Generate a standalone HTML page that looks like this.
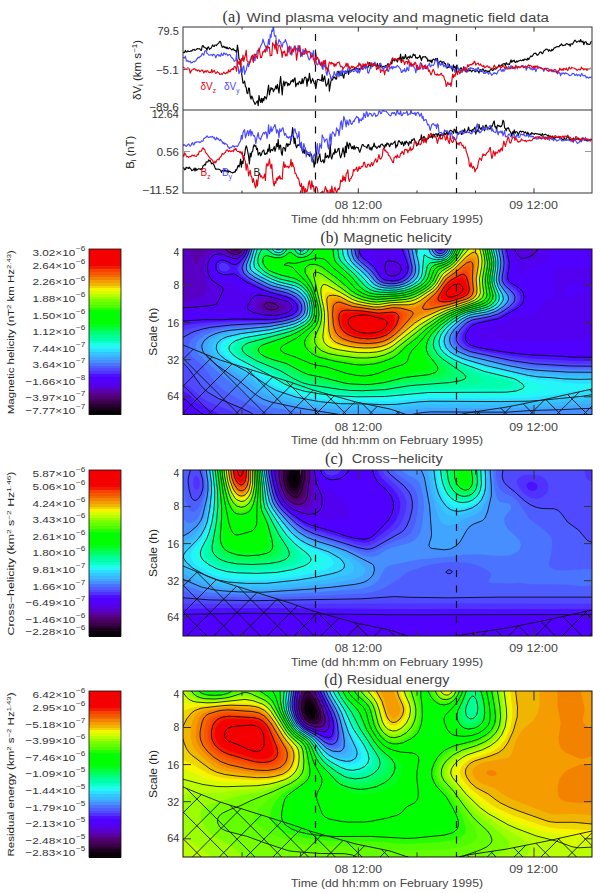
<!DOCTYPE html>
<html><head><meta charset="utf-8"><style>html,body{margin:0;padding:0;background:#fff;}body{width:600px;height:893px;overflow:hidden;}svg{display:block;}</style></head><body>
<svg width="600" height="893" viewBox="0 0 600 893">
<defs>
<clipPath id="pcb"><rect x="183" y="249" width="409" height="165.5"/></clipPath>
<clipPath id="pcc"><rect x="183" y="470" width="409" height="166"/></clipPath>
<clipPath id="pcd"><rect x="183" y="691" width="409" height="166"/></clipPath>
<clipPath id="pau"><rect x="183" y="27" width="409" height="83"/></clipPath>
<clipPath id="pal"><rect x="183" y="110" width="409" height="83"/></clipPath>
</defs>
<rect width="600" height="893" fill="#fff"/>
<text x="222.5" y="21.8" font-size="16.5" textLength="18" lengthAdjust="spacingAndGlyphs" fill="#333" font-family='"Liberation Serif", serif'>(a)</text>
<text x="246.5" y="21.6" font-size="12.5" textLength="302.5" lengthAdjust="spacingAndGlyphs" fill="#444" font-family='"Liberation Sans", sans-serif'>Wind plasma velocity and magnetic field data</text>
<path d="M183.0 52.0 183.8 52.8 184.6 52.4 185.4 50.4 186.2 52.0 187.0 52.0 187.8 50.8 188.6 51.5 189.4 51.5 190.2 51.3 191.0 50.8 191.8 51.1 192.6 49.7 193.4 49.8 194.2 49.4 195.0 50.3 195.8 49.9 196.6 49.3 197.4 48.5 198.2 48.7 199.0 49.0 199.8 48.7 200.6 50.2 201.4 50.3 202.2 46.2 203.0 45.5 203.8 47.1 204.6 47.3 205.4 48.0 206.2 48.1 207.0 50.2 207.8 47.2 208.6 46.9 209.4 49.4 210.2 48.6 211.0 48.3 211.8 46.8 212.6 44.9 213.4 46.2 214.2 46.5 215.0 45.0 215.8 45.0 216.6 45.6 217.4 44.1 218.2 43.5 219.0 42.6 219.8 41.3 220.6 41.9 221.4 45.0 222.2 47.2 223.0 47.1 223.8 46.1 224.6 47.6 225.4 47.0 226.2 48.5 227.0 47.0 227.8 48.9 228.6 48.8 229.4 47.6 230.2 48.4 231.0 49.2 231.8 50.0 232.6 49.1 233.4 48.8 234.2 50.4 235.0 50.4 235.8 50.8 236.6 53.2 237.4 45.2 238.2 50.2 239.0 59.1 239.8 59.4 240.6 61.7 241.4 72.2 242.2 77.4 243.0 83.1 243.8 82.9 244.6 81.0 245.4 86.3 246.2 87.4 247.0 93.0 247.8 93.6 248.6 88.0 249.4 88.3 250.2 96.5 251.0 99.2 251.8 96.0 252.6 97.9 253.4 100.7 254.2 102.3 255.0 104.4 255.8 103.2 256.6 101.8 257.4 100.9 258.2 105.6 259.0 95.6 259.8 100.0 260.6 102.4 261.4 98.3 262.2 102.7 263.0 98.4 263.8 100.8 264.6 96.5 265.4 97.1 266.2 99.1 267.0 96.2 267.8 90.2 268.6 85.2 269.4 94.8 270.2 91.0 271.0 87.6 271.8 89.2 272.6 88.4 273.4 91.7 274.2 89.8 275.0 88.9 275.8 85.8 276.6 88.8 277.4 84.3 278.2 88.6 279.0 93.1 279.8 83.5 280.6 76.6 281.4 85.1 282.2 94.9 283.0 85.4 283.8 81.0 284.6 85.9 285.4 82.3 286.2 82.1 287.0 82.6 287.8 85.8 288.6 83.5 289.4 85.0 290.2 83.8 291.0 80.9 291.8 81.7 292.6 79.6 293.4 82.2 294.2 79.0 295.0 77.9 295.8 86.6 296.6 84.1 297.4 83.1 298.2 84.7 299.0 81.9 299.8 81.4 300.6 83.6 301.4 83.7 302.2 78.5 303.0 83.7 303.8 80.4 304.6 77.5 305.4 77.0 306.2 78.6 307.0 86.3 307.8 78.9 308.6 81.0 309.4 73.4 310.2 78.4 311.0 83.3 311.8 80.9 312.6 78.6 313.4 80.8 314.2 83.2 315.0 83.9 315.8 88.7 316.6 84.0 317.4 79.4 318.2 79.5 319.0 79.6 319.8 80.2 320.6 80.1 321.4 80.9 322.2 74.6 323.0 81.5 323.8 79.0 324.6 76.0 325.4 81.6 326.2 86.1 327.0 84.8 327.8 83.2 328.6 78.8 329.4 91.1 330.2 85.3 331.0 81.0 331.8 79.4 332.6 79.9 333.4 76.5 334.2 78.0 335.0 76.9 335.8 79.1 336.6 78.9 337.4 71.3 338.2 73.5 339.0 71.1 339.8 75.3 340.6 74.9 341.4 75.3 342.2 72.2 343.0 76.4 343.8 78.2 344.6 72.7 345.4 73.4 346.2 71.5 347.0 71.9 347.8 69.6 348.6 74.5 349.4 70.7 350.2 70.5 351.0 71.8 351.8 69.9 352.6 69.9 353.4 69.1 354.2 69.5 355.0 67.5 355.8 68.1 356.6 68.6 357.4 68.5 358.2 69.0 359.0 68.4 359.8 70.1 360.6 68.5 361.4 68.2 362.2 66.9 363.0 66.6 363.8 65.0 364.6 67.7 365.4 65.4 366.2 65.2 367.0 67.1 367.8 67.7 368.6 66.3 369.4 62.6 370.2 65.8 371.0 66.5 371.8 63.5 372.6 66.6 373.4 65.0 374.2 63.6 375.0 65.5 375.8 65.7 376.6 66.5 377.4 63.4 378.2 68.9 379.0 66.2 379.8 63.6 380.6 66.8 381.4 66.1 382.2 67.2 383.0 66.3 383.8 66.6 384.6 67.3 385.4 65.5 386.2 67.2 387.0 65.3 387.8 63.7 388.6 64.6 389.4 65.3 390.2 64.0 391.0 62.1 391.8 64.0 392.6 59.8 393.4 59.5 394.2 61.1 395.0 58.8 395.8 60.3 396.6 60.4 397.4 62.0 398.2 58.8 399.0 58.0 399.8 59.2 400.6 54.1 401.4 62.6 402.2 58.1 403.0 56.6 403.8 59.0 404.6 58.1 405.4 54.5 406.2 57.7 407.0 59.2 407.8 57.2 408.6 56.8 409.4 58.1 410.2 55.8 411.0 57.6 411.8 57.7 412.6 56.0 413.4 54.0 414.2 55.5 415.0 54.7 415.8 58.0 416.6 57.5 417.4 58.4 418.2 57.5 419.0 57.4 419.8 55.3 420.6 57.5 421.4 60.6 422.2 57.9 423.0 56.5 423.8 57.1 424.6 56.8 425.4 56.4 426.2 58.1 427.0 58.0 427.8 61.4 428.6 60.0 429.4 60.3 430.2 61.8 431.0 60.0 431.8 62.9 432.6 60.1 433.4 59.0 434.2 59.6 435.0 60.4 435.8 58.4 436.6 60.5 437.4 58.3 438.2 63.6 439.0 62.8 439.8 61.7 440.6 61.0 441.4 61.9 442.2 62.8 443.0 61.7 443.8 61.8 444.6 63.4 445.4 63.5 446.2 66.6 447.0 68.2 447.8 66.8 448.6 67.4 449.4 64.4 450.2 67.3 451.0 67.3 451.8 68.4 452.6 71.1 453.4 64.9 454.2 67.8 455.0 66.4 455.8 69.1 456.6 66.5 457.4 67.2 458.2 68.8 459.0 70.2 459.8 69.7 460.6 68.0 461.4 67.9 462.2 70.6 463.0 69.9 463.8 66.6 464.6 70.2 465.4 70.8 466.2 71.9 467.0 70.0 467.8 71.7 468.6 68.7 469.4 70.8 470.2 69.9 471.0 71.0 471.8 71.8 472.6 70.2 473.4 70.3 474.2 70.5 475.0 71.8 475.8 71.7 476.6 69.6 477.4 70.7 478.2 71.4 479.0 73.1 479.8 69.6 480.6 69.6 481.4 71.6 482.2 69.4 483.0 68.8 483.8 70.5 484.6 71.6 485.4 70.2 486.2 71.0 487.0 70.8 487.8 72.3 488.6 71.1 489.4 71.8 490.2 69.9 491.0 69.7 491.8 69.5 492.6 70.6 493.4 70.1 494.2 68.3 495.0 69.0 495.8 69.2 496.6 68.0 497.4 67.3 498.2 66.8 499.0 64.8 499.8 66.0 500.6 66.2 501.4 64.9 502.2 66.0 503.0 63.8 503.8 63.7 504.6 63.6 505.4 66.0 506.2 62.7 507.0 63.7 507.8 64.4 508.6 63.9 509.4 64.5 510.2 62.2 511.0 59.9 511.8 62.3 512.6 60.8 513.4 61.2 514.2 60.2 515.0 62.2 515.8 62.6 516.6 60.9 517.4 61.9 518.2 61.3 519.0 60.7 519.8 60.6 520.6 60.1 521.4 60.7 522.2 60.5 523.0 59.6 523.8 60.6 524.6 59.1 525.4 59.3 526.2 59.3 527.0 60.2 527.8 58.1 528.6 59.6 529.4 58.2 530.2 57.0 531.0 55.8 531.8 56.6 532.6 56.0 533.4 54.3 534.2 53.4 535.0 53.5 535.8 53.1 536.6 54.7 537.4 55.3 538.2 54.7 539.0 53.6 539.8 52.2 540.6 51.9 541.4 52.5 542.2 53.8 543.0 52.9 543.8 51.1 544.6 50.6 545.4 49.7 546.2 49.0 547.0 49.2 547.8 49.5 548.6 51.3 549.4 49.8 550.2 50.6 551.0 51.2 551.8 49.4 552.6 50.3 553.4 49.4 554.2 47.8 555.0 47.8 555.8 47.3 556.6 46.8 557.4 46.5 558.2 46.6 559.0 46.8 559.8 45.3 560.6 45.5 561.4 43.8 562.2 45.0 563.0 45.7 563.8 45.3 564.6 45.1 565.4 45.2 566.2 43.8 567.0 43.6 567.8 44.2 568.6 44.8 569.4 44.2 570.2 46.2 571.0 43.8 571.8 44.0 572.6 44.3 573.4 42.6 574.2 41.2 575.0 40.1 575.8 41.1 576.6 42.3 577.4 41.7 578.2 41.3 579.0 40.9 579.8 42.0 580.6 39.5 581.4 41.5 582.2 42.1 583.0 41.0 583.8 44.7 584.6 42.2 585.4 41.9 586.2 41.8 587.0 44.5 587.8 43.5 588.6 44.5 589.4 44.5 590.2 43.9 591.0 41.7 591.8 41.5" fill="none" stroke="#000" stroke-width="1.15" stroke-linejoin="round" clip-path="url(#pau)"/>
<path d="M183.0 57.8 183.8 57.6 184.6 58.0 185.4 56.1 186.2 60.4 187.0 61.5 187.8 60.5 188.6 61.6 189.4 61.8 190.2 61.2 191.0 62.9 191.8 62.4 192.6 62.4 193.4 61.6 194.2 62.0 195.0 61.1 195.8 60.9 196.6 59.1 197.4 58.8 198.2 57.1 199.0 57.9 199.8 57.0 200.6 56.3 201.4 55.7 202.2 53.4 203.0 54.1 203.8 55.2 204.6 51.8 205.4 50.7 206.2 50.7 207.0 53.5 207.8 53.8 208.6 55.0 209.4 55.2 210.2 54.9 211.0 55.0 211.8 54.6 212.6 55.8 213.4 54.2 214.2 54.5 215.0 55.5 215.8 57.7 216.6 55.7 217.4 54.6 218.2 54.6 219.0 56.1 219.8 55.1 220.6 56.3 221.4 53.1 222.2 55.1 223.0 55.5 223.8 52.8 224.6 53.4 225.4 54.7 226.2 53.7 227.0 54.2 227.8 55.7 228.6 54.8 229.4 54.6 230.2 54.7 231.0 56.9 231.8 57.5 232.6 58.4 233.4 59.4 234.2 61.3 235.0 60.8 235.8 60.7 236.6 52.9 237.4 65.8 238.2 67.1 239.0 73.6 239.8 71.3 240.6 68.7 241.4 73.0 242.2 72.8 243.0 67.2 243.8 65.9 244.6 74.3 245.4 71.5 246.2 70.1 247.0 66.4 247.8 62.9 248.6 66.7 249.4 63.8 250.2 59.8 251.0 59.9 251.8 56.5 252.6 58.6 253.4 62.1 254.2 55.6 255.0 60.8 255.8 54.4 256.6 54.5 257.4 50.3 258.2 50.4 259.0 50.8 259.8 48.5 260.6 46.1 261.4 44.7 262.2 43.1 263.0 39.1 263.8 41.8 264.6 44.5 265.4 46.6 266.2 45.8 267.0 51.4 267.8 45.0 268.6 39.3 269.4 44.7 270.2 34.7 271.0 37.4 271.8 30.2 272.6 31.3 273.4 24.4 274.2 34.8 275.0 36.4 275.8 35.7 276.6 45.1 277.4 45.2 278.2 43.0 279.0 39.6 279.8 41.3 280.6 41.7 281.4 45.4 282.2 47.2 283.0 42.9 283.8 42.1 284.6 42.2 285.4 39.5 286.2 41.6 287.0 44.3 287.8 48.3 288.6 52.2 289.4 46.1 290.2 49.0 291.0 46.7 291.8 55.2 292.6 50.7 293.4 51.3 294.2 46.6 295.0 45.6 295.8 49.1 296.6 48.4 297.4 51.0 298.2 45.3 299.0 51.5 299.8 48.2 300.6 56.8 301.4 52.7 302.2 56.5 303.0 49.1 303.8 53.4 304.6 50.5 305.4 51.2 306.2 53.7 307.0 53.6 307.8 56.0 308.6 58.9 309.4 59.9 310.2 57.9 311.0 52.9 311.8 53.5 312.6 56.2 313.4 50.5 314.2 59.2 315.0 59.0 315.8 59.2 316.6 63.9 317.4 64.9 318.2 63.9 319.0 59.5 319.8 63.0 320.6 65.0 321.4 62.0 322.2 68.5 323.0 69.5 323.8 61.6 324.6 67.0 325.4 64.6 326.2 73.0 327.0 75.4 327.8 70.0 328.6 69.6 329.4 73.6 330.2 75.1 331.0 79.4 331.8 78.6 332.6 76.1 333.4 76.6 334.2 71.6 335.0 74.0 335.8 75.6 336.6 73.9 337.4 72.0 338.2 73.6 339.0 76.8 339.8 74.5 340.6 71.0 341.4 74.6 342.2 69.5 343.0 72.1 343.8 70.9 344.6 73.2 345.4 70.6 346.2 73.7 347.0 72.7 347.8 68.4 348.6 66.4 349.4 68.7 350.2 72.5 351.0 71.5 351.8 71.0 352.6 70.1 353.4 71.6 354.2 71.3 355.0 70.9 355.8 68.3 356.6 71.4 357.4 72.7 358.2 68.0 359.0 73.1 359.8 71.8 360.6 69.0 361.4 65.2 362.2 68.6 363.0 69.5 363.8 67.6 364.6 64.5 365.4 68.9 366.2 67.0 367.0 66.5 367.8 72.6 368.6 73.2 369.4 71.1 370.2 67.6 371.0 68.4 371.8 63.0 372.6 65.5 373.4 64.7 374.2 63.3 375.0 62.1 375.8 65.6 376.6 66.2 377.4 66.7 378.2 68.4 379.0 65.9 379.8 64.4 380.6 63.1 381.4 65.5 382.2 68.6 383.0 68.1 383.8 69.5 384.6 66.8 385.4 67.2 386.2 66.8 387.0 65.8 387.8 71.3 388.6 71.4 389.4 68.4 390.2 67.4 391.0 68.4 391.8 66.2 392.6 69.0 393.4 66.7 394.2 67.7 395.0 66.8 395.8 67.6 396.6 66.3 397.4 65.4 398.2 66.3 399.0 67.2 399.8 68.2 400.6 69.3 401.4 72.5 402.2 72.3 403.0 70.0 403.8 71.0 404.6 68.6 405.4 71.8 406.2 71.1 407.0 67.1 407.8 69.7 408.6 70.6 409.4 64.2 410.2 65.5 411.0 66.5 411.8 63.9 412.6 64.6 413.4 65.0 414.2 67.8 415.0 68.3 415.8 72.8 416.6 68.6 417.4 70.0 418.2 68.3 419.0 68.0 419.8 65.1 420.6 62.6 421.4 63.8 422.2 67.0 423.0 69.5 423.8 68.5 424.6 67.8 425.4 64.9 426.2 68.3 427.0 69.0 427.8 65.6 428.6 65.2 429.4 63.2 430.2 67.0 431.0 66.3 431.8 64.9 432.6 65.3 433.4 65.4 434.2 63.7 435.0 61.4 435.8 60.4 436.6 59.1 437.4 62.9 438.2 67.8 439.0 62.2 439.8 63.9 440.6 65.2 441.4 63.1 442.2 64.8 443.0 63.1 443.8 67.0 444.6 65.1 445.4 65.9 446.2 67.5 447.0 66.0 447.8 63.1 448.6 64.6 449.4 67.7 450.2 67.4 451.0 68.0 451.8 65.9 452.6 67.6 453.4 69.5 454.2 69.0 455.0 72.5 455.8 69.6 456.6 67.0 457.4 65.0 458.2 69.6 459.0 68.9 459.8 70.7 460.6 70.3 461.4 72.3 462.2 72.4 463.0 69.3 463.8 69.4 464.6 71.0 465.4 67.2 466.2 70.9 467.0 71.8 467.8 71.6 468.6 69.3 469.4 69.5 470.2 67.6 471.0 68.4 471.8 67.9 472.6 68.7 473.4 68.5 474.2 69.4 475.0 70.9 475.8 68.8 476.6 70.7 477.4 68.3 478.2 67.5 479.0 69.6 479.8 70.6 480.6 71.6 481.4 69.8 482.2 71.0 483.0 71.8 483.8 73.5 484.6 72.8 485.4 73.4 486.2 72.1 487.0 72.6 487.8 72.7 488.6 74.1 489.4 72.9 490.2 72.7 491.0 73.9 491.8 75.5 492.6 74.3 493.4 73.7 494.2 72.6 495.0 73.6 495.8 73.2 496.6 74.2 497.4 72.8 498.2 70.8 499.0 70.3 499.8 69.6 500.6 68.8 501.4 71.2 502.2 71.3 503.0 69.0 503.8 71.3 504.6 70.3 505.4 68.4 506.2 69.1 507.0 68.7 507.8 67.8 508.6 66.1 509.4 67.7 510.2 68.4 511.0 65.5 511.8 67.9 512.6 68.7 513.4 67.8 514.2 68.0 515.0 67.6 515.8 66.8 516.6 67.0 517.4 68.9 518.2 66.5 519.0 67.4 519.8 67.6 520.6 66.7 521.4 66.6 522.2 65.5 523.0 65.6 523.8 66.6 524.6 67.2 525.4 66.1 526.2 70.2 527.0 67.8 527.8 67.8 528.6 67.4 529.4 67.2 530.2 69.1 531.0 67.9 531.8 69.6 532.6 70.0 533.4 67.8 534.2 69.5 535.0 68.3 535.8 71.7 536.6 69.5 537.4 68.2 538.2 66.8 539.0 67.0 539.8 68.0 540.6 68.0 541.4 67.8 542.2 68.4 543.0 69.2 543.8 71.4 544.6 68.8 545.4 69.2 546.2 68.9 547.0 68.3 547.8 68.5 548.6 69.0 549.4 71.0 550.2 70.8 551.0 70.4 551.8 71.6 552.6 71.7 553.4 71.3 554.2 71.9 555.0 70.8 555.8 72.1 556.6 72.5 557.4 71.7 558.2 70.6 559.0 73.3 559.8 72.8 560.6 75.9 561.4 73.1 562.2 73.8 563.0 72.8 563.8 73.3 564.6 74.2 565.4 72.8 566.2 73.2 567.0 73.7 567.8 73.9 568.6 74.6 569.4 75.5 570.2 75.6 571.0 75.2 571.8 74.4 572.6 73.4 573.4 73.6 574.2 74.0 575.0 75.5 575.8 75.0 576.6 74.0 577.4 75.8 578.2 74.9 579.0 74.7 579.8 75.3 580.6 76.3 581.4 73.6 582.2 74.1 583.0 75.8 583.8 75.9 584.6 75.4 585.4 75.7 586.2 77.9 587.0 76.8 587.8 77.7 588.6 78.2 589.4 77.1 590.2 77.7 591.0 77.0 591.8 76.7" fill="none" stroke="#4848ff" stroke-width="1.15" stroke-linejoin="round" clip-path="url(#pau)"/>
<path d="M183.0 70.0 183.8 67.2 184.6 69.5 185.4 69.2 186.2 69.2 187.0 69.5 187.8 67.6 188.6 68.9 189.4 68.7 190.2 73.2 191.0 71.4 191.8 70.1 192.6 69.7 193.4 69.2 194.2 68.5 195.0 69.1 195.8 70.2 196.6 69.8 197.4 71.0 198.2 70.1 199.0 70.1 199.8 71.7 200.6 71.3 201.4 70.1 202.2 70.1 203.0 71.0 203.8 73.0 204.6 71.3 205.4 70.9 206.2 72.2 207.0 70.6 207.8 70.8 208.6 72.3 209.4 72.6 210.2 72.2 211.0 72.8 211.8 69.3 212.6 72.4 213.4 71.4 214.2 70.3 215.0 72.2 215.8 73.4 216.6 72.7 217.4 71.7 218.2 72.6 219.0 72.8 219.8 74.5 220.6 74.3 221.4 73.7 222.2 74.5 223.0 73.3 223.8 72.1 224.6 73.3 225.4 73.8 226.2 73.0 227.0 72.1 227.8 73.0 228.6 69.8 229.4 71.8 230.2 71.9 231.0 69.3 231.8 69.8 232.6 68.5 233.4 69.6 234.2 66.6 235.0 66.4 235.8 67.7 236.6 71.3 237.4 60.2 238.2 61.7 239.0 64.4 239.8 61.2 240.6 67.2 241.4 58.6 242.2 60.4 243.0 55.2 243.8 61.5 244.6 57.8 245.4 55.3 246.2 50.1 247.0 60.8 247.8 61.4 248.6 61.9 249.4 63.7 250.2 61.8 251.0 57.8 251.8 56.1 252.6 55.1 253.4 62.2 254.2 54.2 255.0 54.3 255.8 55.0 256.6 56.9 257.4 58.5 258.2 52.2 259.0 48.0 259.8 52.5 260.6 57.8 261.4 57.5 262.2 54.9 263.0 51.5 263.8 52.0 264.6 49.7 265.4 52.2 266.2 46.7 267.0 47.6 267.8 46.5 268.6 47.9 269.4 47.3 270.2 55.9 271.0 55.3 271.8 55.4 272.6 42.9 273.4 44.8 274.2 44.8 275.0 49.1 275.8 40.7 276.6 50.4 277.4 53.7 278.2 46.5 279.0 45.4 279.8 45.4 280.6 48.4 281.4 51.5 282.2 57.5 283.0 51.5 283.8 52.8 284.6 51.0 285.4 56.0 286.2 54.2 287.0 55.9 287.8 47.9 288.6 48.3 289.4 46.4 290.2 54.1 291.0 53.9 291.8 50.5 292.6 48.9 293.4 51.8 294.2 48.6 295.0 46.8 295.8 51.4 296.6 60.2 297.4 53.7 298.2 50.4 299.0 47.1 299.8 45.5 300.6 51.7 301.4 55.2 302.2 53.5 303.0 54.2 303.8 53.9 304.6 54.1 305.4 48.4 306.2 50.4 307.0 53.4 307.8 51.4 308.6 52.1 309.4 51.3 310.2 52.9 311.0 58.0 311.8 55.5 312.6 55.7 313.4 59.5 314.2 60.4 315.0 64.7 315.8 52.8 316.6 59.5 317.4 57.2 318.2 58.8 319.0 62.1 319.8 64.4 320.6 65.2 321.4 62.4 322.2 66.8 323.0 61.7 323.8 60.5 324.6 63.7 325.4 60.1 326.2 68.7 327.0 67.8 327.8 71.8 328.6 65.4 329.4 62.0 330.2 62.7 331.0 64.2 331.8 62.3 332.6 63.7 333.4 63.5 334.2 66.7 335.0 63.7 335.8 66.0 336.6 63.7 337.4 62.5 338.2 62.7 339.0 61.9 339.8 64.3 340.6 66.9 341.4 66.3 342.2 67.0 343.0 69.3 343.8 67.6 344.6 67.0 345.4 66.0 346.2 63.2 347.0 66.8 347.8 63.4 348.6 66.9 349.4 66.9 350.2 69.2 351.0 67.8 351.8 66.0 352.6 67.7 353.4 66.7 354.2 67.2 355.0 67.8 355.8 67.5 356.6 67.2 357.4 65.8 358.2 66.4 359.0 62.8 359.8 65.2 360.6 64.0 361.4 67.9 362.2 69.4 363.0 63.7 363.8 65.6 364.6 65.7 365.4 63.8 366.2 66.1 367.0 64.9 367.8 61.9 368.6 63.6 369.4 64.3 370.2 64.9 371.0 62.5 371.8 65.1 372.6 66.5 373.4 63.7 374.2 63.9 375.0 65.2 375.8 65.0 376.6 69.6 377.4 68.5 378.2 66.0 379.0 65.8 379.8 67.4 380.6 72.6 381.4 70.0 382.2 69.9 383.0 70.8 383.8 70.3 384.6 74.8 385.4 70.5 386.2 70.4 387.0 68.6 387.8 68.1 388.6 63.7 389.4 67.1 390.2 64.0 391.0 62.4 391.8 59.3 392.6 57.9 393.4 59.1 394.2 59.6 395.0 58.6 395.8 59.9 396.6 59.6 397.4 58.5 398.2 59.8 399.0 60.0 399.8 59.0 400.6 60.5 401.4 62.3 402.2 61.1 403.0 59.8 403.8 61.6 404.6 64.7 405.4 62.0 406.2 61.5 407.0 61.5 407.8 64.2 408.6 59.6 409.4 62.4 410.2 65.1 411.0 62.5 411.8 66.2 412.6 65.9 413.4 63.9 414.2 64.9 415.0 62.1 415.8 63.2 416.6 68.3 417.4 65.2 418.2 69.5 419.0 67.6 419.8 69.2 420.6 68.1 421.4 63.6 422.2 65.4 423.0 67.7 423.8 66.2 424.6 65.5 425.4 68.7 426.2 68.1 427.0 66.2 427.8 67.6 428.6 71.3 429.4 70.2 430.2 72.7 431.0 75.0 431.8 73.1 432.6 70.5 433.4 69.4 434.2 71.7 435.0 74.5 435.8 74.5 436.6 75.2 437.4 73.9 438.2 75.3 439.0 74.8 439.8 75.2 440.6 73.9 441.4 73.3 442.2 75.6 443.0 75.6 443.8 76.3 444.6 80.0 445.4 80.2 446.2 86.4 447.0 85.2 447.8 82.2 448.6 84.2 449.4 84.5 450.2 83.0 451.0 86.3 451.8 81.6 452.6 74.2 453.4 77.6 454.2 74.7 455.0 76.3 455.8 73.1 456.6 70.6 457.4 74.6 458.2 70.7 459.0 71.5 459.8 73.8 460.6 71.7 461.4 70.3 462.2 69.8 463.0 70.8 463.8 67.6 464.6 68.9 465.4 69.0 466.2 72.0 467.0 67.7 467.8 64.7 468.6 66.5 469.4 64.7 470.2 64.8 471.0 64.3 471.8 65.0 472.6 63.4 473.4 63.6 474.2 61.1 475.0 62.1 475.8 65.2 476.6 64.0 477.4 63.6 478.2 63.0 479.0 64.9 479.8 65.2 480.6 63.9 481.4 65.6 482.2 65.9 483.0 66.6 483.8 65.4 484.6 67.7 485.4 67.2 486.2 66.5 487.0 65.9 487.8 66.1 488.6 67.5 489.4 66.9 490.2 68.2 491.0 68.1 491.8 68.8 492.6 68.5 493.4 67.5 494.2 65.1 495.0 66.7 495.8 67.7 496.6 67.4 497.4 67.8 498.2 66.7 499.0 66.5 499.8 65.8 500.6 68.1 501.4 67.5 502.2 66.7 503.0 65.4 503.8 66.3 504.6 68.3 505.4 68.0 506.2 66.5 507.0 68.4 507.8 69.0 508.6 68.7 509.4 68.4 510.2 68.6 511.0 68.0 511.8 68.0 512.6 66.3 513.4 68.2 514.2 67.4 515.0 69.1 515.8 65.1 516.6 66.8 517.4 67.6 518.2 66.4 519.0 66.8 519.8 67.3 520.6 67.2 521.4 66.0 522.2 65.9 523.0 67.1 523.8 67.8 524.6 66.7 525.4 66.4 526.2 66.5 527.0 67.6 527.8 65.7 528.6 64.9 529.4 66.2 530.2 65.4 531.0 65.8 531.8 66.8 532.6 67.6 533.4 66.3 534.2 68.0 535.0 65.8 535.8 67.7 536.6 66.1 537.4 66.0 538.2 68.1 539.0 67.8 539.8 67.3 540.6 67.6 541.4 68.8 542.2 68.7 543.0 68.8 543.8 70.0 544.6 68.6 545.4 68.4 546.2 68.3 547.0 70.2 547.8 70.7 548.6 71.3 549.4 70.1 550.2 69.6 551.0 70.6 551.8 69.6 552.6 70.6 553.4 70.9 554.2 69.5 555.0 69.8 555.8 69.9 556.6 72.0 557.4 73.7 558.2 71.4 559.0 70.8 559.8 68.1 560.6 69.8 561.4 70.1 562.2 68.9 563.0 70.5 563.8 68.3 564.6 69.0 565.4 69.5 566.2 68.1 567.0 69.9 567.8 70.6 568.6 68.1 569.4 67.1 570.2 68.9 571.0 68.8 571.8 67.3 572.6 67.7 573.4 68.0 574.2 68.0 575.0 69.0 575.8 68.7 576.6 70.1 577.4 70.1 578.2 69.3 579.0 69.5 579.8 69.9 580.6 69.4 581.4 67.1 582.2 68.7 583.0 68.4 583.8 70.0 584.6 68.9 585.4 69.1 586.2 68.9 587.0 70.4 587.8 69.3 588.6 68.5 589.4 68.9 590.2 68.2 591.0 68.7 591.8 68.7" fill="none" stroke="#e80010" stroke-width="1.15" stroke-linejoin="round" clip-path="url(#pau)"/>
<path d="M183.0 168.0 183.8 167.9 184.6 169.8 185.4 169.5 186.2 167.2 187.0 168.0 187.8 167.8 188.6 168.5 189.4 167.1 190.2 168.5 191.0 169.1 191.8 170.7 192.6 170.0 193.4 170.0 194.2 168.1 195.0 171.2 195.8 168.2 196.6 170.3 197.4 169.6 198.2 168.9 199.0 168.9 199.8 169.0 200.6 169.4 201.4 168.5 202.2 169.2 203.0 165.7 203.8 165.7 204.6 164.3 205.4 165.0 206.2 161.8 207.0 162.0 207.8 162.0 208.6 159.9 209.4 161.0 210.2 160.6 211.0 162.6 211.8 163.9 212.6 163.2 213.4 163.9 214.2 165.5 215.0 167.7 215.8 169.3 216.6 169.1 217.4 169.3 218.2 169.1 219.0 169.2 219.8 169.7 220.6 170.0 221.4 172.4 222.2 170.7 223.0 170.4 223.8 171.1 224.6 169.9 225.4 170.2 226.2 170.7 227.0 171.7 227.8 170.0 228.6 172.2 229.4 171.2 230.2 171.5 231.0 172.3 231.8 172.5 232.6 173.0 233.4 172.3 234.2 171.9 235.0 172.2 235.8 169.7 236.6 170.2 237.4 167.6 238.2 165.3 239.0 167.0 239.8 164.6 240.6 159.0 241.4 167.3 242.2 161.2 243.0 163.5 243.8 156.2 244.6 155.1 245.4 148.9 246.2 145.8 247.0 148.0 247.8 151.9 248.6 156.4 249.4 163.9 250.2 153.2 251.0 156.9 251.8 151.9 252.6 151.7 253.4 146.6 254.2 144.7 255.0 146.5 255.8 145.5 256.6 149.6 257.4 148.2 258.2 155.1 259.0 153.2 259.8 152.5 260.6 155.8 261.4 154.6 262.2 151.9 263.0 150.7 263.8 150.0 264.6 154.2 265.4 154.5 266.2 152.9 267.0 153.9 267.8 149.0 268.6 151.2 269.4 144.5 270.2 152.4 271.0 150.1 271.8 149.5 272.6 150.7 273.4 148.5 274.2 146.6 275.0 151.3 275.8 148.6 276.6 143.5 277.4 146.7 278.2 139.4 279.0 149.4 279.8 145.8 280.6 145.1 281.4 153.1 282.2 155.3 283.0 148.1 283.8 147.3 284.6 148.6 285.4 151.1 286.2 144.8 287.0 143.4 287.8 146.7 288.6 144.0 289.4 144.7 290.2 144.1 291.0 137.0 291.8 135.3 292.6 127.6 293.4 134.4 294.2 143.6 295.0 138.0 295.8 145.5 296.6 147.8 297.4 145.1 298.2 144.9 299.0 145.7 299.8 143.0 300.6 144.7 301.4 146.8 302.2 150.6 303.0 153.1 303.8 148.6 304.6 153.5 305.4 149.6 306.2 151.0 307.0 154.1 307.8 154.1 308.6 154.2 309.4 156.3 310.2 154.4 311.0 153.8 311.8 155.8 312.6 161.4 313.4 159.8 314.2 167.1 315.0 162.7 315.8 148.9 316.6 153.5 317.4 162.9 318.2 159.7 319.0 156.7 319.8 153.8 320.6 160.9 321.4 162.0 322.2 161.0 323.0 159.7 323.8 162.9 324.6 161.5 325.4 153.1 326.2 157.7 327.0 156.8 327.8 155.4 328.6 158.0 329.4 156.1 330.2 144.0 331.0 156.7 331.8 159.0 332.6 155.3 333.4 152.9 334.2 154.2 335.0 148.8 335.8 152.9 336.6 152.1 337.4 151.2 338.2 148.6 339.0 148.4 339.8 154.9 340.6 157.8 341.4 155.5 342.2 152.4 343.0 147.9 343.8 152.2 344.6 156.9 345.4 146.1 346.2 152.7 347.0 142.1 347.8 145.1 348.6 148.7 349.4 143.1 350.2 143.9 351.0 146.6 351.8 148.7 352.6 146.5 353.4 149.2 354.2 145.6 355.0 149.3 355.8 147.5 356.6 147.1 357.4 147.8 358.2 147.5 359.0 150.5 359.8 152.3 360.6 149.7 361.4 147.4 362.2 144.6 363.0 144.6 363.8 146.1 364.6 146.5 365.4 146.8 366.2 147.0 367.0 148.2 367.8 144.9 368.6 144.5 369.4 148.7 370.2 149.6 371.0 147.3 371.8 150.2 372.6 147.0 373.4 146.5 374.2 143.0 375.0 146.9 375.8 146.4 376.6 148.2 377.4 147.9 378.2 146.4 379.0 145.8 379.8 147.5 380.6 145.2 381.4 144.2 382.2 144.1 383.0 145.4 383.8 145.9 384.6 147.9 385.4 144.5 386.2 146.1 387.0 142.8 387.8 144.2 388.6 143.7 389.4 146.8 390.2 145.6 391.0 143.1 391.8 144.3 392.6 144.2 393.4 142.9 394.2 142.5 395.0 141.0 395.8 147.9 396.6 145.1 397.4 145.8 398.2 141.7 399.0 140.5 399.8 141.9 400.6 142.4 401.4 144.5 402.2 141.6 403.0 143.5 403.8 146.0 404.6 141.9 405.4 144.1 406.2 141.0 407.0 142.4 407.8 142.8 408.6 145.6 409.4 141.7 410.2 141.9 411.0 143.6 411.8 139.7 412.6 140.5 413.4 139.0 414.2 138.7 415.0 141.3 415.8 142.1 416.6 146.0 417.4 144.9 418.2 144.2 419.0 141.0 419.8 139.5 420.6 139.7 421.4 134.9 422.2 140.9 423.0 138.3 423.8 136.5 424.6 136.9 425.4 139.7 426.2 141.2 427.0 138.4 427.8 139.0 428.6 138.1 429.4 135.8 430.2 137.2 431.0 137.3 431.8 134.1 432.6 138.1 433.4 134.1 434.2 136.2 435.0 134.2 435.8 133.9 436.6 133.9 437.4 136.6 438.2 133.4 439.0 134.3 439.8 138.0 440.6 134.6 441.4 134.6 442.2 135.8 443.0 133.6 443.8 134.8 444.6 132.8 445.4 134.7 446.2 133.9 447.0 131.5 447.8 135.2 448.6 133.3 449.4 132.1 450.2 130.3 451.0 130.4 451.8 131.0 452.6 131.6 453.4 133.5 454.2 129.2 455.0 129.5 455.8 132.8 456.6 131.9 457.4 132.0 458.2 134.4 459.0 132.8 459.8 132.5 460.6 131.3 461.4 134.5 462.2 134.2 463.0 130.6 463.8 131.8 464.6 128.9 465.4 132.3 466.2 132.7 467.0 131.2 467.8 130.1 468.6 127.0 469.4 131.0 470.2 130.7 471.0 130.1 471.8 132.0 472.6 129.8 473.4 129.2 474.2 128.7 475.0 127.1 475.8 134.1 476.6 131.2 477.4 129.9 478.2 131.8 479.0 124.4 479.8 128.0 480.6 129.2 481.4 127.7 482.2 129.9 483.0 125.7 483.8 128.2 484.6 130.8 485.4 125.4 486.2 125.0 487.0 127.3 487.8 128.4 488.6 127.4 489.4 129.0 490.2 129.2 491.0 125.9 491.8 127.1 492.6 125.0 493.4 122.6 494.2 120.9 495.0 127.0 495.8 126.7 496.6 130.6 497.4 125.0 498.2 125.2 499.0 126.5 499.8 125.8 500.6 126.8 501.4 126.2 502.2 124.4 503.0 120.2 503.8 121.4 504.6 127.8 505.4 128.7 506.2 130.8 507.0 128.1 507.8 128.5 508.6 127.8 509.4 130.6 510.2 131.4 511.0 133.1 511.8 136.0 512.6 131.8 513.4 133.5 514.2 129.8 515.0 133.5 515.8 131.7 516.6 131.8 517.4 132.3 518.2 135.5 519.0 133.2 519.8 131.5 520.6 131.0 521.4 132.1 522.2 131.4 523.0 131.5 523.8 132.0 524.6 132.9 525.4 131.9 526.2 133.0 527.0 134.7 527.8 132.1 528.6 134.1 529.4 135.8 530.2 133.7 531.0 134.3 531.8 132.6 532.6 133.8 533.4 133.7 534.2 134.4 535.0 133.5 535.8 133.4 536.6 133.9 537.4 133.9 538.2 134.0 539.0 134.6 539.8 134.0 540.6 134.9 541.4 135.9 542.2 133.6 543.0 135.3 543.8 135.0 544.6 134.6 545.4 134.2 546.2 134.7 547.0 135.0 547.8 136.2 548.6 135.1 549.4 137.0 550.2 135.9 551.0 137.1 551.8 137.9 552.6 136.0 553.4 137.6 554.2 139.4 555.0 137.4 555.8 137.8 556.6 137.3 557.4 137.4 558.2 137.2 559.0 136.9 559.8 138.1 560.6 138.7 561.4 138.1 562.2 139.5 563.0 139.6 563.8 139.3 564.6 137.8 565.4 140.0 566.2 140.2 567.0 136.9 567.8 136.8 568.6 137.5 569.4 139.2 570.2 140.1 571.0 139.0 571.8 139.2 572.6 139.8 573.4 138.0 574.2 139.4 575.0 139.0 575.8 139.4 576.6 139.3 577.4 138.3 578.2 138.1 579.0 139.0 579.8 139.5 580.6 139.2 581.4 140.5 582.2 139.5 583.0 138.3 583.8 138.7 584.6 139.1 585.4 139.2 586.2 140.6 587.0 140.4 587.8 140.9 588.6 140.6 589.4 139.7 590.2 140.6 591.0 139.6 591.8 139.8" fill="none" stroke="#000" stroke-width="1.15" stroke-linejoin="round" clip-path="url(#pal)"/>
<path d="M183.0 146.0 183.8 144.5 184.6 145.0 185.4 145.7 186.2 146.5 187.0 145.7 187.8 144.6 188.6 143.9 189.4 145.1 190.2 146.3 191.0 145.3 191.8 143.3 192.6 142.7 193.4 145.0 194.2 144.3 195.0 142.0 195.8 142.7 196.6 141.8 197.4 141.9 198.2 142.0 199.0 141.7 199.8 142.7 200.6 142.1 201.4 140.9 202.2 141.1 203.0 141.2 203.8 138.3 204.6 138.4 205.4 137.3 206.2 137.3 207.0 135.8 207.8 136.9 208.6 137.4 209.4 137.3 210.2 136.7 211.0 137.2 211.8 136.7 212.6 136.4 213.4 138.0 214.2 137.3 215.0 139.4 215.8 139.8 216.6 137.3 217.4 138.9 218.2 138.6 219.0 139.9 219.8 140.7 220.6 139.3 221.4 140.9 222.2 141.7 223.0 143.6 223.8 142.4 224.6 144.3 225.4 143.4 226.2 144.2 227.0 144.3 227.8 146.9 228.6 146.9 229.4 148.8 230.2 147.6 231.0 147.4 231.8 147.3 232.6 145.9 233.4 145.9 234.2 147.3 235.0 146.1 235.8 146.2 236.6 146.1 237.4 146.6 238.2 145.4 239.0 143.5 239.8 142.1 240.6 140.8 241.4 135.3 242.2 139.3 243.0 132.7 243.8 130.7 244.6 129.7 245.4 137.8 246.2 135.5 247.0 132.3 247.8 130.5 248.6 135.7 249.4 131.8 250.2 129.6 251.0 135.9 251.8 131.1 252.6 133.3 253.4 135.9 254.2 135.6 255.0 137.4 255.8 143.8 256.6 139.5 257.4 135.6 258.2 132.6 259.0 138.2 259.8 138.3 260.6 139.9 261.4 137.1 262.2 135.3 263.0 133.1 263.8 132.4 264.6 134.0 265.4 131.9 266.2 132.2 267.0 138.5 267.8 134.6 268.6 124.8 269.4 133.8 270.2 131.9 271.0 126.5 271.8 131.6 272.6 130.1 273.4 127.3 274.2 126.3 275.0 124.6 275.8 128.1 276.6 133.2 277.4 129.8 278.2 131.5 279.0 137.7 279.8 128.7 280.6 131.6 281.4 130.9 282.2 128.2 283.0 127.8 283.8 131.9 284.6 135.4 285.4 133.4 286.2 135.1 287.0 137.7 287.8 136.7 288.6 138.3 289.4 137.0 290.2 136.4 291.0 141.0 291.8 137.8 292.6 134.5 293.4 135.3 294.2 129.2 295.0 128.9 295.8 132.9 296.6 133.4 297.4 138.3 298.2 136.3 299.0 131.6 299.8 144.6 300.6 147.6 301.4 142.1 302.2 151.0 303.0 150.7 303.8 143.5 304.6 146.8 305.4 148.1 306.2 157.0 307.0 151.6 307.8 152.3 308.6 152.9 309.4 153.2 310.2 151.8 311.0 156.2 311.8 161.4 312.6 162.1 313.4 156.9 314.2 154.1 315.0 155.9 315.8 152.1 316.6 149.8 317.4 143.7 318.2 154.1 319.0 152.6 319.8 143.5 320.6 146.3 321.4 148.4 322.2 134.9 323.0 137.0 323.8 138.0 324.6 142.1 325.4 140.3 326.2 139.0 327.0 139.0 327.8 146.0 328.6 149.0 329.4 139.3 330.2 133.8 331.0 145.1 331.8 134.6 332.6 131.9 333.4 132.8 334.2 134.2 335.0 136.3 335.8 134.0 336.6 127.9 337.4 130.5 338.2 129.9 339.0 135.6 339.8 130.1 340.6 122.7 341.4 120.9 342.2 129.4 343.0 124.5 343.8 116.4 344.6 119.0 345.4 121.8 346.2 126.9 347.0 120.0 347.8 123.6 348.6 125.1 349.4 119.7 350.2 120.1 351.0 123.6 351.8 124.5 352.6 122.8 353.4 120.9 354.2 121.6 355.0 119.0 355.8 118.2 356.6 116.3 357.4 117.3 358.2 117.3 359.0 122.9 359.8 118.9 360.6 120.3 361.4 120.8 362.2 117.8 363.0 119.4 363.8 113.2 364.6 115.4 365.4 117.6 366.2 111.8 367.0 112.1 367.8 116.6 368.6 115.4 369.4 113.2 370.2 113.8 371.0 113.6 371.8 115.9 372.6 116.1 373.4 114.6 374.2 113.1 375.0 113.8 375.8 116.6 376.6 115.6 377.4 115.7 378.2 114.0 379.0 111.0 379.8 111.0 380.6 113.7 381.4 113.4 382.2 111.1 383.0 108.8 383.8 111.3 384.6 111.2 385.4 111.1 386.2 111.2 387.0 112.5 387.8 113.0 388.6 114.5 389.4 115.0 390.2 116.0 391.0 115.3 391.8 112.9 392.6 112.6 393.4 113.6 394.2 112.4 395.0 113.7 395.8 115.4 396.6 112.1 397.4 109.0 398.2 113.9 399.0 113.3 399.8 114.5 400.6 110.8 401.4 115.7 402.2 115.5 403.0 113.7 403.8 112.7 404.6 113.3 405.4 113.1 406.2 112.8 407.0 111.1 407.8 115.3 408.6 114.2 409.4 114.1 410.2 114.2 411.0 109.4 411.8 113.5 412.6 113.3 413.4 113.4 414.2 114.2 415.0 112.4 415.8 115.5 416.6 113.6 417.4 112.5 418.2 112.3 419.0 114.3 419.8 116.3 420.6 114.9 421.4 113.2 422.2 118.3 423.0 116.4 423.8 120.8 424.6 120.3 425.4 119.5 426.2 119.8 427.0 122.7 427.8 125.1 428.6 124.3 429.4 126.9 430.2 130.5 431.0 127.3 431.8 124.6 432.6 124.0 433.4 123.5 434.2 125.0 435.0 125.6 435.8 124.9 436.6 128.6 437.4 123.9 438.2 125.0 439.0 132.2 439.8 133.0 440.6 132.5 441.4 132.4 442.2 135.1 443.0 133.8 443.8 132.7 444.6 129.9 445.4 131.4 446.2 130.8 447.0 130.9 447.8 131.1 448.6 132.7 449.4 132.9 450.2 135.5 451.0 132.3 451.8 133.7 452.6 138.4 453.4 136.6 454.2 138.5 455.0 139.3 455.8 139.6 456.6 138.5 457.4 133.7 458.2 134.2 459.0 134.0 459.8 131.5 460.6 132.7 461.4 131.4 462.2 130.0 463.0 133.2 463.8 133.7 464.6 132.5 465.4 131.4 466.2 131.8 467.0 132.1 467.8 132.0 468.6 132.6 469.4 132.0 470.2 133.3 471.0 133.9 471.8 133.7 472.6 131.4 473.4 130.5 474.2 132.2 475.0 131.4 475.8 131.2 476.6 126.1 477.4 123.8 478.2 128.9 479.0 130.5 479.8 133.0 480.6 132.4 481.4 131.1 482.2 130.0 483.0 126.6 483.8 129.9 484.6 127.9 485.4 129.3 486.2 129.0 487.0 128.9 487.8 130.0 488.6 127.4 489.4 126.6 490.2 125.4 491.0 126.4 491.8 131.1 492.6 128.9 493.4 131.5 494.2 132.0 495.0 132.2 495.8 132.7 496.6 129.6 497.4 131.5 498.2 134.9 499.0 131.7 499.8 132.2 500.6 131.2 501.4 133.0 502.2 131.0 503.0 135.8 503.8 133.6 504.6 130.6 505.4 136.4 506.2 136.9 507.0 136.3 507.8 136.1 508.6 134.3 509.4 134.0 510.2 135.8 511.0 136.8 511.8 137.2 512.6 136.0 513.4 134.2 514.2 134.2 515.0 136.8 515.8 138.4 516.6 135.4 517.4 134.1 518.2 137.2 519.0 137.2 519.8 137.2 520.6 134.1 521.4 134.4 522.2 134.4 523.0 135.1 523.8 133.5 524.6 136.0 525.4 135.9 526.2 136.1 527.0 134.6 527.8 135.3 528.6 137.0 529.4 134.8 530.2 135.9 531.0 136.8 531.8 135.8 532.6 137.0 533.4 136.4 534.2 137.8 535.0 137.7 535.8 137.4 536.6 139.1 537.4 138.7 538.2 139.0 539.0 136.7 539.8 136.6 540.6 138.0 541.4 138.7 542.2 138.0 543.0 138.7 543.8 137.1 544.6 137.9 545.4 136.9 546.2 138.1 547.0 137.7 547.8 137.5 548.6 138.1 549.4 140.2 550.2 138.1 551.0 137.9 551.8 139.5 552.6 138.6 553.4 140.6 554.2 139.7 555.0 139.4 555.8 139.6 556.6 141.1 557.4 140.6 558.2 140.3 559.0 140.0 559.8 138.1 560.6 138.2 561.4 140.6 562.2 140.9 563.0 140.7 563.8 140.8 564.6 139.8 565.4 140.3 566.2 139.3 567.0 140.3 567.8 139.6 568.6 139.9 569.4 140.7 570.2 140.3 571.0 141.2 571.8 141.3 572.6 141.3 573.4 142.4 574.2 140.0 575.0 139.1 575.8 141.0 576.6 142.1 577.4 143.6 578.2 142.8 579.0 142.6 579.8 140.7 580.6 141.6 581.4 141.8 582.2 140.0 583.0 139.5 583.8 140.0 584.6 140.6 585.4 137.4 586.2 139.3 587.0 140.0 587.8 139.8 588.6 140.1 589.4 140.4 590.2 138.9 591.0 139.8 591.8 139.3" fill="none" stroke="#4848ff" stroke-width="1.15" stroke-linejoin="round" clip-path="url(#pal)"/>
<path d="M183.0 154.5 183.8 156.4 184.6 152.9 185.4 154.1 186.2 155.8 187.0 156.8 187.8 156.6 188.6 157.4 189.4 156.6 190.2 156.7 191.0 156.4 191.8 155.2 192.6 155.1 193.4 156.0 194.2 155.0 195.0 156.1 195.8 156.2 196.6 156.4 197.4 154.3 198.2 154.7 199.0 152.2 199.8 151.1 200.6 151.3 201.4 151.2 202.2 149.0 203.0 147.8 203.8 149.1 204.6 149.2 205.4 152.2 206.2 153.1 207.0 154.0 207.8 155.0 208.6 156.7 209.4 157.0 210.2 159.0 211.0 158.8 211.8 159.7 212.6 160.3 213.4 162.5 214.2 162.9 215.0 161.2 215.8 162.9 216.6 160.6 217.4 159.5 218.2 159.1 219.0 159.8 219.8 157.6 220.6 157.1 221.4 155.9 222.2 153.3 223.0 154.1 223.8 154.1 224.6 152.8 225.4 152.4 226.2 150.6 227.0 149.8 227.8 150.5 228.6 151.6 229.4 150.7 230.2 151.0 231.0 151.7 231.8 150.8 232.6 150.9 233.4 151.6 234.2 149.0 235.0 149.9 235.8 148.3 236.6 150.5 237.4 151.5 238.2 151.5 239.0 151.4 239.8 152.7 240.6 151.7 241.4 154.1 242.2 151.9 243.0 158.5 243.8 156.1 244.6 159.4 245.4 161.6 246.2 170.1 247.0 163.9 247.8 167.3 248.6 175.9 249.4 172.9 250.2 170.4 251.0 176.2 251.8 177.0 252.6 182.4 253.4 178.6 254.2 182.3 255.0 186.4 255.8 187.9 256.6 179.8 257.4 186.0 258.2 178.9 259.0 173.5 259.8 173.3 260.6 176.9 261.4 175.8 262.2 177.8 263.0 178.2 263.8 177.2 264.6 174.1 265.4 180.4 266.2 166.7 267.0 163.3 267.8 166.2 268.6 163.9 269.4 158.8 270.2 165.0 271.0 168.3 271.8 164.0 272.6 176.0 273.4 182.9 274.2 186.0 275.0 181.4 275.8 183.3 276.6 178.0 277.4 180.1 278.2 176.6 279.0 178.7 279.8 175.7 280.6 179.0 281.4 178.5 282.2 179.1 283.0 167.6 283.8 161.9 284.6 167.5 285.4 164.9 286.2 167.0 287.0 167.0 287.8 166.0 288.6 167.9 289.4 166.7 290.2 165.5 291.0 159.3 291.8 166.6 292.6 162.6 293.4 166.4 294.2 167.5 295.0 173.5 295.8 173.4 296.6 175.6 297.4 178.2 298.2 177.9 299.0 180.4 299.8 184.9 300.6 186.4 301.4 183.4 302.2 195.1 303.0 186.6 303.8 186.2 304.6 196.6 305.4 188.5 306.2 191.2 307.0 191.7 307.8 188.7 308.6 183.1 309.4 180.7 310.2 185.8 311.0 189.3 311.8 180.8 312.6 186.6 313.4 185.7 314.2 191.3 315.0 190.6 315.8 186.7 316.6 186.9 317.4 188.8 318.2 194.5 319.0 203.0 319.8 195.9 320.6 192.6 321.4 193.5 322.2 191.1 323.0 192.7 323.8 192.2 324.6 190.4 325.4 186.6 326.2 188.8 327.0 192.3 327.8 190.2 328.6 194.8 329.4 194.1 330.2 189.7 331.0 195.1 331.8 186.0 332.6 191.4 333.4 195.8 334.2 189.2 335.0 187.3 335.8 190.5 336.6 193.3 337.4 190.4 338.2 188.4 339.0 189.7 339.8 187.1 340.6 180.2 341.4 181.2 342.2 181.7 343.0 175.7 343.8 180.4 344.6 177.2 345.4 181.3 346.2 173.7 347.0 172.8 347.8 169.9 348.6 178.9 349.4 181.5 350.2 178.7 351.0 178.4 351.8 176.6 352.6 175.5 353.4 169.5 354.2 170.9 355.0 169.3 355.8 169.1 356.6 167.1 357.4 171.3 358.2 170.3 359.0 166.5 359.8 169.0 360.6 168.6 361.4 166.3 362.2 166.8 363.0 165.9 363.8 162.3 364.6 162.4 365.4 166.4 366.2 167.3 367.0 167.2 367.8 164.2 368.6 164.1 369.4 165.2 370.2 166.7 371.0 164.0 371.8 162.5 372.6 165.7 373.4 164.0 374.2 161.9 375.0 159.9 375.8 158.7 376.6 162.2 377.4 161.6 378.2 158.0 379.0 154.5 379.8 158.5 380.6 159.1 381.4 158.0 382.2 156.2 383.0 149.6 383.8 147.9 384.6 150.4 385.4 150.0 386.2 152.0 387.0 151.9 387.8 152.4 388.6 155.7 389.4 155.7 390.2 157.2 391.0 159.0 391.8 160.3 392.6 162.2 393.4 162.7 394.2 157.2 395.0 157.1 395.8 156.0 396.6 158.0 397.4 154.8 398.2 157.0 399.0 157.3 399.8 156.9 400.6 153.3 401.4 153.3 402.2 151.2 403.0 153.1 403.8 154.6 404.6 149.8 405.4 149.3 406.2 150.1 407.0 149.3 407.8 152.8 408.6 150.4 409.4 150.1 410.2 146.9 411.0 150.8 411.8 149.1 412.6 149.4 413.4 147.8 414.2 142.5 415.0 141.4 415.8 141.3 416.6 144.5 417.4 143.4 418.2 144.5 419.0 144.3 419.8 143.9 420.6 144.7 421.4 143.1 422.2 138.6 423.0 138.5 423.8 142.8 424.6 138.5 425.4 141.5 426.2 142.8 427.0 138.3 427.8 138.3 428.6 134.4 429.4 137.1 430.2 134.7 431.0 133.2 431.8 134.6 432.6 135.2 433.4 135.3 434.2 137.0 435.0 137.0 435.8 136.2 436.6 139.3 437.4 143.4 438.2 140.2 439.0 137.7 439.8 136.3 440.6 139.1 441.4 138.4 442.2 138.9 443.0 135.1 443.8 135.6 444.6 135.8 445.4 140.2 446.2 139.4 447.0 134.7 447.8 139.2 448.6 142.1 449.4 143.6 450.2 136.0 451.0 139.3 451.8 141.9 452.6 142.5 453.4 141.1 454.2 137.6 455.0 139.2 455.8 140.3 456.6 142.8 457.4 144.1 458.2 143.0 459.0 145.1 459.8 142.3 460.6 142.3 461.4 143.9 462.2 145.9 463.0 145.1 463.8 148.2 464.6 147.9 465.4 146.9 466.2 151.5 467.0 153.4 467.8 156.2 468.6 158.5 469.4 165.7 470.2 166.9 471.0 162.6 471.8 166.8 472.6 168.2 473.4 166.3 474.2 167.7 475.0 171.9 475.8 169.7 476.6 168.2 477.4 168.2 478.2 163.1 479.0 160.1 479.8 158.0 480.6 159.1 481.4 160.6 482.2 156.9 483.0 153.8 483.8 155.5 484.6 154.5 485.4 155.5 486.2 153.9 487.0 152.7 487.8 152.0 488.6 151.5 489.4 148.8 490.2 147.3 491.0 153.0 491.8 158.4 492.6 156.7 493.4 150.9 494.2 152.6 495.0 155.9 495.8 151.8 496.6 153.0 497.4 153.1 498.2 151.1 499.0 149.8 499.8 152.2 500.6 149.4 501.4 148.1 502.2 150.8 503.0 145.9 503.8 141.2 504.6 143.8 505.4 146.5 506.2 142.9 507.0 140.9 507.8 137.6 508.6 137.2 509.4 141.9 510.2 143.2 511.0 142.3 511.8 139.6 512.6 137.6 513.4 137.2 514.2 136.9 515.0 140.3 515.8 138.8 516.6 138.9 517.4 141.3 518.2 142.2 519.0 141.3 519.8 141.8 520.6 140.9 521.4 138.9 522.2 140.1 523.0 140.2 523.8 140.3 524.6 141.0 525.4 140.4 526.2 141.8 527.0 140.8 527.8 140.7 528.6 140.7 529.4 140.1 530.2 140.6 531.0 140.8 531.8 140.7 532.6 139.2 533.4 138.3 534.2 138.2 535.0 138.7 535.8 136.9 536.6 137.2 537.4 136.9 538.2 137.1 539.0 136.9 539.8 138.4 540.6 138.5 541.4 138.9 542.2 137.1 543.0 136.6 543.8 136.8 544.6 138.9 545.4 139.5 546.2 137.4 547.0 137.9 547.8 139.5 548.6 136.9 549.4 136.7 550.2 138.1 551.0 138.0 551.8 136.2 552.6 138.0 553.4 138.1 554.2 137.7 555.0 135.6 555.8 135.9 556.6 137.5 557.4 137.1 558.2 137.3 559.0 136.2 559.8 137.6 560.6 136.4 561.4 137.3 562.2 137.1 563.0 135.9 563.8 138.0 564.6 136.1 565.4 136.0 566.2 137.0 567.0 135.9 567.8 135.2 568.6 136.7 569.4 137.1 570.2 137.4 571.0 138.4 571.8 140.7 572.6 138.8 573.4 141.2 574.2 139.9 575.0 139.2 575.8 136.5 576.6 136.8 577.4 138.8 578.2 139.8 579.0 138.8 579.8 139.5 580.6 140.4 581.4 139.2 582.2 137.7 583.0 137.9 583.8 138.6 584.6 139.4 585.4 140.2 586.2 138.8 587.0 139.2 587.8 139.1 588.6 139.4 589.4 140.5 590.2 141.1 591.0 139.5 591.8 138.9" fill="none" stroke="#e80010" stroke-width="1.15" stroke-linejoin="round" clip-path="url(#pal)"/>
<rect x="183" y="27" width="409" height="166" fill="none" stroke="#333" stroke-width="1"/>
<line x1="183" y1="110" x2="592" y2="110" stroke="#333" stroke-width="1"/>
<path d="M358.3 193v-4.7M358.3 27v4.7" stroke="#333" stroke-width="1"/><path d="M534 193v-4.7M534 27v4.7" stroke="#333" stroke-width="1"/><path d="M242 193v-2.5M242 27v2.5" stroke="#333" stroke-width="1"/><path d="M300.5 193v-2.5M300.5 27v2.5" stroke="#333" stroke-width="1"/><path d="M417 193v-2.5M417 27v2.5" stroke="#333" stroke-width="1"/><path d="M475.5 193v-2.5M475.5 27v2.5" stroke="#333" stroke-width="1"/>
<path d="M183 68.5h7M592 68.5h-7M183 151.5h7M592 151.5h-7" stroke="#999" stroke-width="1"/>
<line x1="315.5" y1="27" x2="315.5" y2="193" stroke="#111" stroke-width="1.2" stroke-dasharray="7 8.4" stroke-dashoffset="8.4"/><line x1="456.5" y1="27" x2="456.5" y2="193" stroke="#111" stroke-width="1.2" stroke-dasharray="7 8.4" stroke-dashoffset="8.4"/>
<text x="178.8" y="34.9" font-size="10.3" text-anchor="end" textLength="21.4" lengthAdjust="spacingAndGlyphs" fill="#333" font-family='"Liberation Sans", sans-serif'>79.5</text>
<text x="178.8" y="73.6" font-size="10.3" text-anchor="end" textLength="23" lengthAdjust="spacingAndGlyphs" fill="#333" font-family='"Liberation Sans", sans-serif'>−5.1</text>
<text x="178.8" y="110.9" font-size="10.3" text-anchor="end" textLength="29.7" lengthAdjust="spacingAndGlyphs" fill="#333" font-family='"Liberation Sans", sans-serif'>−89.6</text>
<text x="178.8" y="117.6" font-size="10.3" text-anchor="end" textLength="27" lengthAdjust="spacingAndGlyphs" fill="#333" font-family='"Liberation Sans", sans-serif'>12.64</text>
<text x="178.8" y="156.3" font-size="10.3" text-anchor="end" textLength="22" lengthAdjust="spacingAndGlyphs" fill="#333" font-family='"Liberation Sans", sans-serif'>0.56</text>
<text x="178.8" y="193.6" font-size="10.3" text-anchor="end" textLength="36.7" lengthAdjust="spacingAndGlyphs" fill="#333" font-family='"Liberation Sans", sans-serif'>−11.52</text>
<text transform="translate(140.5 70) rotate(-90)" x="0" y="0" font-size="10" text-anchor="middle" textLength="60" lengthAdjust="spacingAndGlyphs" fill="#222" font-family='"Liberation Sans", sans-serif'>δV<tspan font-size="7" dy="2.5">i</tspan><tspan dy="-2.5"> (km s</tspan><tspan font-size="7" dy="-3.5">−1</tspan><tspan dy="3.5">)</tspan></text>
<text transform="translate(133.5 152.3) rotate(-90)" x="0" y="0" font-size="10" text-anchor="middle" textLength="33" lengthAdjust="spacingAndGlyphs" fill="#222" font-family='"Liberation Sans", sans-serif'>B<tspan font-size="7" dy="2.5">i</tspan><tspan dy="-2.5"> (nT)</tspan></text>
<text x="200.5" y="89.5" font-size="10" fill="#e80010" font-family='"Liberation Sans", sans-serif'>δV<tspan font-size="6.5" dy="3">z</tspan></text>
<text x="224" y="89.5" font-size="10" fill="#4848ff" font-family='"Liberation Sans", sans-serif'>δV<tspan font-size="6.5" dy="3">y</tspan></text>
<text x="200.5" y="175.5" font-size="10" fill="#e80010" font-family='"Liberation Sans", sans-serif'>B<tspan font-size="6.5" dy="3">z</tspan></text>
<text x="222" y="175.5" font-size="10" fill="#4848ff" font-family='"Liberation Sans", sans-serif'>B<tspan font-size="6.5" dy="3">y</tspan></text>
<text x="253.5" y="175.5" font-size="10" fill="#222" font-family='"Liberation Sans", sans-serif'>B</text>
<text x="358.3" y="209" font-size="10.5" text-anchor="middle" textLength="47.3" lengthAdjust="spacingAndGlyphs" fill="#444" font-family='"Liberation Sans", sans-serif'>08 12:00</text><text x="533.5" y="209" font-size="10.5" text-anchor="middle" textLength="48.7" lengthAdjust="spacingAndGlyphs" fill="#444" font-family='"Liberation Sans", sans-serif'>09 12:00</text><text x="387" y="222.7" font-size="10.5" text-anchor="middle" textLength="192" lengthAdjust="spacingAndGlyphs" fill="#444" font-family='"Liberation Sans", sans-serif'>Time (dd hh:mm on February 1995)</text>
<g clip-path="url(#pcb)">
<rect x="183" y="249" width="409" height="165.5" fill="#3a0048"/>
<path fill="#47005d" fill-rule="evenodd" d="M183 249 233.3 249 234.9 249.7 236.9 249.7 238.1 249 592 249 592 414.5 183 414.5 183 249Z"/>
<path fill="#510072" fill-rule="evenodd" d="M183 249 230.2 249 232.8 251 234.9 251.6 238.3 251 240.2 249 592 249 592 414.5 183 414.5 183 249Z"/>
<path fill="#58008e" fill-rule="evenodd" d="M183 249 227.6 249 230.9 251.7 234.9 253.2 236.9 253.1 238.9 252.3 241.6 249 592 249 592 414.5 183 414.5 183 249Z"/>
<path fill="#5a00a9" fill-rule="evenodd" d="M183 249 224.8 249 230.1 253 234.9 254.6 238.9 253.7 240.9 252.1 242.7 249 592 249 592 414.5 183 414.5 183 249ZM266.8 302.6 264.1 304.8 264.3 306.8 266.8 309 270.8 310 274.8 309.7 277.4 308.8 278.6 306.8 276.7 304.8 272.8 302.8 268.8 302.3 266.8 302.6Z"/>
<path fill="#5900c5" fill-rule="evenodd" d="M183 249 188.6 249 193 260.8 195 264.5 197 262.8 199.4 259 203.3 255 212.6 249 220.2 249 230.9 254.9 234.9 256 238.9 255.1 240.9 253.6 242.9 251 243.6 249 592 249 592 414.5 183 414.5 183 249ZM262.8 300.5 259.7 302.8 258.8 304.8 259 306.8 260.8 309.1 263.9 310.8 266.8 311.7 272.8 312.3 278.8 311.3 285 308.8 286 306.8 284.2 304.8 272.8 300.6 266.8 299.8 262.8 300.5Z"/>
<path fill="#5600e1" fill-rule="evenodd" d="M244.5 249 592 249 592 414.5 183 414.5 183 301.4 190.9 300.8 197 299.1 203 295.9 206.2 292.9 207.3 290.9 207.6 286.9 204 274.9 203.9 266.9 204.5 263 205.9 259 209.2 255 214.9 251.9 218.9 251.5 222.9 252.6 232.9 257 236.9 257.2 240.9 255 242.9 252.7 244.5 249ZM258.8 298.6 256 300.8 254.7 302.8 254.1 306.8 255.1 308.8 257.5 310.8 262.6 312.8 270.8 314 276.8 313.6 284.8 311.6 286.8 310.8 289.1 308.8 289.6 306.8 288.8 304.8 285.7 302.8 268.8 298 262.8 297.7 258.8 298.6Z"/>
<path fill="#5300f1" fill-rule="evenodd" d="M244.7 251 245.3 249 514.7 249 516.2 252.8 518.2 255.6 520.2 257.4 524.2 258.4 528.2 257.3 532.5 255 536.1 251.8 538 249 592 249 592 414.5 183 414.5 183 307.6 193 307.3 208.9 305.8 214.8 304.8 216.9 303.6 218.6 300.8 222.9 290.9 223.1 288.9 221.9 286.9 212.9 281.2 210.9 278.9 208.9 275.6 207.6 270.9 207.5 266.9 208 263 209.7 259 211.3 257 214.2 255 218.9 253.8 222.9 254.4 232.9 258.5 236.9 258.6 240.9 256.3 242.9 254.2 244.7 251ZM254.8 295.9 251.5 298.8 247.9 304.8 247.3 306.8 247.8 308.8 249.9 310.8 254.5 312.8 264.8 315.1 274.8 315.4 286.6 312.8 290.2 310.8 291.7 308.8 292 306.8 291.4 304.8 289.6 302.8 286.7 301.4 266.8 295.9 258.8 295 254.8 295.9ZM388.5 260.9 386.5 261.6 385.1 265 385 268.9 386 272.9 387.7 274.9 390.5 276 394.5 276 397.6 274.9 399.8 272.9 400.9 270.9 401.2 268.9 400.5 265.7 398.5 263.5 396.5 262.3 392.5 261.2 388.5 260.9Z"/>
<path fill="#5000ff" fill-rule="evenodd" d="M246.1 249 374.1 249 370.3 253 370.2 255 371.3 257 378.5 264.7 382.4 272.9 384.5 275.8 388.5 277.9 392.5 278.4 398.5 277.1 401.5 274.9 404 270.9 404.5 266.9 403.2 263 400.5 258.7 396.5 254.3 390.4 249 511 249 512.2 253.5 515.9 263 518.1 272.9 520.2 274 524.2 272.9 532.1 266.5 536.1 264.9 543.8 263 546.1 261.8 548 259 551.7 249 592 249 592 267.2 584 267.8 574 266.9 564.1 268.4 556.1 268.4 554.1 269.1 553 272.9 552.8 280.9 553.7 286.9 555.6 292.9 554.6 294.9 551.5 296.9 546.1 299 542.1 301.9 536.3 310.8 534.1 313.1 530.2 315 518.2 315.3 512.2 316.5 500.2 324 486.9 326.8 480.7 328.8 477.7 330.8 476.4 332.7 475.9 334.7 476.2 336.7 477.9 338.7 482.3 340.4 506.2 342.1 522.2 340.2 542.1 341.5 558.1 340.9 570.1 339.8 582 339.9 586.3 338.7 592 334.2 592 414.5 183 414.5 183 312.4 206.9 312.3 222.9 313.6 234.9 312.4 260.8 316.3 270.8 317 278.8 316.2 286.7 314.2 290.7 312.5 292.8 310.8 293.9 308.8 294.1 306.8 293.5 304.8 292 302.8 288.7 300.5 256.8 291.8 250.8 290.8 242.9 290.7 240.9 290.1 235.5 284.9 232.9 283.4 218.9 279.7 214.9 277.5 212.9 275.4 210.8 270.9 210.4 265 211.7 261 214.9 257.4 216.9 256.4 220.9 255.9 224.9 256.9 232.9 260.1 236.9 260.1 240.9 257.7 242.9 255.6 244.8 252.5 246.1 249ZM573.4 282.9 578 282.9 582 284.9 584.4 286.9 585.6 288.9 584.6 290.9 579.4 294.9 576 296.1 572 296.5 566.4 294.9 564.4 292.9 564.5 290.9 568.1 286.3 570.1 284.6 573.4 282.9ZM591.5 284.9 592 284.5 592 294.4 589.2 290.9 588.4 288.9 589.4 286.9 591.5 284.9Z"/>
<path fill="#4f00ff" fill-rule="evenodd" d="M246.3 251 246.9 249 361 249 362.3 253 363.6 255 375 265 382.8 276.9 386.5 279.1 392.5 279.8 398.2 278.9 401.9 276.9 405.3 272.9 406.5 269.2 406.5 266.3 405.6 263 398.6 249 508.4 249 511.9 263 511.9 266.9 510.7 274.9 510.8 276.9 511.7 278.9 513.9 280.9 523.6 284.9 526.4 286.9 527.8 288.9 529 294.9 527.6 302.8 525.1 306.8 522.8 308.8 510.2 314.3 500.2 320.2 480.5 324.8 475.4 326.8 472.9 328.8 470.4 332.7 469.6 336.7 470.3 339.5 473.5 342.7 479.2 344.7 490 346.7 510.2 349.2 582 352.1 592 351.5 592 414.5 188 414.5 183 410.1 183 316.8 206.9 316.3 222.9 317.2 236.9 316.4 264.8 318.2 272.8 318.1 282 316.8 289.2 314.8 293 312.8 295 310.8 295.8 308.8 295.3 304.8 294.1 302.8 291.9 300.8 288.7 299 266.8 292.8 252.8 287.7 244.8 284.1 234.9 278.5 220.9 276.9 216.9 275 214.9 272.9 213.2 268.9 213.1 265 214.7 261 216.9 259 218.9 258.2 222.9 258.1 232.9 262 236.9 261.9 240.9 259.2 242.9 257 246.3 251Z"/>
<path fill="#4c0fff" fill-rule="evenodd" d="M247.6 249 358.7 249 359.7 253 362.1 257 374 266.9 380.6 276.9 382.9 278.9 386.5 280.4 392.5 281 398.5 280.1 402.5 278.2 405.9 274.9 407.8 270.9 408.1 266.9 407.4 263 402.1 249 438.1 249 440.4 250.2 442.8 249 506.4 249 509.3 263 509.1 266.9 507.6 274.9 507.7 278.9 510.2 282.5 518.2 287.3 522 290.9 523.1 292.9 523.9 296.9 523.4 300.8 522.6 302.8 521.3 304.8 518.2 307.7 500.2 317.9 496.2 319.2 478.3 323.1 472.3 325.4 468.8 328.8 466.3 332.7 465.2 336.7 466 340.7 467.5 342.7 470 344.7 474.9 346.7 486.3 349.1 510.2 352.9 532.1 355 572 357.2 592 357.2 592 414.5 203.5 414.5 195 408.4 186.7 400.5 183 398 183 321.1 203 319.7 222.9 319.7 234.9 319 266.8 319.6 274.8 319.2 286.7 316.9 292.4 314.8 295.3 312.8 296.9 310.8 297.6 308.8 297.1 304.8 295.9 302.8 294.1 300.8 290.7 298.5 286.7 296.9 268.8 292 262.8 289.7 246.8 282.2 234.9 274.1 222.9 274.5 219 272.9 217 270.9 216 268.9 215.8 265 216.6 263 218.6 261 220.9 260.1 222.9 260.1 226.9 261.3 232.9 264.5 234.9 264.8 236.9 264.2 240.9 260.8 244 257 246.3 253 247.6 249Z"/>
<path fill="#4f32ff" fill-rule="evenodd" d="M248.3 249 357.2 249 358.6 254.6 360.6 257.8 372.5 267.8 380.5 278.7 384.5 281 392.5 282 398.5 281.2 402.5 279.5 405.9 276.9 408.6 272.9 409.5 268.9 409.3 265 404.5 249 436.7 249 438.4 251 440.4 251.5 442.4 251 444.1 249 504.8 249 507.3 263 507 266.9 505.5 274.9 505.4 278.9 506.2 281.4 508.2 283.8 515.4 288.9 519.1 292.9 520.4 296.9 519.9 300.8 519 302.8 515.3 306.8 500.2 316 494.2 318.1 474.3 322.3 470.3 324.2 466.3 328 463.1 332.7 461.8 336.7 462.3 340.7 465.4 344.7 468.3 346.8 472.3 348.4 486.3 351.4 512.2 356 532.1 358.4 570.1 360.8 592 360.9 592 414.5 220 414.5 201 404.8 197 401.8 189 394.2 183 390.8 183 325.5 197 323.5 208.9 322.4 236.9 321 268.8 320.8 276.8 320 286.7 318 292.7 315.9 297.3 312.8 298.6 310.8 299.1 308.8 298.7 305.1 297.6 302.8 296 300.8 292.7 298.2 286.7 295.6 270.8 291.3 264.8 289.1 246.8 280 240.7 274.9 237.9 270.9 237.5 268.9 238 266.9 244.8 257.3 247.1 253 248.3 249ZM221 263 224.9 262.9 226.9 264 229.7 266.9 229.9 268.9 226.9 271.2 222.9 271.3 220.9 270.4 219.5 268.9 218.7 266.9 219 265 221 263Z"/>
<path fill="#5049ff" fill-rule="evenodd" d="M248.5 251 249.1 249 355.9 249 356.6 253.1 358.6 257.4 361.8 261 371.6 268.9 378.9 278.9 381.6 280.9 384.5 282 392.5 283 398.5 282.2 402.5 280.7 407.6 276.9 410 272.9 410.9 268.9 410.6 265 406.4 249 435.7 249 436.8 251 438.4 252.2 440.4 252.6 443.8 251 445.1 249 503.3 249 505.6 263 503.6 276.9 504 280.9 506.6 284.9 514.1 290.9 515.9 292.9 517.5 296.9 517.1 300.8 514.4 304.8 512.1 306.8 502.2 313.3 498.2 315.4 490.2 317.6 474 320.8 468.3 323.5 463 328.8 459.4 334.7 458.8 338.7 460.2 342.7 464.3 346.8 467.6 348.7 472.3 350.4 512.2 358.5 534.1 361.4 572 363.7 592 363.8 592 414.5 237.6 414.5 230.1 410.5 209.8 402.5 202.9 398.5 191 387.8 187 385.1 183 383.4 183 330.4 197.6 326.8 210.9 324.8 234.9 322.9 268.8 322 278.8 320.8 287.9 318.8 293.7 316.8 297.1 314.8 299.1 312.8 300.2 310.8 300.6 306.8 299.2 302.8 296.7 299.7 292.9 296.9 286.7 294.2 266.8 288.6 250.8 280.5 246.8 278.1 243.2 274.9 240.7 270.9 240.5 266.9 242.3 263 246.8 255.3 248.5 251Z"/>
<path fill="#4e5dff" fill-rule="evenodd" d="M249.8 249 354.7 249 355.9 255 358.1 259 370.5 269.8 378.5 280 384 282.9 390.5 283.8 396.5 283.4 402.5 281.7 407.1 278.9 410.5 274.9 411.9 270.9 412.1 266.9 407.9 249 434.7 249 436.4 251.9 438.4 253.2 440.4 253.5 442.4 253.1 444.4 251.6 446 249 501.9 249 504.1 263 502.2 276.9 502.4 280.9 504.5 284.9 511.1 290.9 514.3 294.9 515 296.9 514.6 300.8 513.5 302.8 509.4 306.8 498.2 314 490.2 316.5 472.3 320 466.8 322.8 462.4 326.8 457.9 332.7 456.3 336.7 456.2 338.7 457.3 342.7 458.7 344.7 462.3 347.9 470.3 351.6 512.2 360.7 534.1 363.8 570.1 366 592 366.2 592 414.5 253.5 414.5 242.1 408.5 218.5 398.5 210.9 394.4 203.8 388.6 198.7 382.6 187 366.6 183 362.5 183 337.5 191.5 332.7 196.5 330.8 210.9 327.3 232.9 324.8 270.8 323 284.8 320.6 291.5 318.8 296.2 316.8 299 314.8 300.7 312.8 301.5 310.8 301.8 306.8 300.6 302.8 298.7 300 294.7 296.6 286.7 292.9 272.8 289.4 266.8 287.3 252.8 280.2 247.6 276.9 244.8 274.5 242.6 270.9 242.2 266.9 243.6 263 247.8 255 249.8 249Z"/>
<path fill="#4a73ff" fill-rule="evenodd" d="M250.5 249 353.6 249 354.6 255 356.6 259 360.4 263 369.9 270.9 377.9 280.9 382.5 283.4 390.5 284.6 396.5 284.2 402.5 282.7 408.7 278.9 411.9 274.9 413.1 270.9 413.2 266.9 409.3 249 433.8 249 434.6 251 436.2 253 438.4 254.1 440.4 254.3 444.4 252.7 446.8 249 500.7 249 502.9 263 501 276.9 501.2 280.9 502.2 283.8 504.2 286.6 511.9 294.9 512.8 298.8 512.3 300.8 511.2 302.8 507.1 306.8 498 312.8 488.3 315.9 472.3 318.7 466.3 321.6 460.4 326.8 455.7 332.7 454.3 335.8 453.8 338.7 454.6 342.7 456.3 345.3 460.2 348.7 468.3 352.7 512 362.7 534.1 366 570.1 368.2 592 368.3 592 414.5 276.1 414.5 262.8 410.8 250.8 405.8 227.2 392.6 218.9 386.2 212.9 379.6 203.6 366.6 192.1 356.7 189.6 352.7 188.4 346.7 189.4 342.7 190.5 340.7 194.4 336.7 201 333 207.4 330.8 216 328.8 226.9 327.1 266.8 324.5 278.8 322.9 288.7 320.7 294.7 318.7 298.7 316.5 302.1 312.8 303.1 308.8 302.7 304.8 300.7 300.6 296.7 296.5 288.7 292.4 272.8 288.2 266.8 286 250.8 277.6 245.3 272.9 243.7 268.9 244 265 248.6 255 250.5 249Z"/>
<path fill="#478fff" fill-rule="evenodd" d="M250.8 251 251.3 249 352.5 249 353.4 255 356.6 260.7 368.5 271.3 376.4 280.9 379.1 282.9 382.5 284.3 390.5 285.4 398.5 284.7 404.2 282.9 410.3 278.9 413.2 274.9 414.3 270.9 414.4 266.9 410.7 249 432.9 249 434.9 253 438.4 254.9 440.4 255.1 444.4 253.5 446.4 251.4 447.5 249 499.6 249 501.2 257 501.8 263 499.9 276.9 500 280.9 502.2 286 509.7 294.9 510.6 298.8 510.1 300.8 509 302.8 505 306.8 500.2 310.3 496.2 312.4 486.3 315.4 470.3 318.3 466.3 320.3 462.9 322.8 456.6 328.8 452.6 334.7 451.7 338.7 451.8 340.7 453.2 344.7 456.3 348.1 460.2 350.7 468.3 354.2 512.2 364.6 528.2 367.4 536.1 368.2 570.1 370.2 592 370.3 592 413.7 549.7 414.5 307.9 414.5 289.9 410.5 268.8 406.7 258.8 403.3 250.8 398.8 245 394.6 212.9 367.8 198.9 354.7 196.5 350.7 195.7 346.7 196.7 342.7 199.6 338.7 205.6 334.7 212.9 331.9 220.9 329.9 228.9 328.6 266.8 325.6 280.8 323.5 290.7 321.1 296.7 318.9 300.1 316.8 302.7 314 304.2 308.8 303.1 302.8 300.7 298.7 296.7 295.1 292.7 292.8 287.8 290.9 268.8 285.7 252.8 277.4 247 272.9 245 268.9 245.3 265 250.8 251Z"/>
<path fill="#41a5ff" fill-rule="evenodd" d="M252 249 351.3 249 352.2 255 355.3 261 368.5 272.9 374.9 280.9 377.2 282.9 381.5 284.9 390.5 286.1 398.5 285.5 404.5 283.6 409.4 280.9 413.4 276.9 415.2 272.9 415.5 266.9 411.9 249 431.9 249 432.6 251 434.4 253.6 436.4 255.1 440.4 255.8 443.2 255 446 253 448.2 249 498.5 249 500.5 259 500.8 263 499 276.9 499 280.9 500.3 284.9 507.6 294.9 508.6 298.8 508.1 300.8 506.9 302.8 503.1 306.8 496.2 311.3 486.3 314.5 472.2 316.8 468.3 318.1 463.8 320.8 456.7 326.8 451.8 332.7 449.7 338.7 450.1 342.7 450.9 344.7 454.2 348.7 457 350.7 466.3 355.1 480.3 359 510.2 366 528.2 369.3 536.1 370.2 570.1 372.2 592 372.3 592 408.2 530.6 410.5 508.2 412.1 434.4 411.8 422.5 412.5 411.9 414.5 339.6 414.5 298.7 407.9 270.8 401.9 262.8 399.1 255.6 394.6 241.6 382.6 212.9 362 207.1 356.7 203.8 352.7 202 348.7 201.8 346.7 202.8 342.7 206.2 338.7 210.9 335.7 218.1 332.7 230.9 330.1 268.8 326.6 284.8 323.7 292.7 321.5 298.7 318.9 302.7 315.8 304.5 312.8 305.2 308.8 304.3 302.8 302.7 299.6 300.7 297.1 296.7 293.8 288.7 290.1 272.8 286 268.8 284.5 254.8 277.3 248.6 272.9 246.3 268.9 246.4 265 252 249Z"/>
<path fill="#3ab8ff" fill-rule="evenodd" d="M252.8 249 350.1 249 350.9 255 353.9 261 356.6 263.9 366.9 272.9 374.5 281.9 376.5 283.6 380.5 285.5 384.5 286.4 390.5 286.8 398.5 286.2 404.5 284.5 411 280.9 414.8 276.9 416.4 272.9 416.7 266.9 413.2 249 431 249 432.7 253 434.4 254.8 436.4 255.9 440.4 256.4 444.4 255.1 446.4 253.5 448.9 249 497.5 249 499.3 257 499.8 263 498 276.9 498 280.9 500.2 286.8 505.8 294.9 506.7 298.8 506.2 300.8 505.1 302.8 501.3 306.8 495 310.8 486.3 313.7 469.3 316.8 465.1 318.8 459.5 322.8 453 328.8 449 334.7 447.7 340.7 448.4 343.8 449.8 346.7 452.3 349.4 457.2 352.7 468.3 357.3 505.3 366.6 526.2 370.9 536.1 372.2 564.1 374 592 374.3 592 403.7 558.1 406.1 516.2 408 428.4 408 416.4 409 394.5 412.1 386.5 412.5 366.6 410.4 340.6 410 314.7 407 294.7 403.2 272.8 397.5 266.8 395.3 260.8 391.6 242.9 377.4 216.9 360.7 210.6 354.7 208 350.7 207.3 348.7 207.5 344.7 209.8 340.7 215.1 336.7 220.9 334.2 232.9 331.5 268.8 327.7 284.8 324.6 297.2 320.8 300.8 318.8 304.7 314.8 306.2 308.8 305.3 302.8 302.7 297.8 298.7 293.8 294.7 291.4 290.7 289.7 274.8 285.5 268.8 283.3 254.8 276 250.8 273.4 248.8 271.3 247.6 268.9 247.6 265 252.8 249Z"/>
<path fill="#33c6ff" fill-rule="evenodd" d="M253.6 249 348.8 249 349.6 255 352.5 261 356.1 265 365.2 272.9 374 282.9 376.8 284.9 380.5 286.4 390.5 287.5 398.5 286.9 405.6 284.9 412.5 280.9 416.1 276.9 417.6 272.9 417.9 266.9 414.4 249 430 249 431.5 253 433.2 255 436.4 256.7 438.4 257.1 442.4 256.7 445.6 255 447.6 253 449.6 249 496.6 249 498.7 259 499 263 497.1 280.9 498.2 285 504.1 294.9 504.9 298.8 504.4 300.8 503.3 302.8 500.2 306.3 494.2 310.2 486.3 312.8 472.3 315.2 468.3 316.3 463.5 318.8 457.9 322.8 451.4 328.8 447.3 334.7 445.9 340.7 446.4 343.7 447.6 346.7 450.3 349.9 454.2 352.7 460.3 355.9 466.3 358.1 486.3 363.8 526.2 372.8 538.1 374.5 564.1 376.3 592 376.4 592 399.2 580 400.8 530.2 404.3 500.2 404.8 430.4 404.4 418.4 405.2 396.5 407.8 386.5 408.2 366.6 406.9 340.6 406.6 316.7 404.2 294.7 399.8 271.9 392.6 264.8 388.5 244.8 374.2 230.9 366.2 220.9 359.7 215.2 354.7 212.7 350.7 212.1 348.7 212.3 344.7 214.9 340.7 217.3 338.7 222.9 335.9 235.8 332.7 268.8 328.8 286.7 325.2 294.7 322.8 299.3 320.8 302.7 318.5 305.7 314.8 306.5 312.8 307 308.8 306.2 302.8 303.2 296.9 299.2 292.9 294.7 290.2 290.7 288.6 274.8 284.5 268.8 282.2 255.2 274.9 250.1 270.9 249 268.9 248.7 265 253.6 249Z"/>
<path fill="#2cdfff" fill-rule="evenodd" d="M254.4 249 276 249 278.8 249.9 280.9 249 347.3 249 348.1 255 351 261 354.5 265 364.6 273.9 372.5 283 374.9 284.9 379.3 286.9 384.5 287.9 390.5 288.2 398.5 287.6 406.5 285.4 414.1 280.9 417.4 276.9 418.8 272.9 419.1 266.9 415.7 249 428.9 249 430.3 253 431.8 255 434.9 257 438.4 257.8 442.4 257.3 446.4 255.2 448.4 252.9 450.2 249 495.7 249 497.5 257 498.1 263 496.3 280.9 498.2 286.9 502.6 294.9 503.3 298.8 502.8 300.8 500.1 304.8 494.2 309.2 486.3 312 468.3 315.6 462 318.8 453.9 324.8 448.1 330.8 444.9 336.7 444.3 342.7 446.4 347.9 448.7 350.7 452.3 353.4 458.3 356.6 464.3 359 486.3 365.6 526.2 374.9 538.1 376.9 564.1 378.9 592 379.1 592 394.7 582 396.3 528.2 401.2 500.2 401.6 430.4 401.2 396.5 404.3 382.5 404.7 366.6 403.9 340.6 403.7 318.7 401.5 296.7 397.3 276.8 390.6 269.3 386.6 245.2 370.6 232.9 364.1 224.9 359.1 219.6 354.7 218 352.7 216.3 348.7 216.7 344.7 217.8 342.7 222.5 338.7 226.9 336.8 240.9 333.6 270.8 329.6 288.7 325.6 294.7 323.8 300.7 321 304.7 317.9 306.8 314.8 307.9 308.8 307.1 302.8 304.7 297.3 300.7 292.8 296.7 290 292.7 288.2 276.8 284.1 270.8 281.9 260.7 276.9 251.8 270.9 250.4 268.9 249.9 265 254.4 249Z"/>
<path fill="#25f4f8" fill-rule="evenodd" d="M254.8 251 255.3 249 274.4 249 276.8 250.7 278.8 251 280.8 250.3 282.1 249 345.8 249 346.6 255 349.4 261 352.9 265 363.8 274.9 372.5 284.4 376.5 286.8 380.5 288.1 390.5 288.9 398.5 288.3 406.5 286.2 412.9 282.9 417.4 278.9 418.6 276.9 420 272.9 420.4 266.9 419.8 261 417.2 249 427.6 249 428.9 253 430.4 255.1 434.4 257.7 438.4 258.4 442.4 258 446.4 255.9 449 253 450.8 249 494.8 249 496.7 257 497.4 263 495.5 280.9 496.4 284.9 501.3 294.9 501.9 298.8 501.4 300.8 498.7 304.8 493 308.8 484.3 311.7 468.2 314.8 460.5 318.8 452.3 324.8 446.6 330.8 443.2 336.7 442.5 342.7 443.6 346.7 444.8 348.7 450.3 353.9 458.3 358.3 466.3 361.3 486.3 367.5 514.2 374 528.2 377.8 538.1 379.8 551.9 380.6 566.1 382.9 580 383.8 592 383.7 592 388.5 582 390.5 570.1 391.8 554.1 394.7 526.2 397.9 500.2 398.5 430.4 398.1 396.5 401.2 380.5 401.7 340.6 401 320.7 399 300.7 395.5 282.8 389.6 274.8 385.7 247.2 368.6 230.9 359.9 224 354.7 221 350.7 220.3 348.7 220.9 344.7 222.3 342.7 224.6 340.7 228.9 338.5 240.9 335.2 270.8 330.8 290.7 326.1 296.7 324 302.7 320.8 305.1 318.8 307.7 314.8 308.7 308.8 307.4 300.8 304.7 295.7 300.7 291.5 296.7 288.9 292.7 287.2 276.8 283.1 270.9 280.9 259.5 274.9 252.8 270 251.2 266.9 251.1 265 254.8 251Z"/>
<path fill="#1efee7" fill-rule="evenodd" d="M256.3 249 273.1 249 275.2 251 278.8 251.9 281.3 251 283.2 249 299.4 249 300.7 249.7 303.1 249 344.1 249 344.9 255 347.8 261 351.3 265 362.1 274.9 371.3 284.9 374.5 287 378.5 288.4 384.5 289.4 390.5 289.6 398.5 289 406.8 286.9 414.5 282.9 418.7 278.9 420.7 274.9 421.7 266.9 421.4 261 418.9 249 426 249 427.1 253 430.4 256.8 434.4 258.6 438.4 259.1 442.4 258.6 446.4 256.6 449.7 253 451.4 249 494 249 495.9 257 496.7 263 494.8 280.9 496.2 286.6 500.1 294.9 500.5 298.8 500 300.8 497.2 304.8 492.2 308.3 486.3 310.5 472.3 313.1 466.4 314.8 459.1 318.8 453.3 322.8 446.7 328.8 442.5 334.7 440.7 340.7 441.7 346.7 444.1 350.7 448.4 354.5 460.3 360.8 482.3 368.4 514.2 376.1 536.1 383.7 546.6 386.6 546 388.6 533.5 392.6 518.2 394.8 500.2 395.5 430.4 395.2 386.5 398.8 354.6 399 334.6 398 312.7 395.3 296.7 391.7 282.8 386.4 262.8 374.6 233.7 358.7 226.5 352.7 224.5 348.7 224.6 346.7 225.4 344.7 227.2 342.7 230.1 340.7 234.6 338.7 244.8 336 272.8 331.5 292.7 326.4 298.7 324 304.2 320.8 306.7 318.3 308.6 314.8 309.5 308.8 308.2 300.8 305.2 294.9 301.5 290.9 296.7 287.8 292.7 286.1 278.8 282.8 270.8 279.8 261.5 274.9 255.7 270.9 253.7 268.9 252.7 266.9 252.5 263 256.3 249Z"/>
<path fill="#0bffc6" fill-rule="evenodd" d="M256.7 251 257.4 249 271.8 249 274.8 251.8 278.8 252.7 280.8 252.3 282.7 251 284.1 249 297.7 249 298.7 250.2 300.7 251.1 302.7 250.9 304.9 249 342.3 249 343.2 255 346.1 261 349.6 265 360.4 274.9 369.5 284.9 372.5 287.1 376.7 288.9 382.5 290 390.5 290.3 398.5 289.7 406.5 287.8 412.9 284.9 418.3 280.9 421.1 276.9 422.3 272.9 423.7 257 424.4 254.6 427.4 257 432.4 259 436.4 259.7 440.4 259.6 444.4 258.5 448.4 255.6 450.4 253 452.1 249 493.3 249 495.6 259 495.9 263 494 280.9 494.8 284.9 499 294.9 499.3 298.8 498.2 301.7 495.8 304.8 490.2 308.3 484.3 310.2 470.5 312.8 466.3 314.2 460.9 316.8 451.8 322.8 445.3 328.8 441 334.7 439 340.7 439.2 344.7 440.6 348.7 444.4 353.4 448.8 356.7 456.3 360.8 462.3 363.5 484.3 371.4 513.8 378.6 521 382.6 523.2 384.6 524 386.6 522.7 388.6 518.1 390.6 506.2 392.2 428.4 392.5 384.5 396.5 356.6 396.8 336.6 395.8 310.7 392.4 298.7 389.7 284.8 384.2 268.7 374.6 236.9 357.7 231 352.7 229 348.7 229.2 346.7 230.3 344.7 232.4 342.7 235.7 340.7 240.9 338.8 274.8 332.3 290.7 328.1 296.7 325.9 302.7 322.9 305.5 320.8 307.4 318.8 309.5 314.8 310.2 308.8 309 300.8 306.7 295.5 302.7 290.7 298.7 287.7 294.7 285.8 278.8 281.8 271.3 278.9 263.6 274.9 255.6 268.9 254.3 266.9 253.8 263 254.9 257 256.7 251Z"/>
<path fill="#00ffad" fill-rule="evenodd" d="M258.5 249 270.5 249 272.1 251 274.8 252.8 278.8 253.5 282.8 252 285 249 296.4 249 298.7 251.5 300.7 252.2 302.7 252.1 304.7 251 306.3 249 340.7 249 342.1 257 344.4 261 347.9 265 358.6 274.9 367.7 284.9 372.5 288.3 376.5 289.8 382.5 290.7 388.5 291 396.5 290.6 402.5 289.7 408.4 287.8 414.6 284.9 419.7 280.9 422.3 276.9 423.5 272.9 425.1 263 426.4 260.4 428.4 259.7 438.4 260.4 444.4 259.1 447.7 257 449.7 255 452.7 249 492.5 249 494.9 259 495.2 263 493.3 280.9 494.2 285.6 497.9 294.9 498.1 298.8 497.5 300.8 494.4 304.8 490.2 307.4 484.3 309.5 470.3 312.2 466.3 313.5 459.5 316.8 450.4 322.8 443.8 328.8 439.4 334.7 437.3 340.7 437.3 344.7 438.5 348.7 442.4 353.8 446.4 357.1 454.3 361.8 462.3 365.6 482.3 373.7 496.2 377.8 509.2 380.6 512.6 382.6 513.5 384.6 512.2 386.6 508.2 387.9 504.2 388.3 426.4 389.8 378.5 394.5 356.6 394.7 340.6 393.9 312.7 390.3 298.7 387 288.2 382.6 272.8 373.6 252.8 363.9 239.9 356.7 235.3 352.7 233.5 348.7 233.8 346.7 235.1 344.7 238.9 341.9 244.8 339.6 274.8 333.5 288.7 329.7 296.7 326.9 302.7 323.9 306.7 320.8 309.6 316.8 310.9 310.8 310.6 304.8 308.7 297.7 305.9 292.9 302.1 288.9 298.7 286.6 294.7 284.7 279 280.9 273.7 278.9 264.8 274.4 257.6 268.9 256.1 266.9 255.1 263 255.9 257 258.5 249Z"/>
<path fill="#00ff95" fill-rule="evenodd" d="M260.1 249 268.9 249 273.3 253 276.8 254.2 278.8 254.3 282.8 253 284.8 251 285.9 249 295.4 249 296.7 251.2 298.7 252.7 300.7 253.3 302.7 253.2 304.7 252.4 307.5 249 339.2 249 340.4 257 342.5 261 348.2 266.9 356.9 274.9 366.6 285.5 370.5 288.5 374.5 290.2 380.5 291.3 386.5 291.7 396.5 291.3 402.5 290.4 408.4 288.6 416.2 284.9 421 280.9 423.5 276.9 426.2 265 427.3 263 428.4 261.9 430.4 261.3 440.4 260.8 445.9 259 450.4 255 453.3 249 491.8 249 494.1 259 494.6 263 492.6 280.9 493.3 284.9 496.9 294.9 497 298.8 496.3 300.8 492.9 304.8 489.6 306.8 484 308.8 466.3 312.8 458.1 316.8 451.7 320.8 444.3 326.8 439.1 332.7 436 338.7 435.3 342.7 435.7 346.7 437.4 350.7 442.8 356.7 456.3 365.1 471.3 372.6 484.3 380.6 482.8 382.6 470.3 384.9 416.4 387.8 382.5 392.1 358.6 392.7 340.6 391.7 310.7 387.5 299.6 384.6 290.8 380.6 277.3 372.6 256.8 363.4 244.5 356.7 240.9 354 238.2 350.7 237.8 348.7 238.2 346.7 240.9 343.8 247.8 340.7 276.8 334.2 290.7 330.2 296.7 328 302.9 324.8 307.9 320.8 310.4 316.8 311.5 312.8 311.5 306.8 309.9 298.8 306.7 292.6 302.7 288.2 298.7 285.4 294.7 283.6 278.8 279.8 270.8 276.4 264.4 272.9 257.9 266.9 256.5 263 256.6 259 257.6 255 260.1 249Z"/>
<path fill="#00ff79" fill-rule="evenodd" d="M260.8 251 262.4 249 266.4 249 272.8 253.8 274.8 254.6 278.8 255.1 280.8 254.8 284.1 253 286.8 249 294.2 249 296.7 252.6 298.7 253.9 300.7 254.4 302.7 254.3 305.7 253 307.7 251 308.8 249 337.7 249 338.8 257 340.7 261 344.3 265 355.1 274.9 366.1 286.9 370.5 289.8 374.5 291.2 380.5 292.2 386.5 292.4 396.5 291.9 404.5 290.6 410.4 288.7 417.7 284.9 420.4 282.8 423.7 278.9 425.4 274.9 427.1 266.9 428.4 264.4 430.4 262.9 440.4 261.5 446.4 259.4 451.1 255 454 249 491.1 249 493.9 263 491.9 280.9 492.5 284.9 495.9 294.9 495.9 298.8 495.2 300.8 492.2 304.2 488.3 306.6 482.3 308.5 466.3 312.2 460.4 314.8 453.3 318.8 445.1 324.8 439.2 330.8 435.1 336.7 433.7 340.7 433.3 344.7 434.2 348.7 437.9 354.7 442.4 358.8 462.3 372.6 464.5 374.6 465.8 376.6 465.3 378.6 461.1 380.6 450.3 382.5 410.4 385.6 384.5 389.7 364.6 390.7 344.6 389.9 310.7 384.9 302.7 382.9 293.6 378.6 280.8 370.9 260.5 362.7 249.2 356.7 243.9 352.7 242.4 350.7 242 348.7 242.7 346.7 244.7 344.7 248.7 342.7 255.1 340.7 276.8 335.5 290.7 331.4 296.7 329 304.7 324.6 308.7 321.2 311.3 316.8 312.2 312.8 312.2 306.8 310.6 298.8 308.7 294.3 306.7 291.1 302.7 286.9 298.7 284.2 294.7 282.4 279.6 278.9 270.8 275.3 264.8 271.8 259.7 266.9 258.5 265 257.8 261 258.8 255 260.8 251Z"/>
<path fill="#00ff5e" fill-rule="evenodd" d="M264.8 251 266.8 251.5 274.8 255.6 278.8 256 282.6 255 284.8 253.6 288.1 249 292.9 249 294 251 296.7 253.9 300.7 255.4 303.9 255 306.7 253.6 309.2 251 310.2 249 336.2 249 337.2 257 338.9 261 342.4 265 353.3 274.9 364.1 286.9 368.5 290 372.5 291.7 378.5 292.8 386.5 293.1 396.5 292.6 404.5 291.4 411.8 288.9 418.4 285.4 421.6 282.9 424.9 278.9 426.5 274.9 428.4 267.5 430 265 432.4 263.6 442.4 261.6 446.4 260 448.4 258.7 451.8 255 454.6 249 490.4 249 493.2 263 491.2 280.9 491.8 284.9 494.9 294.9 494.8 298.8 492.5 302.8 488.3 305.7 482.3 307.8 466.3 311.6 459 314.8 451.8 318.8 441.5 326.8 436 332.7 433.4 336.7 431.8 340.7 431.2 344.7 432.5 350.7 435.1 354.7 438.4 358.2 449.3 366.6 452.9 370.6 453.9 372.6 453.9 374.6 452.3 376.6 450.3 377.6 446.4 379 438.4 380.4 410.4 382.8 386.5 387.3 368.5 388.7 355.2 388.6 344.6 387.8 308.7 381.6 300.1 378.6 283.5 368.6 266.8 362.8 258.8 359.3 251.2 354.7 247.4 350.7 247 348.7 248.1 346.7 251 344.7 255.6 342.7 288.7 333.3 294.7 331.1 300.7 328.1 308.7 322.4 311.3 318.8 312.7 314.8 312.9 306.8 311.3 298.8 308.7 292.7 304.7 287.5 300.7 284.2 296.7 282 290.7 280.1 278.8 277.4 270.8 274.1 265.5 270.9 261.5 266.9 259.5 263 259.2 261 259.7 257 261.6 253 262.8 251.6 264.8 251Z"/>
<path fill="#00ff3c" fill-rule="evenodd" d="M288.5 251 290.7 249.4 296.7 255.2 298.7 256.1 302.7 256.4 306.7 255 308.7 253.5 311.9 249 334.7 249 335.5 257 337 261 338.4 263 352.6 276.1 362 286.9 367.7 290.9 372.5 292.7 378.5 293.7 384.5 293.8 396.5 293.3 404.5 292.1 412.4 289.4 418.4 286.3 422.9 282.9 426.1 278.9 430.4 266.7 432.4 264.9 444.4 261.6 448.4 259.4 452.5 255 455.3 249 489.8 249 492.6 263 490.5 280.9 491 284.9 494 294.9 493.8 298.8 491.2 302.8 488.3 304.8 482.3 307.1 464.3 311.8 450.4 318.8 440.1 326.8 432.9 334.7 430.6 338.7 429.3 342.7 429.1 348.7 430.7 352.7 433.5 356.7 445.2 368.6 445.9 370.6 445.5 372.6 442.4 375.1 438.3 376.6 432.4 377.7 404.5 380.7 386.5 384.9 366.6 386.8 344.6 385.5 308.7 378.4 300.7 375.2 286.5 366.6 262.8 358.6 256.3 354.7 253 350.7 252.9 348.7 254.3 346.7 258.8 344 290.7 333.9 300.7 329.2 308.7 323.7 311.1 320.8 313 316.8 313.7 312.8 313.7 308.8 312 298.8 308.7 291.2 304.7 286.2 300.7 283 294.7 279.9 280.8 276.6 270.8 272.8 265.1 268.9 262.8 266.2 261.2 263 260.8 259 261.4 257 262.8 254.5 264.8 253.4 266.8 253.5 274.8 256.6 278.8 256.9 282.8 256 284.5 255 288.5 251Z"/>
<path fill="#00ff1d" fill-rule="evenodd" d="M314.3 249 332.9 249 333.8 257 336.3 263 351.5 276.9 359.9 286.9 365.3 290.9 369.6 292.9 374.5 294.1 382.5 294.6 396.5 294 404.5 292.8 412.4 290.3 419 286.9 424.2 282.9 426.4 280.3 428.2 276.9 430.6 268.9 431.9 266.9 434.9 265 444.4 262.3 448.4 260.1 453.2 255 455.9 249 489.1 249 491.9 263 489.8 280.9 490.3 284.9 493 294.9 492.7 298.8 490.2 302.4 486.3 304.9 480.8 306.8 465.3 310.8 452.3 316.8 443.3 322.8 432.7 332.7 429.8 336.7 427.8 340.7 426.5 344.7 426.1 348.7 427.2 352.7 428.3 354.7 437.4 366.6 437.8 368.6 437.3 370.6 434.4 372.9 428.4 374.7 402.5 377.9 384.5 382.5 366.6 384.6 346.6 383.4 324.7 377.9 308.7 374.7 302.7 372.3 286.7 363.6 272.8 359.6 265 356.7 260.8 354 258.3 350.7 258.5 348.7 260 346.7 263.2 344.7 290.7 335.4 298.7 331.6 304.7 327.9 308.8 324.8 312.1 320.8 313.8 316.8 314.5 312.8 314.2 306.8 312.6 298.8 310.4 292.9 306.6 286.9 300.7 281.6 294.7 278.4 280.5 274.9 272.8 272.2 268.8 270.2 265.2 266.9 263 263 262.8 259 263.8 257 264.8 256 266.8 255.6 274.8 257.7 280.8 257.7 284.8 256.1 288.7 252.9 290.7 252.3 296.7 256.6 298.7 257.3 302.7 257.5 306.7 256.3 309 255 311.4 253 314.3 249Z"/>
<path fill="#00ff01" fill-rule="evenodd" d="M316.6 251 318.4 249 330.5 249 331.7 257 334.1 263 336.6 265.8 349.4 276.9 357.8 286.9 363 290.9 368.5 293.6 374.5 295 380.5 295.4 396.5 294.6 404.5 293.5 412.4 291.1 420.4 286.9 424.4 283.9 427.2 280.9 429.3 276.9 432 268.9 433.7 266.9 437.6 265 444.4 262.9 448.4 260.9 450.6 259 453.9 255 456.6 249 488.4 249 491.2 263 489.1 280.9 489.5 284.9 492.1 294.9 491.6 298.8 490.5 300.8 488.3 302.8 484.5 304.8 464.3 310.6 450.8 316.8 441.9 322.8 431 332.7 425.6 340.7 422.6 348.7 422.7 352.7 423.5 354.7 430.4 364.7 430.7 366.6 429.7 368.6 426.4 370.5 400.5 374.7 386.5 378.9 378.3 380.6 370.5 381.9 364.6 382.3 346.6 380.7 326.6 374.4 310.7 371.3 304.7 369.2 288.7 361.3 273.1 356.7 268.8 354.9 265.3 352.7 263.9 350.7 264.2 348.7 266.2 346.7 292.7 336.2 298.7 333 306.7 327.7 310.7 324.2 313.1 320.8 314.6 316.8 315.2 312.8 314.6 304.8 312 294.9 308.7 288.1 304.7 283.4 300.7 280.1 294.7 276.6 274.8 271.3 270.8 269.6 266.8 266.2 265.2 263 265 261 265.9 259 266.8 258.3 268.8 258 276.8 259.1 280.8 258.8 284.8 257.6 288.7 255.2 290.7 254.8 296.7 258.2 302.7 258.7 308.7 256.8 311.8 255 316.6 251Z"/>
<path fill="#00ff00" fill-rule="evenodd" d="M457.4 249 487.8 249 490.5 263 490.4 266.9 488.3 278.9 488.8 284.9 491.1 294.9 490.5 298.8 488.3 301.7 484.3 304.1 464.3 310 450.3 316.3 443.2 320.8 433.3 328.8 426.1 336.7 417.3 350.7 416.4 354.7 418.5 362.7 417.8 364.7 414.9 366.6 409.6 368.6 394.5 371.9 382.5 376.1 372.5 378.6 364.6 379.4 354.1 378.6 344.6 376.8 326.6 370.4 308.7 366.7 292.7 359.7 277.7 354.7 273.9 352.7 272 350.7 272.3 348.7 274.4 346.7 281.7 342.7 296.7 335.9 309.5 326.8 312.7 323.2 314.7 319.4 315.8 314.8 315.9 310.8 314.8 302.8 312.7 294.9 310.1 288.9 306.7 284 300.7 278.4 296.7 275.4 292.7 273.2 282.8 270.4 274.8 269.1 270.8 267.3 268.6 265 268.1 263 269.1 261 280.8 260.5 288.7 257.9 290.7 257.8 296.7 260.1 302.7 260.1 324.7 252.3 326.6 253 330.5 261 333 265 347.1 276.9 355.7 286.9 360.7 290.9 368.5 294.6 374.5 296 380.5 296.2 396.5 295.3 404.5 294.3 410.4 292.6 418.4 289 424.4 285 426.7 282.9 429.6 278.9 432.4 270.9 434.4 268 438.4 265.6 446.4 262.7 450.3 260.1 454.6 255 457.4 249Z"/>
<path fill="#00ff00" fill-rule="evenodd" d="M458.1 249 487.1 249 489.8 263 489.6 266.9 487.6 278.9 488 284.9 490.2 294.9 489.3 298.8 486.3 302 482.3 304.1 464.3 309.4 451.6 314.8 444.6 318.8 439 322.8 427.6 332.7 418.4 343.8 411.8 350.7 409.5 354.7 407.5 360.7 404.5 363.7 373.7 374.6 366.6 375.9 358.6 375.6 348.6 373.9 326.6 366.9 310.7 363.6 296.7 357.6 284.8 353.3 280.9 350.7 280.5 348.7 281.7 346.7 284.3 344.7 296.7 338 310.7 327.1 314.7 321.6 316.6 314.8 316.5 308.8 315 300.8 312.8 292.9 310.7 288.2 306.7 282.4 292.7 267.6 288.7 265.7 283.9 265 286.7 263.2 288.7 262.8 294.7 263.4 298.7 262.7 314.7 258.3 322.7 258.7 324.7 259.4 326.6 260.9 332 266.9 346.6 278.7 355.7 288.9 362.6 293.3 368.5 295.7 376.5 297 398.5 295.8 406.5 294.6 412.4 292.7 420.1 288.9 425.9 284.9 430.4 279.6 433.7 270.9 435 268.9 437.6 266.9 446.4 263.5 450.3 260.9 455.3 255 458.1 249Z"/>
<path fill="#00ff00" fill-rule="evenodd" d="M458.2 251 458.9 249 486.4 249 489.1 263 488.9 266.9 486.8 278.9 487.2 284.9 489.2 294.9 488.1 298.8 486.4 300.8 483.2 302.8 459 310.8 448.4 315.7 440.3 320.8 427.8 330.8 418.4 340.8 409.4 348.7 402.5 358.1 398.5 361.3 374.5 370.4 364.6 371.9 356.6 371.6 312.7 360.8 291.9 350.7 290 348.7 290.5 346.7 292.4 344.7 312.7 326.5 315.2 322.8 317.1 316.8 317.5 312.8 316.9 306.8 312.8 290.9 309.8 284.9 301.8 274.9 299.8 270.9 299.7 266.9 301.1 265 302.7 263.9 306.7 262.1 312.7 260.6 316.7 260.6 322.7 262.2 344 278.9 354.6 289.8 359.3 292.9 366.6 296 370.5 297.1 376.5 297.9 398.5 296.5 406.5 295.3 412.4 293.5 418.4 290.7 424.6 286.9 428.4 283.7 430.7 280.9 434.4 272.1 436.4 269.1 439.6 266.9 446.4 264.2 450.3 261.7 454.7 257 458.2 251Z"/>
<path fill="#06ff00" fill-rule="evenodd" d="M459.8 249 485.7 249 488.4 263 486 278.9 486.1 282.9 488.1 294.9 486.8 298.8 484.8 300.8 481.4 302.8 457.5 310.8 448.5 314.8 441.7 318.8 428.3 328.8 416.4 340.3 408.3 346.7 400.5 355.4 396.5 358.6 390.5 361.5 374.5 366.8 364.6 368.1 356.6 367.9 336.6 364 316.7 359.1 307.9 354.7 300.7 348.7 299.6 346.7 300.1 342.7 304.1 336.7 312.2 328.8 314.7 325.7 317.1 320.8 318.2 314.8 317.6 306.8 313.7 290.9 310.7 284.3 304 274.9 302.5 270.9 303.1 266.9 305 265 308.7 263.1 312.7 262.4 316.7 262.7 322.6 265 342.6 280.3 353.7 290.9 360.6 294.8 365.9 296.9 370.5 298 376.5 298.7 400.5 297 408.4 295.6 414.4 293.5 422.4 289.3 428.4 284.9 431.8 280.9 436.4 270.8 438.4 268.8 448.4 263.9 452.1 261 456.8 255 459.8 249Z"/>
<path fill="#25fe00" fill-rule="evenodd" d="M459.9 251 460.7 249 485 249 487.6 263 485.2 278.9 485.3 282.9 487 292.9 486.3 297.6 483.2 300.8 479.5 302.8 455.9 310.8 447 314.8 440.2 318.8 426.5 328.8 416.4 338.2 405.6 346.7 398.5 354 394.5 356.9 388.5 359.7 376.5 363.5 366.6 364.8 356.6 364.8 336.6 361.6 318.7 357.1 314.7 355.3 310.8 352.7 305.4 346.7 304.4 342.7 305.6 338.7 308.4 334.7 313.9 328.8 316.5 324.8 318.1 320.8 319 314.8 318.3 306.8 313.8 288.9 311.2 282.9 305.2 272.9 305 268.9 306 266.9 308.7 265.1 310.7 264.4 314.7 264.3 318.7 265.4 321.9 266.9 336.6 277.9 351.5 290.9 356.6 294.1 362.9 296.9 370.1 298.8 376.5 299.5 400.5 297.7 408.4 296.4 414.4 294.3 420.4 291.3 427.2 286.9 430.4 284.1 432.9 280.9 437.6 270.9 439.8 268.9 448.4 264.6 452.3 261.6 456.2 257 459.9 251Z"/>
<path fill="#50fd00" fill-rule="evenodd" d="M461.7 249 484.3 249 486.7 263 484.3 278.9 485.9 294.9 484.3 298.6 481.6 300.8 476.3 303.4 454.3 310.8 441.8 316.8 427.2 326.8 394.5 354.4 388.5 357.4 380.5 360.1 372.5 361.8 360.6 362.4 352.6 361.8 334.6 359 324.7 356.7 318.7 354.5 313.1 350.7 309.7 346.7 308.2 342.7 308.7 338.7 317.7 324.8 319.1 320.8 319.9 314.8 319.1 306.8 315.4 290.9 312.7 283.3 307.3 272.9 307.1 270.9 307.6 268.9 309.7 266.9 312.7 266.2 314.7 266.3 320.7 268.5 332.6 277.1 352.1 292.9 356.6 295.4 362.6 297.8 370.5 299.8 376.5 300.4 402.5 298.3 408.4 297.2 414.4 295.2 420.4 292.2 428.5 286.9 432.6 282.9 437.5 272.9 439 270.9 441.5 268.9 448.4 265.4 452.3 262.5 457.1 257 461.7 249Z"/>
<path fill="#63ff00" fill-rule="evenodd" d="M461.8 251 462.8 249 483.5 249 485.9 263 483.4 278.9 484.9 292.9 484.1 296.9 482.6 298.8 479.9 300.8 474.3 303.5 454.3 310.1 442.4 315.6 425.3 326.8 394.5 352.1 388.5 355.4 380.5 358.1 372.5 359.6 360.6 360.1 336.6 357.3 328.6 355.7 322.7 353.8 317.3 350.7 313.5 346.7 311.7 342.7 311.7 338.7 319 324.8 320.1 320.8 320.7 314.8 319.9 306.8 315.8 288.9 309.8 272.9 309.9 270.9 311.9 268.9 316.1 268.9 320.7 270.9 329.4 276.9 350.6 293.3 356.6 296.6 362.6 298.8 370.5 300.7 376.5 301.2 402.5 299 408.4 298 414.4 296.1 422.4 291.9 429.8 286.9 433.7 282.9 438.4 273.5 440.4 271 448.4 266.3 452.8 263 456.4 259 461.8 251Z"/>
<path fill="#78ff00" fill-rule="evenodd" d="M464 249 482.7 249 484.4 257 485 263 482.5 278.9 483.8 292.9 482.8 296.9 481.1 298.8 478.3 300.8 474.2 302.8 450.8 310.8 440.4 315.8 423.4 326.8 394.5 350.1 388.5 353.5 382.5 355.7 374.5 357.4 362.6 358.1 354.6 357.7 340.6 355.9 330.6 354.1 324.7 352.3 320.7 350.1 316.7 346.2 314.9 342.7 314.6 338.7 320.2 324.8 321.2 320.8 321.7 314.8 321.1 308.8 313.5 274.9 313.9 272.9 314.7 272.4 318.7 272.7 322.7 274.6 350.6 294.7 356.6 297.7 362.6 299.7 370.5 301.5 376.5 302 406.5 299.3 412.4 297.8 416.4 296.1 424.4 291.6 431 286.9 434.7 282.9 440.4 272.4 442.4 270.6 450.3 265.9 453.8 263 458.8 257 464 249Z"/>
<path fill="#9cff00" fill-rule="evenodd" d="M464.2 251 465.4 249 481.9 249 483.5 257 484.1 263 481.5 278.9 482.7 292.9 481.4 296.9 479.6 298.8 476.7 300.8 472.3 302.9 449 310.8 438.4 315.9 422.4 326 394.5 348.2 388.5 351.7 382.5 353.9 374.5 355.6 362.6 356.2 354.6 355.8 340.6 354 332.6 352.6 326.4 350.7 322.7 348.6 319 344.7 318.1 342.7 317.4 338.7 318.2 334.7 321.5 324.8 322.6 314.8 322 308.8 319.2 296.9 317.2 282.9 317.1 278.9 318.2 276.9 320.7 276.7 324.7 278.4 350.6 296 356.6 298.8 363.1 300.8 372.5 302.6 378.5 302.8 390.5 301.2 408.4 299.8 414.4 298 418.4 296.1 426.4 291.3 432.2 286.9 435.6 282.9 441.2 272.9 454.3 263.4 464.2 251Z"/>
<path fill="#b9ff00" fill-rule="evenodd" d="M465.6 251 466.9 249 480.9 249 482.3 254.9 483.1 261 482.9 265 480.7 276.9 480.4 280.9 481.6 292.9 480.1 296.9 476.3 300.1 470.6 302.8 447 310.8 436.4 316 422 324.8 392.5 347.8 388.5 350 382.5 352.3 376.5 353.6 368.5 354.3 352.6 353.8 338.6 351.7 330.6 349.9 326.6 348.3 322.4 344.7 321.2 342.7 320.2 338.7 320.5 334.7 323.1 322.8 323.6 316.8 323 308.8 320.5 298.8 319.5 290.9 319.3 284.9 320.7 281 322.7 280.6 326.6 282.2 352.6 298.3 364.6 302.1 372.5 303.4 378.5 303.6 390.5 301.9 408.4 300.6 412.4 299.7 418.4 297.1 426.4 292.2 432.4 287.8 436.4 283.1 440.4 275.6 442.4 273.1 454.3 264.5 465.6 251Z"/>
<path fill="#d6fc00" fill-rule="evenodd" d="M467.2 251 468.6 249 479.8 249 481.7 257 481.9 265 479.4 278.9 480.4 292.9 478.7 296.9 476.3 299.2 470.3 302.2 445 310.8 434.4 316 419.8 324.8 392.5 346.1 388.5 348.4 382.5 350.7 376.5 352 368.5 352.7 358.6 352.6 350.6 351.7 332.6 348.3 328.6 346.6 326 344.7 324.4 342.7 323.5 340.7 322.8 336.7 324.5 320.8 324.5 312.8 320.9 292.9 321 288.9 322.7 284.8 324.7 284.5 326.6 285 340.6 292.4 352.6 299.5 358.6 301.6 366.6 303.3 378.5 304.5 390.5 302.7 404.5 302 410.4 301.2 418.4 298.1 432.4 288.9 436.4 284.5 442.4 274.5 454.3 265.5 467.2 251Z"/>
<path fill="#f5f500" fill-rule="evenodd" d="M469 251 470.5 249 478.4 249 480.3 255 480.9 259 480.8 265 478.4 278.9 479.2 292.9 477.4 296.9 474.3 299.5 468.3 302.3 442.9 310.8 427 318.8 417.4 324.8 392.5 344.5 388.5 346.8 382.5 349.1 376.5 350.4 368.5 351.1 358.6 350.9 350.6 350 334.6 346.7 330.4 344.7 326.6 340.9 325.7 338.7 325.1 334.7 325.8 320.8 325.6 312.8 322.5 294.9 323 290.9 324.7 288.4 326.6 288.3 328.6 288.8 338.6 293 353.1 300.8 359.8 302.8 368.5 304.5 378.5 305.3 390.5 303.4 406.5 302.8 412.4 301.8 420.4 298.1 433.6 288.9 437.1 284.9 443.3 274.9 454.3 266.6 469 251Z"/>
<path fill="#f0d500" fill-rule="evenodd" d="M471.3 251 473.6 249 476.3 249.1 478.9 255 479.8 261 479.3 266.9 477.3 278.9 478.1 292.9 476.1 296.9 473.8 298.8 468.3 301.6 440.6 310.8 424.2 318.8 416.4 323.7 392.5 342.9 388.5 345.2 382.5 347.6 376.5 348.9 368.5 349.5 358.6 349.3 350.6 348.3 342.2 346.7 335.7 344.7 332 342.7 328.6 338.8 327.1 332.7 326.7 312.8 324.5 298.8 324.7 294.7 326.6 292.1 330.6 292.3 338.6 294.5 350.3 300.8 354.6 302.5 372.5 305.9 378.5 306.2 392.5 304 406.5 303.8 412.4 303 416.4 301.6 420.4 299.3 434.4 289.3 438 284.9 442.4 277.5 444.4 275.1 455.2 266.9 464.3 257.3 471.3 251Z"/>
<path fill="#f0b500" fill-rule="evenodd" d="M471.8 253 474.3 252 476.3 253.1 478 257 478.5 261 478.3 265.5 476.1 278.9 477 288.9 476.8 292.9 474.7 296.9 472.3 298.9 468.3 300.9 440.4 309.9 422.4 318 414.4 323.2 392.5 341.3 386.5 344.6 380.5 346.6 372.5 347.8 364.6 348 356.6 347.5 348.6 346.3 342 344.7 336.6 342.7 333.6 340.7 330.6 337.1 328.9 330.8 328 312.8 326.8 300.8 326.9 298.8 327.6 296.9 328.6 295.9 332.6 295.2 336.6 295.6 340.6 296.9 348.6 301.3 354.6 303.6 374.5 307 380.5 306.9 392.5 304.8 408.4 304.8 414.4 303.8 420.4 300.7 434.4 290.4 437.6 286.9 444.4 276.5 454.3 268.9 466.3 257 471.8 253Z"/>
<path fill="#f49c00" fill-rule="evenodd" d="M468.8 257 472.3 255.2 474.3 255.2 476.3 257.7 476.9 261 476.7 266.9 474.9 278.9 475.9 288.9 475.6 292.9 473.3 296.9 470.7 298.8 466.3 300.8 438.4 309.5 420.4 317 412.4 322.5 398.8 334.7 392.5 339.7 386.5 343.1 380.5 345.1 374.5 346.2 366.6 346.5 358.6 346.1 350.6 345 342.6 342.9 338.6 341.3 335 338.7 332.6 335.7 331.4 332.7 330.2 326.8 329 306.8 329.5 300.8 330.9 298.8 334.6 297.6 338.6 297.9 352.6 304.1 358.6 305.5 374.5 307.8 380.5 307.8 392.5 305.7 408.4 306.2 414.4 305.5 420.4 302.4 434.4 291.7 438.4 287.2 442.4 280.7 445.4 276.9 455.8 268.9 464.3 260.6 468.8 257Z"/>
<path fill="#f28200" fill-rule="evenodd" d="M469.3 259 472.3 258.1 473.8 259 474.8 261 475.2 265 473.7 278.9 474.7 288.9 474.4 292.9 471.9 296.9 469 298.8 452.3 304.5 438.4 308.3 418.4 315.2 412.4 319.7 394.2 336.7 388.2 340.7 380.5 343.6 374.5 344.7 366.6 345 352.6 343.7 346.6 342.2 340.6 339.9 336.6 337.1 334.6 334.6 332.9 330.8 332 326.8 330.8 312.8 331.1 304.8 331.8 302.8 333.5 300.8 336.6 299.8 338.6 299.8 352.6 305.3 374.5 308.7 380.5 308.8 394.5 306.6 410.4 308 414.4 307.7 418.4 306.1 420.4 304.7 434.4 293 438.4 288.6 443.3 280.9 446.4 277.4 456.3 269.9 466.3 260.8 469.3 259Z"/>
<path fill="#f16900" fill-rule="evenodd" d="M466.5 263 470.3 261.5 472.3 262.6 473 265 472.4 278.9 473.5 290.9 472.1 294.9 470.4 296.9 466.3 299.1 448.4 304.7 428.4 309.3 424.4 309.3 422.9 308.8 422.8 306.8 425.4 302.8 436.4 292.5 446.3 278.9 457 270.9 466.5 263ZM335.8 302.8 338.6 302.1 340.6 302.4 352.6 306.5 376.5 309.8 382.5 309.5 392.5 307.7 400.5 308.1 410.9 310.8 413.3 312.8 411.4 316.8 400.8 328.8 394.5 334.7 388.5 339 382.5 341.6 376.5 342.9 368.5 343.5 358.6 343 350.6 341.5 342.7 338.7 338.6 335.9 336.1 332.7 334.4 328.8 333.4 324.8 332.5 314.8 333.1 306.8 333.9 304.8 335.8 302.8Z"/>
<path fill="#f65600" fill-rule="evenodd" d="M464.5 266.9 468.3 265.5 470.3 266.9 470.9 278.9 472.2 288.9 471.7 292.9 470.3 295.3 468.6 296.9 464.6 298.8 450.3 303.3 434.4 305.9 430.4 305.8 428.8 304.8 429 302.8 430.1 300.8 438.4 291.8 446.4 280.4 464.5 266.9ZM339.6 304.8 342.6 305.1 354.6 308.1 376.5 310.8 382.5 310.6 392.5 308.9 396.5 308.9 403.8 310.8 406.5 312.8 407.4 314.8 405.9 318.8 400.1 326.8 394.5 332.7 388.5 337.3 382.5 340 376.5 341.4 368.5 342 358.6 341.4 350.6 339.7 344.6 337.4 340.6 334.7 337.5 330.8 335.8 326.8 334.9 322.8 334.5 312.8 335.2 308.8 336.1 306.8 338.6 304.9 339.6 304.8Z"/>
<path fill="#f94200" fill-rule="evenodd" d="M462.8 270.9 466.3 270.1 468.3 272.8 470.8 288.9 470.3 292.9 469 294.9 466.6 296.9 462.3 298.7 450.3 302.4 442.4 303.5 438.4 303.5 434.8 302.8 433.9 300.8 434.7 298.8 446.4 282.1 450.3 278.8 462.8 270.9ZM338.7 308.8 340.6 307.8 342.6 307.6 378.5 312 390.5 310.4 396.5 310.6 401.5 312.8 402.8 314.8 402.8 316.8 400.3 322.8 396.1 328.8 392.2 332.7 386.5 336.7 380.5 339 374.5 340.1 368.5 340.5 360.6 340 353.5 338.7 347.7 336.7 344.1 334.7 340.1 330.8 337.4 324.8 336.4 318.8 336.8 312.8 338.7 308.8Z"/>
<path fill="#f01d00" fill-rule="evenodd" d="M460.2 274.9 462.3 274.2 464.3 274.3 466.5 276.9 468.3 282.7 469.3 288.9 468.6 292.9 467.1 294.9 462.3 297.6 450.3 301.4 444.4 302 438.7 300.8 437.9 298.8 438.4 296.9 446.4 284 450.3 280.5 460.2 274.9ZM342 310.8 346.6 310.1 362.6 311 378.5 313.2 392.5 312.1 395.8 312.8 398.3 314.8 398.9 316.8 398.7 318.8 396.4 324.8 393.6 328.8 389.6 332.7 386.5 334.9 380.5 337.3 374.5 338.5 368.5 338.9 360.6 338.3 354.6 337.1 348.6 334.9 344.6 332.4 341.5 328.8 339.7 324.8 338.7 318.8 339.1 314.8 339.9 312.8 342 310.8Z"/>
<path fill="#f50200" fill-rule="evenodd" d="M456.5 278.9 460.3 277.7 462.3 277.7 464.3 279 466.3 282.7 467.4 286.9 467.4 290.9 466.7 292.9 464.8 294.9 462.3 296.2 454.3 299.2 446.4 300.6 442.4 299.7 441.3 298.8 440.8 296.9 442.1 292.9 444.4 288.9 448.4 283.9 456.5 278.9ZM345.6 312.8 350.6 312.2 362.6 312.2 378.5 314.5 390.5 314.4 392.5 314.8 394.5 316.6 395.1 318.8 394.9 320.8 393.6 324.8 391 328.8 386.6 332.7 382.8 334.7 378.5 336.1 372.5 337 360.6 336.6 354.6 335.2 349 332.7 346.3 330.8 343.1 326.8 341.4 320.8 341.7 316.8 342.6 314.8 345.6 312.8Z"/>
<path fill="#f50000" fill-rule="evenodd" d="M458 280.9 460.3 280.8 462.3 281.5 464.3 284 465.6 288.9 465.3 290.9 464.3 292.9 460.3 295.6 452.3 298.5 448.4 299.1 446.2 298.8 444.4 297.9 443.6 296.9 443.4 294.9 446.4 288.6 450.3 284.5 454.3 282.2 458 280.9ZM348.9 314.8 356.6 313.8 364.6 313.5 378.5 316 387 316.8 390.7 318.8 391.3 320.8 391.1 322.8 390.5 324.9 388 328.8 382.5 332.7 376.5 334.6 372.5 335.2 366.6 335.3 360.6 334.7 352.6 332.1 348.6 329.4 346.3 326.8 344.6 322.8 344.6 318.8 345.7 316.8 348.9 314.8Z"/>
<path fill="#f50000" fill-rule="evenodd" d="M453.9 284.9 458.3 283.9 460.3 284.4 462.5 286.9 462.9 288.9 462.6 290.9 461.1 292.9 458 294.9 452.3 296.9 448 296.9 446.1 294.9 446.3 292.9 447.2 290.9 450.3 287 453.9 284.9ZM352 316.8 362.6 314.9 370.5 315.7 384.5 319.6 386.5 321.3 387.1 322.8 386.8 324.8 384.2 328.8 381.2 330.8 376.5 332.4 368.5 333.4 360.6 332.5 355.4 330.8 352.6 329.1 350.1 326.8 348.8 324.8 348.2 322.8 348.6 319.8 349.1 318.8 352 316.8Z"/>
<path fill="#f50000" fill-rule="evenodd" d="M453.2 288.9 456.3 288.2 457.9 288.9 458 290.9 455.8 292.9 454.3 293.4 452.3 293.8 450.3 293 450.9 290.9 453.2 288.9ZM361.5 316.8 367.8 316.8 374.6 318.8 379.1 320.8 380.5 322 381.4 322.8 381.8 324.8 380.9 326.8 378.5 328.8 372.5 330.7 364.6 330.8 358.6 329.2 354.7 326.8 353.2 324.8 352.7 322.8 353.2 320.8 355.3 318.8 361.5 316.8Z"/>
<path fill="#f50000" fill-rule="evenodd" d="M359.6 320.8 364.6 319 368.5 319.5 372 320.8 374.5 322.8 375 324.8 373.2 326.8 370.5 327.6 364.6 327.6 361.7 326.8 359.1 324.8 358.4 322.8 359.6 320.8Z"/>
<path fill="none" stroke="#000" stroke-width="0.8" d="M233.3 249 234.9 249.7 236.9 249.7 238.1 249M224.8 249 230.1 253 234.9 254.6 236.9 254.5 238.9 253.7 240.9 252.1 242.7 249M266.8 302.6 264.1 304.8 264.3 306.8 266.8 309 270.8 310 274.8 309.7 277.4 308.8 278.6 306.8 276.7 304.8 272.8 302.8 268.8 302.3 266.8 302.6M514.7 249 516.2 252.8 518.2 255.6 520.2 257.4 522.2 258.3 524.2 258.4 528.2 257.3 532.5 255 536.1 251.8 538 249M388.5 260.9 386.5 261.6 385.6 263 385.1 265 385 268.9 386 272.9 387.7 274.9 390.5 276 394.5 276 397.6 274.9 399.8 272.9 400.9 270.9 401.2 268.9 400.5 265.7 398.5 263.5 396.5 262.3 392.5 261.2 388.5 260.9M254.8 295.9 251.5 298.8 247.9 304.8 247.3 306.8 247.8 308.8 249.9 310.8 254.5 312.8 264.8 315.1 274.8 315.4 280.8 314.4 286.6 312.8 290.2 310.8 291.7 308.8 292 306.8 291.4 304.8 289.6 302.8 286.7 301.4 266.8 295.9 258.8 295 254.8 295.9M183 307.6 193 307.3 208.9 305.8 214.8 304.8 216.9 303.6 218.6 300.8 222.9 290.9 223.1 288.9 221.9 286.9 212.9 281.2 209.6 276.9 208 272.9 207.5 268.9 207.6 265 208.9 260.4 210.9 257.4 212.9 255.7 214.9 254.7 218.9 253.8 222.9 254.4 232.9 258.5 236.9 258.6 238.9 257.8 242.1 255 243.6 253 245.3 249M358.7 249 359.7 253 362.1 257 374 266.9 380.6 276.9 382.9 278.9 386.5 280.4 392.5 281 398.5 280.1 402.5 278.2 405.9 274.9 407.8 270.9 408.1 266.9 407.4 263 402.1 249M438.1 249 440.4 250.2 442.8 249M506.4 249 509.3 263 509.1 266.9 507.6 274.9 507.7 278.9 508.7 280.9 510.2 282.5 518.2 287.3 522 290.9 523.1 292.9 523.9 296.9 523.4 300.8 522.6 302.8 521.3 304.8 518.2 307.7 500.2 317.9 496.2 319.2 478.3 323.1 472.3 325.4 468.8 328.8 465.6 334.7 465.4 338.7 466 340.7 467.5 342.7 470.3 344.9 476.3 347 488.3 349.4 512.2 353.1 532.1 355 560.1 356.2 572 357.2 592 357.2M183 321.1 203 319.7 222.9 319.7 234.9 319 272.8 319.4 278.8 318.6 286.9 316.8 292.4 314.8 295.3 312.8 296.9 310.8 297.6 308.8 297.1 304.8 294.7 301.5 290.7 298.5 286.7 296.9 268.8 292 262.8 289.7 246.8 282.2 234.9 274.1 232.9 273.9 226.9 274.7 222.9 274.5 219 272.9 217 270.9 216 268.9 215.8 265 216.6 263 218.6 261 220.9 260.1 222.9 260.1 226.9 261.3 232.9 264.5 234.9 264.8 236.9 264.2 240.9 260.8 244 257 246.3 253 247.6 249M203.5 414.5 195 408.4 186.7 400.5 183 398M354.7 249 355.9 255 358.1 259 360.6 261.6 370.5 269.8 378.5 280 380.5 281.5 384 282.9 390.5 283.8 396.5 283.4 402.5 281.7 407.1 278.9 410.5 274.9 411.9 270.9 412.1 266.9 407.9 249M434.7 249 436.4 251.9 438.4 253.2 440.4 253.5 442.4 253.1 444.4 251.6 446 249M501.9 249 503.5 257 504.1 263 503.6 268.9 502.2 276.9 502.4 280.9 504.5 284.9 511.1 290.9 514.3 294.9 515 296.9 514.6 300.8 513.5 302.8 509.4 306.8 502.2 311.8 498.2 314 490.2 316.5 472.3 320 466.8 322.8 460.7 328.8 456.9 334.7 456.2 338.7 456.5 340.7 458.7 344.7 463.6 348.7 470.3 351.6 512.2 360.7 534.1 363.8 570.1 366 592 366.2M183 337.5 191.5 332.7 196.5 330.8 203.5 328.8 210.9 327.3 232.9 324.8 268.8 323.2 282.8 321.1 290.7 319 294.7 317.5 298.7 315.1 300.7 312.8 301.9 308.8 301.4 304.8 299.4 300.8 295.1 296.9 291.6 294.9 286.7 292.9 272.8 289.4 266.8 287.3 256.8 282.3 248.8 277.8 245.2 274.9 243.6 272.9 242.1 268.9 242.2 266.9 243.6 263 247.8 255 249.8 249M253.5 414.5 250.4 412.5 242.1 408.5 218.5 398.5 208.3 392.6 203.8 388.6 200.3 384.6 188.6 368.6 183 362.5M351.3 249 352.2 255 353.9 259 355.3 261 368.5 272.9 374.9 280.9 377.2 282.9 381.5 284.9 386.5 285.9 390.5 286.1 398.5 285.5 404.5 283.6 409.4 280.9 413.4 276.9 415.2 272.9 415.5 266.9 411.9 249M431.9 249 432.6 251 434.4 253.6 436.4 255.1 440.4 255.8 443.2 255 446 253 448.2 249M498.5 249 500.5 259 500.8 263 500.6 266.9 499 276.9 499 280.9 500.3 284.9 507.6 294.9 508.4 296.9 508.6 298.8 508.1 300.8 506.9 302.8 503.1 306.8 496.2 311.3 488.3 314 470.3 317.4 466.3 319.1 461.2 322.8 454.8 328.8 450.7 334.7 450 336.7 449.7 340.7 450.3 343.5 452.2 346.7 454.3 348.8 458.3 351.5 468.3 355.8 506.2 365.1 526.2 369 536.1 370.2 568.1 372.1 592 372.3M592 408.2 560.1 409.7 530.6 410.5 506.2 412.2 430.4 411.9 422.4 412.5 411.9 414.5M339.6 414.5 298.7 407.9 270.8 401.9 262.8 399.1 254.8 394 238.9 380.6 214.9 363.7 207.1 356.7 203.8 352.7 202.7 350.7 201.8 346.7 202 344.7 204.2 340.7 209 336.7 214.9 333.9 220.9 332 228.9 330.4 268.8 326.6 286.7 323.2 294.7 320.8 299 318.8 302.7 315.8 304.5 312.8 305.2 308.8 304.3 302.8 302.7 299.6 300.7 297.1 296.7 293.8 288.7 290.1 272.8 286 268.8 284.5 254.8 277.3 248.6 272.9 247.1 270.9 246.3 268.9 246.4 265 250.2 255 252 249M276 249 278.8 249.9 280.9 249M347.3 249 348.1 255 351 261 354.5 265 364.6 273.9 372.5 283 374.9 284.9 379.3 286.9 384.5 287.9 390.5 288.2 398.5 287.6 406.5 285.4 411.3 282.9 414.1 280.9 417.4 276.9 418.8 272.9 419.1 266.9 418.7 263 416.2 253 415.7 249M428.9 249 430.3 253 431.8 255 434.9 257 438.4 257.8 442.4 257.3 446.4 255.2 448.4 252.9 450.2 249M495.7 249 497.5 257 498.1 263 497.7 268.9 496.4 276.9 496.3 280.9 498.2 286.9 502.6 294.9 503.3 298.8 502.8 300.8 500.1 304.8 497.9 306.8 494.2 309.2 486.3 312 472.3 314.4 468.3 315.6 462 318.8 453.9 324.8 448.1 330.8 444.9 336.7 444.1 340.7 444.3 342.7 445.6 346.7 446.9 348.7 450.3 352 454.3 354.6 460.3 357.5 466.3 359.7 486.3 365.6 528.2 375.4 538.1 376.9 552.1 377.7 564.1 378.9 580 379.4 592 379.1M592 394.7 582 396.3 540.1 400.4 528.2 401.2 500.2 401.6 430.4 401.2 418.4 401.9 396.5 404.3 382.5 404.7 366.6 403.9 340.6 403.7 318.7 401.5 296.7 397.3 276.8 390.6 269.3 386.6 245.2 370.6 232.9 364.1 224.9 359.1 219.6 354.7 218 352.7 216.3 348.7 216.7 344.7 217.8 342.7 219.7 340.7 222.5 338.7 226.9 336.8 240.9 333.6 270.8 329.6 288.7 325.6 294.7 323.8 300.7 321 304.7 317.9 306.8 314.8 307.9 308.8 307.1 302.8 304.7 297.3 300.7 292.8 296.7 290 292.7 288.2 276.8 284.1 270.8 281.9 260.7 276.9 254.2 272.9 251.8 270.9 250.4 268.9 249.9 265 254.4 249M271.8 249 274.8 251.8 278.8 252.7 280.8 252.3 282.7 251 284.1 249M297.7 249 298.7 250.2 300.7 251.1 302.7 250.9 304.9 249M342.3 249 343.2 255 344.8 259 346.1 261 349.6 265 360.4 274.9 369.5 284.9 372.5 287.1 376.7 288.9 382.5 290 388.5 290.3 396.5 289.9 404.5 288.4 412.9 284.9 418.3 280.9 421.1 276.9 422.3 272.9 423.7 257 424.4 254.6 427.4 257 432.4 259 436.4 259.7 440.4 259.6 444.4 258.5 448.4 255.6 450.4 253 452.1 249M493.3 249 495.6 259 495.9 263 495.5 268.9 494.1 276.9 494 280.9 494.8 284.9 499 294.9 499.3 298.8 498.2 301.7 495.8 304.8 490.2 308.3 484.3 310.2 470.5 312.8 466.3 314.2 460.9 316.8 451.8 322.8 445.3 328.8 441 334.7 439 340.7 439.2 344.7 440.6 348.7 443.7 352.7 448.4 356.4 454.3 359.8 462.3 363.5 484.3 371.4 513.8 378.6 517.9 380.6 523.2 384.6 524 386.6 522.7 388.6 516.2 391 506.2 392.2 428.4 392.5 384.5 396.5 356.6 396.8 336.6 395.8 318.7 393.7 304.7 391.3 295.5 388.6 284.8 384.2 268.7 374.6 238.9 358.9 234.9 356.3 231 352.7 229.6 350.7 229 348.7 229.2 346.7 230.3 344.7 232.4 342.7 235.7 340.7 244.8 337.7 270.8 333.1 292.7 327.5 298.7 325 304.7 321.4 307.4 318.8 309.5 314.8 310.2 308.8 309 300.8 306.7 295.5 302.7 290.7 298.7 287.7 294.7 285.8 278.8 281.8 271.3 278.9 263.6 274.9 255.6 268.9 254.3 266.9 253.8 263 254.9 257 257.4 249M266.4 249 272.8 253.8 274.8 254.6 278.8 255.1 280.8 254.8 284.1 253 285.8 251 286.8 249M294.2 249 296.7 252.6 298.7 253.9 300.7 254.4 302.7 254.3 305.7 253 307.7 251 308.8 249M337.7 249 338.8 257 340.7 261 344.3 265 355.1 274.9 362 282.9 366.1 286.9 370.5 289.8 374.5 291.2 380.5 292.2 386.5 292.4 396.5 291.9 404.5 290.6 410.4 288.7 417.7 284.9 420.4 282.8 423.7 278.9 425.4 274.9 427.1 266.9 428.4 264.4 430.4 262.9 440.4 261.5 446.4 259.4 448.4 257.9 451.1 255 454 249M491.1 249 493.5 259 493.9 263 493.7 266.9 492 276.9 491.9 280.9 492.5 284.9 495.9 294.9 495.9 298.8 495.2 300.8 492.2 304.2 488.3 306.6 482.3 308.5 466.3 312.2 460.4 314.8 453.3 318.8 445.1 324.8 439.2 330.8 435.1 336.7 433.7 340.7 433.3 344.7 434.2 348.7 437.9 354.7 442.4 358.8 462.3 372.6 464.5 374.6 465.8 376.6 465.3 378.6 461.1 380.6 449.3 382.6 410.4 385.6 384.5 389.7 362.6 390.7 350.6 390.4 340.6 389.5 310.7 384.9 302.7 382.9 293.6 378.6 280.2 370.6 256.3 360.7 246.2 354.7 242.9 351.3 242 348.7 242.7 346.7 244.7 344.7 248.7 342.7 288.7 332 294.7 329.9 300.7 327 304.7 324.6 308.7 321.2 310.7 318.2 311.9 314.8 312.4 310.8 312.2 306.8 310.6 298.8 308.7 294.3 306.7 291.1 302.7 286.9 298.7 284.2 294.7 282.4 279.6 278.9 270.8 275.3 264.8 271.8 259.7 266.9 257.9 263 257.9 259 258.8 255 260.8 250.9 262.4 249M332.9 249 333.8 257 335.1 261 336.3 263 351.5 276.9 359.9 286.9 365.3 290.9 369.6 292.9 374.5 294.1 382.5 294.6 396.5 294 404.5 292.8 412.4 290.3 419 286.9 424.2 282.9 426.4 280.3 428.2 276.9 430.6 268.9 431.9 266.9 434.9 265 444.4 262.3 448.4 260.1 450.3 258.4 453.2 255 455.9 249M489.1 249 491.4 259 491.9 263 491.7 266.9 489.9 276.9 489.8 280.9 490.3 284.9 493 294.9 492.7 298.8 490.2 302.4 486.3 304.9 480.8 306.8 465.3 310.8 458.3 313.8 450.3 317.9 440.9 324.8 434.5 330.8 431.2 334.7 428.7 338.7 427 342.7 426.2 346.7 426.5 350.7 428.3 354.7 434.8 362.7 437.4 366.6 437.8 368.6 437.3 370.6 435 372.6 429 374.6 404.5 377.5 384 382.6 370.5 384.4 364.6 384.6 350.6 383.9 344.6 383.1 324.7 377.9 308.5 374.6 302.7 372.3 286.7 363.6 272.8 359.6 265 356.7 260.8 354 259.4 352.7 258.3 350.7 258.5 348.7 260 346.7 263.2 344.7 290.7 335.4 298.7 331.6 304.7 327.9 308.8 324.8 312.1 320.8 313.8 316.8 314.5 312.8 314.2 306.8 312.6 298.8 310.4 292.9 306.6 286.9 300.7 281.6 294.7 278.4 280.5 274.9 272.8 272.2 268.8 270.2 265.2 266.9 263 263 262.8 259 263.8 257 264.8 256 266.8 255.6 274.8 257.7 280.8 257.7 284.8 256.1 288.7 252.9 290.7 252.3 296.7 256.6 298.7 257.3 302.7 257.5 306.7 256.3 309 255 311.4 253 314.3 249M487.1 249 489.8 263 489.6 266.9 487.7 276.9 487.6 280.9 490.2 294.9 490 296.9 488.3 300.4 485 302.8 480.3 304.8 466.1 308.8 455.9 312.8 447.9 316.8 439 322.8 431.7 328.8 427.6 332.7 418.4 343.8 411.8 350.7 409.5 354.7 407.5 360.7 406 362.7 402.7 364.7 390.1 368.6 378.5 373.2 372.5 374.9 364.6 376 356.6 375.4 346.6 373.4 326.6 366.9 316.7 365.2 310.7 363.6 296.7 357.6 284.8 353.3 280.9 350.7 280.5 348.7 281.7 346.7 284.3 344.7 296.7 338 310.7 327.1 314.7 321.6 315.8 318.8 316.6 314.8 316.5 308.8 315 300.8 312.8 292.9 310.7 288.2 306.7 282.4 292.7 267.6 288.7 265.7 283.9 265 286.7 263.2 288.7 262.8 294.7 263.4 298.7 262.7 314.7 258.3 318.7 258.2 322.7 258.7 324.7 259.4 326.6 260.9 332 266.9 346.6 278.7 355.7 288.9 362.6 293.3 368.5 295.7 376.5 297 398.5 295.8 406.5 294.6 412.4 292.7 420.1 288.9 425.9 284.9 428 282.9 430.4 279.6 433.7 270.9 435 268.9 437.6 266.9 446.4 263.5 450.3 260.9 455.3 255 458.1 249M485 249 487.6 263 487.3 266.9 485.2 278.9 485.3 282.9 487 294.9 486.6 296.9 485.5 298.8 483.2 300.8 479.5 302.8 455.9 310.8 447 314.8 440.2 318.8 426.5 328.8 416.4 338.2 405.6 346.7 398.5 354 392.5 358 382.5 361.8 374.5 363.9 362.6 365 354.6 364.6 334.6 361.1 318.7 357.1 314.7 355.3 310.8 352.7 308.6 350.7 305.4 346.7 304.4 342.7 305.6 338.7 308.4 334.7 313.9 328.8 316.5 324.8 318.1 320.8 319 314.8 318.3 306.8 313.8 288.9 311.2 282.9 305.2 272.9 305 268.9 306 266.9 308.7 265.1 310.7 264.4 314.7 264.3 318.7 265.4 321.9 266.9 336.6 277.9 351.5 290.9 356.6 294.1 362.9 296.9 370.1 298.8 376.5 299.5 400.5 297.7 408.4 296.4 414.4 294.3 422.4 290.1 428.4 286 432.9 280.9 437.6 270.9 439.8 268.9 448.4 264.6 452.3 261.6 457.6 255 460.7 249M482.7 249 484.4 257 485 263 482.5 278.9 482.5 282.9 483.8 292.9 482.8 296.9 481.1 298.8 478.3 300.8 474.2 302.8 450.8 310.8 438.6 316.8 423.4 326.8 392.5 351.4 384.5 355 376.5 357.1 366.6 358 356.6 357.9 338.6 355.6 328.6 353.6 321.5 350.7 318.9 348.7 316.7 346.2 314.9 342.7 314.6 338.7 315.9 334.7 320.2 324.8 321.2 320.8 321.7 314.8 321.1 308.8 313.5 274.9 313.9 272.9 314.7 272.4 316.7 272.2 318.7 272.7 322.7 274.6 350.6 294.7 356.6 297.7 362.6 299.7 370.5 301.5 376.5 302 406.5 299.3 412.4 297.8 416.4 296.1 424.4 291.6 431 286.9 434.7 282.9 438.6 274.9 440.4 272.4 442.4 270.6 450.3 265.9 453.8 263 458.8 257 464 249M479.8 249 481.7 257 482.1 261 481.6 266.9 479.4 278.9 480.4 292.9 478.7 296.9 474.3 300.4 468.7 302.8 446.4 310.3 434.4 316 419.8 324.8 392.5 346.1 388.5 348.4 382.5 350.7 376.5 352 368.5 352.7 358.6 352.6 350.6 351.7 338.6 349.8 332.6 348.3 328.6 346.6 326 344.7 324.4 342.7 323.5 340.7 322.8 336.7 324.5 320.8 324.5 312.8 323.6 306.8 321.7 298.8 320.9 292.9 321 288.9 321.5 286.9 322.7 284.8 324.7 284.5 326.6 285 340.6 292.4 352.6 299.5 358.6 301.6 366.6 303.3 372.5 304.2 378.5 304.5 390.5 302.7 404.5 302 410.4 301.2 414.4 300 418.4 298.1 432.4 288.9 436.4 284.5 442.4 274.5 444.4 272.6 452.3 267.2 454.9 265 468.6 249M471.8 253 474.3 252 476.3 253.1 478 257 478.5 261 478.3 265.5 476.1 278.9 477 288.9 476.8 292.9 476.1 294.9 474.7 296.9 472.3 298.9 468.3 300.9 440.4 309.9 422.4 318 414.4 323.2 400.9 334.7 392.5 341.3 386.5 344.6 380.5 346.6 372.5 347.8 364.6 348 356.6 347.5 348.6 346.3 342 344.7 336.6 342.7 333.6 340.7 330.6 337.1 328.9 330.8 328 312.8 326.8 300.8 326.9 298.8 327.6 296.9 328.6 295.9 332.6 295.2 336.6 295.6 340.6 296.9 348.6 301.3 354.6 303.6 362.6 305.2 374.5 307 380.5 306.9 392.5 304.8 408.4 304.8 414.4 303.8 420.4 300.7 434.4 290.4 437.6 286.9 444.4 276.5 454.3 268.9 466.3 257 471.8 253M466.5 263 470.3 261.5 472.3 262.6 473 265 472.4 278.9 473.5 290.9 472.1 294.9 470.4 296.9 466.3 299.1 448.4 304.7 428.4 309.3 424.4 309.3 422.9 308.8 422.8 306.8 425.4 302.8 436.4 292.5 446.3 278.9 457 270.9 466.5 263M335.8 302.8 338.6 302.1 340.6 302.4 352.6 306.5 376.5 309.8 382.5 309.5 392.5 307.7 400.5 308.1 410.9 310.8 413.3 312.8 412.7 314.8 411.4 316.8 400.8 328.8 394.5 334.7 388.5 339 382.5 341.6 376.5 342.9 368.5 343.5 358.6 343 350.6 341.5 342.7 338.7 338.6 335.9 336.1 332.7 334.4 328.8 333.4 324.8 332.5 314.8 333.1 306.8 333.9 304.8 335.8 302.8M460.2 274.9 462.3 274.2 464.3 274.3 466.5 276.9 468.3 282.7 469.3 288.9 468.6 292.9 467.1 294.9 462.3 297.6 450.3 301.4 444.4 302 440.4 301.5 438.7 300.8 437.9 298.8 438.4 296.9 442.9 288.9 446.4 284 450.3 280.5 460.2 274.9M342 310.8 346.6 310.1 362.6 311 378.5 313.2 392.5 312.1 395.8 312.8 398.3 314.8 398.9 316.8 398.7 318.8 396.4 324.8 393.6 328.8 389.6 332.7 386.5 334.9 380.5 337.3 374.5 338.5 368.5 338.9 360.6 338.3 354.6 337.1 348.6 334.9 344.6 332.4 341.5 328.8 339.7 324.8 338.7 318.8 339.1 314.8 339.9 312.8 342 310.8M453.9 284.9 458.3 283.9 460.3 284.4 462.5 286.9 462.9 288.9 462.6 290.9 461.1 292.9 458 294.9 452.3 296.9 448 296.9 446.1 294.9 446.3 292.9 447.2 290.9 450.3 287 453.9 284.9M352 316.8 356.6 315.6 362.6 314.9 366.6 315 370.5 315.7 384.5 319.6 386.5 321.3 387.1 322.8 386.8 324.8 385.9 326.8 384.2 328.8 381.2 330.8 376.5 332.4 368.5 333.4 360.6 332.5 355.4 330.8 352.6 329.1 350.1 326.8 348.8 324.8 348.2 322.8 348.6 319.8 349.1 318.8 352 316.8"/>
</g>
<clipPath id="coib"><path d="M183 345 200 352 220 360 255 371 290 382 313 390 356 402 390 409 412 414.5 452 414.5 467 413 507 407 547 399 592 389 L592 414.5 L183 414.5 Z"/></clipPath><path d="M183 -713.6L592 -304.6M183 -659L592 -1068M183 -686.8L592 -277.8M183 -632.2L592 -1041.2M183 -660L592 -251M183 -605.4L592 -1014.4M183 -633.2L592 -224.2M183 -578.6L592 -987.6M183 -606.4L592 -197.4M183 -551.8L592 -960.8M183 -579.6L592 -170.6M183 -525L592 -934M183 -552.8L592 -143.8M183 -498.2L592 -907.2M183 -526L592 -117M183 -471.4L592 -880.4M183 -499.2L592 -90.2M183 -444.6L592 -853.6M183 -472.4L592 -63.4M183 -417.8L592 -826.8M183 -445.6L592 -36.6M183 -391L592 -800M183 -418.8L592 -9.8M183 -364.2L592 -773.2M183 -392L592 17M183 -337.4L592 -746.4M183 -365.2L592 43.8M183 -310.6L592 -719.6M183 -338.4L592 70.6M183 -283.8L592 -692.8M183 -311.6L592 97.4M183 -257L592 -666M183 -284.8L592 124.2M183 -230.2L592 -639.2M183 -258L592 151M183 -203.4L592 -612.4M183 -231.2L592 177.8M183 -176.6L592 -585.6M183 -204.4L592 204.6M183 -149.8L592 -558.8M183 -177.6L592 231.4M183 -123L592 -532M183 -150.8L592 258.2M183 -96.2L592 -505.2M183 -124L592 285M183 -69.4L592 -478.4M183 -97.2L592 311.8M183 -42.6L592 -451.6M183 -70.4L592 338.6M183 -15.8L592 -424.8M183 -43.6L592 365.4M183 11L592 -398M183 -16.8L592 392.2M183 37.8L592 -371.2M183 10L592 419M183 64.6L592 -344.4M183 36.8L592 445.8M183 91.4L592 -317.6M183 63.6L592 472.6M183 118.2L592 -290.8M183 90.4L592 499.4M183 145L592 -264M183 117.2L592 526.2M183 171.8L592 -237.2M183 144L592 553M183 198.6L592 -210.4M183 170.8L592 579.8M183 225.4L592 -183.6M183 197.6L592 606.6M183 252.2L592 -156.8M183 224.4L592 633.4M183 279L592 -130M183 251.2L592 660.2M183 305.8L592 -103.2M183 278L592 687M183 332.6L592 -76.4M183 304.8L592 713.8M183 359.4L592 -49.6M183 331.6L592 740.6M183 386.2L592 -22.8M183 358.4L592 767.4M183 413L592 4M183 385.2L592 794.2M183 439.8L592 30.8M183 412L592 821M183 466.6L592 57.6M183 438.8L592 847.8M183 493.4L592 84.4M183 465.6L592 874.6M183 520.2L592 111.2M183 492.4L592 901.4M183 547L592 138M183 519.2L592 928.2M183 573.8L592 164.8M183 546L592 955M183 600.6L592 191.6M183 572.8L592 981.8M183 627.4L592 218.4M183 599.6L592 1008.6M183 654.2L592 245.2M183 626.4L592 1035.4M183 681L592 272M183 653.2L592 1062.2M183 707.8L592 298.8M183 680L592 1089M183 734.6L592 325.6M183 706.8L592 1115.8M183 761.4L592 352.4M183 733.6L592 1142.6M183 788.2L592 379.2M183 760.4L592 1169.4M183 815L592 406M183 787.2L592 1196.2M183 841.8L592 432.8M183 814L592 1223M183 868.6L592 459.6M183 840.8L592 1249.8M183 895.4L592 486.4M183 867.6L592 1276.6M183 922.2L592 513.2M183 894.4L592 1303.4M183 949L592 540M183 921.2L592 1330.2M183 975.8L592 566.8M183 948L592 1357M183 1002.6L592 593.6M183 974.8L592 1383.8M183 1029.4L592 620.4M183 1001.6L592 1410.6M183 1056.2L592 647.2M183 1028.4L592 1437.4M183 1083L592 674M183 1055.2L592 1464.2M183 1109.8L592 700.8M183 1082L592 1491M183 1136.6L592 727.6M183 1108.8L592 1517.8M183 1163.4L592 754.4M183 1135.6L592 1544.6M183 1190.2L592 781.2M183 1162.4L592 1571.4M183 1217L592 808M183 1189.2L592 1598.2M183 1243.8L592 834.8M183 1216L592 1625M183 1270.6L592 861.6M183 1242.8L592 1651.8M183 1297.4L592 888.4M183 1269.6L592 1678.6M183 1324.2L592 915.2M183 1296.4L592 1705.4M183 1351L592 942M183 1323.2L592 1732.2M183 1377.8L592 968.8M183 1350L592 1759M183 1404.6L592 995.6M183 1376.8L592 1785.8M183 1431.4L592 1022.4M183 1403.6L592 1812.6M183 1458.2L592 1049.2M183 1430.4L592 1839.4M183 1485L592 1076" stroke="#111" stroke-width="0.9" fill="none" clip-path="url(#coib)"/><path d="M183 345 200 352 220 360 255 371 290 382 313 390 356 402 390 409 412 416.5 452 416.5 467 413 507 407 547 399 592 389" stroke="#111" stroke-width="0.9" fill="none" clip-path="url(#pcb)"/>
<rect x="183" y="249" width="409" height="165.5" fill="none" stroke="#111" stroke-width="1"/>
<path d="M358.3 414.5v-9.5M358.3 249v9.5" stroke="#333" stroke-width="1"/><path d="M534 414.5v-9.5M534 249v9.5" stroke="#333" stroke-width="1"/><path d="M242 414.5v-4.7M242 249v4.7" stroke="#333" stroke-width="1"/><path d="M300.5 414.5v-4.7M300.5 249v4.7" stroke="#333" stroke-width="1"/><path d="M417 414.5v-4.7M417 249v4.7" stroke="#333" stroke-width="1"/><path d="M475.5 414.5v-4.7M475.5 249v4.7" stroke="#333" stroke-width="1"/>
<line x1="315.5" y1="249" x2="315.5" y2="414.5" stroke="#111" stroke-width="1.2" stroke-dasharray="7 8.4" stroke-dashoffset="10.4"/><line x1="456.5" y1="249" x2="456.5" y2="414.5" stroke="#111" stroke-width="1.2" stroke-dasharray="7 8.4" stroke-dashoffset="10.4"/>
<text x="179.2" y="256.4" font-size="10.3" text-anchor="end" textLength="5.8" lengthAdjust="spacingAndGlyphs" fill="#333" font-family='"Liberation Sans", sans-serif'>4</text><path d="M183 285.5h8M592 285.5h-8" stroke="#333" stroke-width="1"/><text x="179.2" y="289.1" font-size="10.3" text-anchor="end" textLength="5.8" lengthAdjust="spacingAndGlyphs" fill="#333" font-family='"Liberation Sans", sans-serif'>8</text><path d="M183 322.6h8M592 322.6h-8" stroke="#333" stroke-width="1"/><text x="179.2" y="327" font-size="10.3" text-anchor="end" textLength="12" lengthAdjust="spacingAndGlyphs" fill="#333" font-family='"Liberation Sans", sans-serif'>16</text><path d="M183 359.7h8M592 359.7h-8" stroke="#333" stroke-width="1"/><text x="179.2" y="364.1" font-size="10.3" text-anchor="end" textLength="12" lengthAdjust="spacingAndGlyphs" fill="#333" font-family='"Liberation Sans", sans-serif'>32</text><path d="M183 396.8h8M592 396.8h-8" stroke="#333" stroke-width="1"/><text x="179.2" y="400.4" font-size="10.3" text-anchor="end" textLength="12" lengthAdjust="spacingAndGlyphs" fill="#333" font-family='"Liberation Sans", sans-serif'>64</text><text transform="translate(157.3 331.8) rotate(-90)" x="0" y="0" font-size="10" text-anchor="middle" textLength="48" lengthAdjust="spacingAndGlyphs" fill="#222" font-family='"Liberation Sans", sans-serif'>Scale (h)</text>
<text x="358.3" y="430.5" font-size="10.5" text-anchor="middle" textLength="47.3" lengthAdjust="spacingAndGlyphs" fill="#444" font-family='"Liberation Sans", sans-serif'>08 12:00</text><text x="533.5" y="430.5" font-size="10.5" text-anchor="middle" textLength="48.7" lengthAdjust="spacingAndGlyphs" fill="#444" font-family='"Liberation Sans", sans-serif'>09 12:00</text><text x="387" y="444.2" font-size="10.5" text-anchor="middle" textLength="192" lengthAdjust="spacingAndGlyphs" fill="#444" font-family='"Liberation Sans", sans-serif'>Time (dd hh:mm on February 1995)</text>
<text x="320.5" y="242.6" font-size="16.5" textLength="18" lengthAdjust="spacingAndGlyphs" fill="#333" font-family='"Liberation Serif", serif'>(b)</text>
<text x="343.3" y="242.4" font-size="12.5" textLength="108.4" lengthAdjust="spacingAndGlyphs" fill="#444" font-family='"Liberation Sans", sans-serif'>Magnetic helicity</text>
<rect x="89" y="411.7" width="32" height="3.4" fill="#030003" shape-rendering="crispEdges"/><rect x="89" y="409" width="32" height="3.4" fill="#0d000d" shape-rendering="crispEdges"/><rect x="89" y="406.2" width="32" height="3.4" fill="#1b001e" shape-rendering="crispEdges"/><rect x="89" y="403.5" width="32" height="3.4" fill="#290033" shape-rendering="crispEdges"/><rect x="89" y="400.7" width="32" height="3.4" fill="#3a0048" shape-rendering="crispEdges"/><rect x="89" y="397.9" width="32" height="3.4" fill="#47005d" shape-rendering="crispEdges"/><rect x="89" y="395.2" width="32" height="3.4" fill="#510072" shape-rendering="crispEdges"/><rect x="89" y="392.4" width="32" height="3.4" fill="#58008e" shape-rendering="crispEdges"/><rect x="89" y="389.7" width="32" height="3.4" fill="#5a00a9" shape-rendering="crispEdges"/><rect x="89" y="386.9" width="32" height="3.4" fill="#5900c5" shape-rendering="crispEdges"/><rect x="89" y="384.2" width="32" height="3.4" fill="#5600e1" shape-rendering="crispEdges"/><rect x="89" y="381.4" width="32" height="3.4" fill="#5300f1" shape-rendering="crispEdges"/><rect x="89" y="378.6" width="32" height="3.4" fill="#5000ff" shape-rendering="crispEdges"/><rect x="89" y="375.9" width="32" height="3.4" fill="#4f00ff" shape-rendering="crispEdges"/><rect x="89" y="373.1" width="32" height="3.4" fill="#4c0fff" shape-rendering="crispEdges"/><rect x="89" y="370.4" width="32" height="3.4" fill="#4f32ff" shape-rendering="crispEdges"/><rect x="89" y="367.6" width="32" height="3.4" fill="#5049ff" shape-rendering="crispEdges"/><rect x="89" y="364.9" width="32" height="3.4" fill="#4e5dff" shape-rendering="crispEdges"/><rect x="89" y="362.1" width="32" height="3.4" fill="#4a73ff" shape-rendering="crispEdges"/><rect x="89" y="359.3" width="32" height="3.4" fill="#478fff" shape-rendering="crispEdges"/><rect x="89" y="356.6" width="32" height="3.4" fill="#41a5ff" shape-rendering="crispEdges"/><rect x="89" y="353.8" width="32" height="3.4" fill="#3ab8ff" shape-rendering="crispEdges"/><rect x="89" y="351.1" width="32" height="3.4" fill="#33c6ff" shape-rendering="crispEdges"/><rect x="89" y="348.3" width="32" height="3.4" fill="#2cdfff" shape-rendering="crispEdges"/><rect x="89" y="345.5" width="32" height="3.4" fill="#25f4f8" shape-rendering="crispEdges"/><rect x="89" y="342.8" width="32" height="3.4" fill="#1efee7" shape-rendering="crispEdges"/><rect x="89" y="340" width="32" height="3.4" fill="#0bffc6" shape-rendering="crispEdges"/><rect x="89" y="337.3" width="32" height="3.4" fill="#00ffad" shape-rendering="crispEdges"/><rect x="89" y="334.5" width="32" height="3.4" fill="#00ff95" shape-rendering="crispEdges"/><rect x="89" y="331.8" width="32" height="3.4" fill="#00ff79" shape-rendering="crispEdges"/><rect x="89" y="329" width="32" height="3.4" fill="#00ff5e" shape-rendering="crispEdges"/><rect x="89" y="326.2" width="32" height="3.4" fill="#00ff3c" shape-rendering="crispEdges"/><rect x="89" y="323.5" width="32" height="3.4" fill="#00ff1d" shape-rendering="crispEdges"/><rect x="89" y="320.7" width="32" height="3.4" fill="#00ff01" shape-rendering="crispEdges"/><rect x="89" y="318" width="32" height="3.4" fill="#00ff00" shape-rendering="crispEdges"/><rect x="89" y="315.2" width="32" height="3.4" fill="#00ff00" shape-rendering="crispEdges"/><rect x="89" y="312.4" width="32" height="3.4" fill="#00ff00" shape-rendering="crispEdges"/><rect x="89" y="309.7" width="32" height="3.4" fill="#06ff00" shape-rendering="crispEdges"/><rect x="89" y="306.9" width="32" height="3.4" fill="#25fe00" shape-rendering="crispEdges"/><rect x="89" y="304.2" width="32" height="3.4" fill="#50fd00" shape-rendering="crispEdges"/><rect x="89" y="301.4" width="32" height="3.4" fill="#63ff00" shape-rendering="crispEdges"/><rect x="89" y="298.6" width="32" height="3.4" fill="#78ff00" shape-rendering="crispEdges"/><rect x="89" y="295.9" width="32" height="3.4" fill="#9cff00" shape-rendering="crispEdges"/><rect x="89" y="293.1" width="32" height="3.4" fill="#b9ff00" shape-rendering="crispEdges"/><rect x="89" y="290.4" width="32" height="3.4" fill="#d6fc00" shape-rendering="crispEdges"/><rect x="89" y="287.6" width="32" height="3.4" fill="#f5f500" shape-rendering="crispEdges"/><rect x="89" y="284.9" width="32" height="3.4" fill="#f0d500" shape-rendering="crispEdges"/><rect x="89" y="282.1" width="32" height="3.4" fill="#f0b500" shape-rendering="crispEdges"/><rect x="89" y="279.3" width="32" height="3.4" fill="#f49c00" shape-rendering="crispEdges"/><rect x="89" y="276.6" width="32" height="3.4" fill="#f28200" shape-rendering="crispEdges"/><rect x="89" y="273.8" width="32" height="3.4" fill="#f16900" shape-rendering="crispEdges"/><rect x="89" y="271.1" width="32" height="3.4" fill="#f65600" shape-rendering="crispEdges"/><rect x="89" y="268.3" width="32" height="3.4" fill="#f94200" shape-rendering="crispEdges"/><rect x="89" y="265.6" width="32" height="3.4" fill="#f01d00" shape-rendering="crispEdges"/><rect x="89" y="262.8" width="32" height="3.4" fill="#f50200" shape-rendering="crispEdges"/><rect x="89" y="260" width="32" height="3.4" fill="#f50000" shape-rendering="crispEdges"/><rect x="89" y="257.3" width="32" height="3.4" fill="#f50000" shape-rendering="crispEdges"/><rect x="89" y="254.5" width="32" height="3.4" fill="#f50000" shape-rendering="crispEdges"/><rect x="89" y="251.8" width="32" height="3.4" fill="#f50000" shape-rendering="crispEdges"/><rect x="89" y="249" width="32" height="3.4" fill="#f50000" shape-rendering="crispEdges"/><rect x="89" y="249" width="32" height="165.5" fill="none" stroke="#111" stroke-width="0.8"/><text x="75.3" y="255.8" font-size="9.6" text-anchor="end" textLength="42.8" lengthAdjust="spacingAndGlyphs" fill="#333" font-family='"Liberation Sans", sans-serif'>3.02×10</text><text x="75.9" y="250.9" font-size="6.6" textLength="9.4" lengthAdjust="spacingAndGlyphs" fill="#333" font-family='"Liberation Sans", sans-serif'>−6</text><text x="75.3" y="268.9" font-size="9.6" text-anchor="end" textLength="42.8" lengthAdjust="spacingAndGlyphs" fill="#333" font-family='"Liberation Sans", sans-serif'>2.64×10</text><text x="75.9" y="263.9" font-size="6.6" textLength="9.4" lengthAdjust="spacingAndGlyphs" fill="#333" font-family='"Liberation Sans", sans-serif'>−6</text><text x="75.3" y="285.4" font-size="9.6" text-anchor="end" textLength="42.8" lengthAdjust="spacingAndGlyphs" fill="#333" font-family='"Liberation Sans", sans-serif'>2.26×10</text><text x="75.9" y="280.5" font-size="6.6" textLength="9.4" lengthAdjust="spacingAndGlyphs" fill="#333" font-family='"Liberation Sans", sans-serif'>−6</text><text x="75.3" y="301.9" font-size="9.6" text-anchor="end" textLength="42.8" lengthAdjust="spacingAndGlyphs" fill="#333" font-family='"Liberation Sans", sans-serif'>1.88×10</text><text x="75.9" y="297" font-size="6.6" textLength="9.4" lengthAdjust="spacingAndGlyphs" fill="#333" font-family='"Liberation Sans", sans-serif'>−6</text><text x="75.3" y="318.5" font-size="9.6" text-anchor="end" textLength="42.8" lengthAdjust="spacingAndGlyphs" fill="#333" font-family='"Liberation Sans", sans-serif'>1.50×10</text><text x="75.9" y="313.6" font-size="6.6" textLength="9.4" lengthAdjust="spacingAndGlyphs" fill="#333" font-family='"Liberation Sans", sans-serif'>−6</text><text x="75.3" y="335.1" font-size="9.6" text-anchor="end" textLength="42.8" lengthAdjust="spacingAndGlyphs" fill="#333" font-family='"Liberation Sans", sans-serif'>1.12×10</text><text x="75.9" y="330.1" font-size="6.6" textLength="9.4" lengthAdjust="spacingAndGlyphs" fill="#333" font-family='"Liberation Sans", sans-serif'>−6</text><text x="75.3" y="351.6" font-size="9.6" text-anchor="end" textLength="42.8" lengthAdjust="spacingAndGlyphs" fill="#333" font-family='"Liberation Sans", sans-serif'>7.44×10</text><text x="75.9" y="346.7" font-size="6.6" textLength="9.4" lengthAdjust="spacingAndGlyphs" fill="#333" font-family='"Liberation Sans", sans-serif'>−7</text><text x="75.3" y="368.2" font-size="9.6" text-anchor="end" textLength="42.8" lengthAdjust="spacingAndGlyphs" fill="#333" font-family='"Liberation Sans", sans-serif'>3.64×10</text><text x="75.9" y="363.2" font-size="6.6" textLength="9.4" lengthAdjust="spacingAndGlyphs" fill="#333" font-family='"Liberation Sans", sans-serif'>−7</text><text x="75.3" y="384.7" font-size="9.6" text-anchor="end" textLength="50" lengthAdjust="spacingAndGlyphs" fill="#333" font-family='"Liberation Sans", sans-serif'>−1.66×10</text><text x="75.9" y="379.8" font-size="6.6" textLength="9.4" lengthAdjust="spacingAndGlyphs" fill="#333" font-family='"Liberation Sans", sans-serif'>−8</text><text x="75.3" y="401.2" font-size="9.6" text-anchor="end" textLength="50" lengthAdjust="spacingAndGlyphs" fill="#333" font-family='"Liberation Sans", sans-serif'>−3.97×10</text><text x="75.9" y="396.3" font-size="6.6" textLength="9.4" lengthAdjust="spacingAndGlyphs" fill="#333" font-family='"Liberation Sans", sans-serif'>−7</text><text x="75.3" y="413.5" font-size="9.6" text-anchor="end" textLength="50" lengthAdjust="spacingAndGlyphs" fill="#333" font-family='"Liberation Sans", sans-serif'>−7.77×10</text><text x="75.9" y="408.6" font-size="6.6" textLength="9.4" lengthAdjust="spacingAndGlyphs" fill="#333" font-family='"Liberation Sans", sans-serif'>−7</text>
<text transform="translate(14.3 332.2) rotate(-90)" x="0" y="0" font-size="9" text-anchor="middle" textLength="164" lengthAdjust="spacingAndGlyphs" fill="#222" font-family='"Liberation Sans", sans-serif'>Magnetic helicity (nT<tspan font-size="6" dy="-3.5">2</tspan><tspan dy="3.5"> km Hz</tspan><tspan font-size="6" dy="-3.5">2.43</tspan><tspan dy="3.5">)</tspan></text>
<g clip-path="url(#pcc)">
<rect x="183" y="470" width="409" height="166" fill="#030003"/>
<path fill="#0d000d" fill-rule="evenodd" d="M183 470 592 470 592 636 183 636 183 470ZM292.7 475.6 292.1 480 292.7 482 294.7 482.6 296.5 480 296.7 477.6 294.7 474.3 292.7 475.6Z"/>
<path fill="#1b001e" fill-rule="evenodd" d="M183 470 291.4 470 289.3 476 289 480 290.7 485 292.7 487 294.7 487.4 296.8 486 298.7 482.4 299.3 480 299.4 476 298 470 592 470 592 636 183 636 183 470Z"/>
<path fill="#290033" fill-rule="evenodd" d="M183 470 288.5 470 287.1 476 287.3 482 288.7 486.1 290.7 489.1 292.7 490.6 294.7 491 296.7 490.2 298.4 488 300.7 482.2 301.4 476 300.7 470 592 470 592 636 183 636 183 470Z"/>
<path fill="#3a0048" fill-rule="evenodd" d="M183 470 286.4 470 285.1 478 285.6 482 286.7 486 288.7 489.9 290.7 492.4 292.7 493.8 294.7 494.3 296.7 493.9 298.7 492 300.7 487.7 303 478 302.6 470 592 470 592 636 183 636 183 470Z"/>
<path fill="#47005d" fill-rule="evenodd" d="M183 470 284.4 470 283.5 478 285.1 486 288.7 493.1 291.9 496 294.7 497.1 296.7 497 298.7 496 301.2 492 304.3 480 304.7 476 304.3 470 592 470 592 636 183 636 183 470Z"/>
<path fill="#510072" fill-rule="evenodd" d="M183 470 282.6 470 282 476 282.2 480 283 484 285.1 490 287.3 494 290.7 497.7 294.7 499.5 296.7 499.7 298.7 499.1 300.7 497.8 302.9 494 305.9 480 305.9 470 592 470 592 636 183 636 183 470Z"/>
<path fill="#58008e" fill-rule="evenodd" d="M183 470 280.9 470 280.7 480 282.1 486 284.8 492.6 286.8 496 290.7 500 294.7 501.8 296.7 502.1 300.7 501.2 302.3 500 304.7 496 307.5 480 307.5 470 592 470 592 636 183 636 183 470Z"/>
<path fill="#5a00a9" fill-rule="evenodd" d="M183 470 279.2 470 279 476 279.8 482 282.2 490 284.8 495.5 286.7 498.4 290.7 502 294.7 503.9 298.7 504.5 302.7 503.5 304.7 502 307 498 309.4 478 309.1 470 592 470 592 636 183 636 183 470Z"/>
<path fill="#5900c5" fill-rule="evenodd" d="M183 470 277.7 470 277.9 478 279 484 281.6 492 284.7 498 288.7 502.5 292.7 505.1 296.7 506.6 300.7 507.1 304.7 506.3 306.7 505.2 308.7 503 310.1 500 310.7 496 310.5 488 311.2 478 310.7 470 592 470 592 636 183 636 183 470Z"/>
<path fill="#5600e1" fill-rule="evenodd" d="M183 470 276.2 470 276.6 478 278.3 486 281.1 494 284.5 500 288.7 504.4 292.7 507 298.7 509.4 304.7 510.2 308.7 509.5 311.2 508 313 506 314.6 502 314.9 496 313.5 486 312.4 470 592 470 592 636 183 636 183 470Z"/>
<path fill="#5300f1" fill-rule="evenodd" d="M183 470 274.9 470 275.5 478 277.8 488 280.7 496 284.5 502 288.7 506.2 294.7 510 302.7 513.2 308.7 514.3 313.1 514 318 512 320 510 321.1 508 322.1 504 321.7 496 316.7 484.1 314.2 470 592 470 592 636 183 636 183 470Z"/>
<path fill="#5000ff" fill-rule="evenodd" d="M183 470 273.7 470 275.1 482 277.2 490 279.4 496 281.5 500 284.5 504 290.7 509.5 300.7 515.2 308.7 518.2 316.7 519.2 340.6 519.6 346.6 519.1 348.6 518 349.3 516 349.2 512 346.6 504 343.9 500 341.8 498 324.7 486.7 320.7 483.2 317.9 478 316.1 470 592 470 592 636 183 636 183 470Z"/>
<path fill="#4f00ff" fill-rule="evenodd" d="M183 470 272.5 470 273 476 274.5 484 278.8 497.3 282.9 504 286.7 508.1 290.7 511.3 300.7 517.7 308.7 521.4 332.6 527.1 348.6 532.6 360.6 534.5 364.6 534.2 366.6 533.5 370.7 530 382.5 510.4 383.5 506 382.5 501.6 378.5 497.4 368.5 492.4 365.9 490 364 486 363.8 478 362.6 474.8 360.6 474.7 352.3 480 344.6 483.6 338.6 484.9 334.6 484.8 326.6 482.5 322.7 479.9 320 476 318.2 470 592 470 592 622.4 562.1 622.9 550.1 622.5 214.9 622.9 183 622.5 183 470Z"/>
<path fill="#4c0fff" fill-rule="evenodd" d="M183 470 271.4 470 273.6 484 275.7 492 277.9 498 282.8 505.7 290.7 513.1 302.7 521.3 310.7 525 336.6 532.6 346.6 536.2 354.6 538.1 362.6 539.2 366.6 539 369.5 538 372.9 536 377.4 532 388.5 520 391.8 514 393.5 508 393.4 502 391.1 496 386.5 490 377.5 482 374.5 476.7 372.4 470 592 470 592 614.5 396.5 614.7 244.8 613.3 183 614.4 183 470ZM320.6 470 349 470 346.2 474 342.6 477 338.6 479 332.6 479.8 328.6 479.2 324.7 477.2 322 474 320.6 470Z"/>
<path fill="#4f32ff" fill-rule="evenodd" d="M183 470 270.4 470 271 476 273.1 486 275.2 494 277.7 500 280.8 505 284.8 509.6 294.7 518.1 304.7 524.9 312.7 528.4 348.6 539.6 358.6 542.1 364.6 542.8 368.5 542.3 374 540 389.4 528 393.3 524 396.1 520 398.5 515 399.9 510 400.4 506 400.1 502 399.1 498 397.1 494 392.5 488 381.7 478 379 474 377.5 470 592 470 592 609.1 388.5 609 264.8 607.9 222.9 608.1 183 608.9 183 470ZM530.2 481.8 528.2 482.7 526.9 484 526.5 486 527.2 488 529.3 490 532.1 491 535.8 490 537.2 488 537.3 486 536.5 484 534.1 482.3 530.2 481.8ZM323.5 470 341.3 470 339.8 472 336.6 474.4 332.6 475.5 330.6 475.6 326.3 474 324.7 472.3 323.5 470Z"/>
<path fill="#5049ff" fill-rule="evenodd" d="M183 470 269.4 470 270.5 478 272.8 488.8 274.8 495.9 276.8 500.6 280.1 506 283.5 510 296.7 521.8 306.7 528.3 316.7 532.3 356.6 544.4 362.6 545.8 366.6 546 370.5 545.3 376.5 542.5 396.5 528.8 399.2 526 401.8 522 404.4 516 406 510 406.3 502 405.4 498 403.6 494 397.2 486 385.8 476 384.2 474 382.1 470 584.9 470 585.1 474 586.3 478 588.2 480 592 481.6 592 603.7 396.5 603.4 254.8 604 183 603.7 183 470ZM197 475.9 195 476 193.8 478 193 482 194.3 488 195 489.2 197 490.1 199 488.3 199.8 484 199 478.5 197 475.9ZM522.2 475.8 518.4 478 517.1 480 516.8 482 517.1 484 519 488 524.2 494 530.2 497.6 536.1 498.7 540.1 498 542.1 497.1 545.9 494 548 490 548.5 486 547.5 482 544.2 478 540.1 475.8 534.1 474.7 528.2 474.7 522.2 475.8Z"/>
<path fill="#4e5dff" fill-rule="evenodd" d="M183 470 190.4 470 188.3 478 189 489.2 191 496.9 193 499.7 195 500.5 197 499.8 199 497.7 201 494.4 203 488 202.8 480 199.9 470 268.5 470 269.6 478 272.6 492 276.3 502 278.8 506 282.8 511 296.7 523.9 304.7 529.5 314.7 534 358.6 547.8 366.6 549.3 370.5 548.9 374.5 547.5 401.8 532 404.5 529.5 406.8 526 411.1 514 412.3 508 412.4 502 411.1 496 409.2 492 404.2 486 389.8 474 386.9 470 503 470 502.1 476 503 480 504.2 482.5 507.4 486 524.2 500.5 530.2 504.7 536.1 507.3 542.1 508.5 554.1 508.8 558.1 510.3 561.7 514 567.5 522 578.5 530 586.9 540 592 542.3 592 597.1 500.2 597.1 448.4 597.8 410.4 597.3 394.5 596.6 360.6 598.8 254.8 600.7 208.9 599.9 183 597.7 183 470ZM448.4 569.9 445.7 572 446.4 572.8 448.4 573.7 450.3 573.5 452.4 572 450.6 570 448.4 569.9Z"/>
<path fill="#4a73ff" fill-rule="evenodd" d="M183 470 184.7 470 183.1 478 185.4 500 187 504.9 189 508.8 191 510.9 193 511.7 195 511.3 197 509.5 199 506.6 203 497.3 204.4 492 205.1 488 205 482 202.8 470 267.7 470 268.8 478 271.2 490 272.8 496.1 275.1 502 278.8 507.9 282.8 512.7 296.7 526.1 304.7 531.7 314.1 536 346.3 546 360.6 551.3 368.5 552.8 374.5 551.6 388.5 543.8 406.5 536.7 409.9 534 411.5 532 414.9 524 417.3 514 418.3 506 417.9 498 416.3 492 414.2 488 410.6 484 396.7 474 393 470 495.9 470 496.1 476 497.1 482 498.2 486.1 500.2 489.7 502.7 492 512.2 496.7 516.2 500 519.5 504 528.2 517.4 532.1 521.1 544.3 530 550.1 536.1 551.9 540 552.3 544 551.7 550 549 564 549.3 566 550.1 567.3 554.1 569.4 560.1 570.2 568.1 570.2 584 568.9 592 569.6 592 585.4 582 586.2 564.1 584.5 530.2 584.2 520.2 582.7 510.2 583.4 502.2 582.9 492.2 583.2 488.5 582 488.7 580 491.2 576 491.1 574 489.6 572 482.8 568 476.3 565.1 470.3 563.3 460.3 562.2 450.3 562 442.4 562.8 428.4 565.1 408.4 571.7 404.5 574 400.5 577.6 384.2 588 374.5 591.6 364.6 593.5 314.7 596 254.8 597.7 212.9 596.5 201 595.3 191 593.2 183 590.9 183 470Z"/>
<path fill="#478fff" fill-rule="evenodd" d="M204.7 470 266.9 470 270.8 492.1 272.4 498 274.8 503.7 278.8 509.7 282.8 514.5 296.7 528.3 304.7 533.9 312.7 537.6 345.5 548 362.6 555.3 370.5 557 374.5 556.7 378.5 555.2 385.9 550 390.5 547.9 404.5 544.5 410.4 542.6 414.4 540.2 416.8 538 420.5 532 422.3 524 424 508 423.5 498 421.4 488 418.9 482 416.4 479.2 406.1 474 401.2 470 492.5 470 494.2 487.5 496.8 498 498.2 500.6 500.2 501.9 508.2 503.2 509.6 504 510.9 506 511.1 508 510.4 510 506.2 514.5 504.3 518 504.1 520 504.8 524 508.2 529.5 515.6 536 519.2 540 520.8 544 520.8 546 519 550 517.1 552 513.9 554 508.2 555.6 496.2 555.8 478.3 554.2 464.3 554.7 450.3 556.7 418.4 559.4 390.5 565.3 386.5 567 384.5 568.8 378.5 580 374.5 583.8 368.5 586.8 360.6 588.7 314.7 592.4 262.8 594.9 242.9 594.8 224.9 594.1 210.9 592.8 201 591.1 183 584.7 183 518.5 187 522.4 189 523 191 522.9 195 521.1 197 519.3 199.2 516 203 505.6 206.5 490 206.6 482 204.7 470Z"/>
<path fill="#41a5ff" fill-rule="evenodd" d="M206.1 470 266.2 470 269.9 492 272.8 502 274.9 506 278.8 511.5 290.7 524.9 298.7 532.1 306.7 537.1 316.7 541.1 332.8 546 346.6 550.9 372.3 564 373.9 566 374.4 570 373.3 574 372.2 576 368.5 579.7 364.6 581.9 354.6 584.4 310.7 589.1 262.8 592.2 238.9 591.9 222.9 590.9 212.9 589.6 201 586.9 183 579.2 183 536.1 189 532.8 197 526 201 520.3 202.6 516 206.9 498 208 490 207.9 482 206.1 470ZM420.9 470 490.1 470 491.3 486 491.3 496 489.7 504 486.1 516 484.3 519 482.3 520.7 473.7 524 470.3 526 466.8 530 460 542 455.9 546 450.3 549 444.4 549.8 434.4 548.8 430.7 548 429 546 431.6 534 429.6 506 424.5 478 422.4 472.5 420.9 470Z"/>
<path fill="#3ab8ff" fill-rule="evenodd" d="M207.4 470 265.5 470 269 492 271.7 502 273.7 506 277.7 512 290.7 527.1 298.7 534.3 306.7 539.2 314.7 542.6 337.6 550 344.6 552.8 350.4 556 361 564 364.6 567.8 365.3 570 364.9 572 363.7 574 360.6 576.5 354.6 578.9 334.6 582.7 308.7 585.8 284.8 588 264.8 589.4 248.8 589.4 224.9 588 210.9 585.6 201 582.4 183 573.8 183 541.7 189 538.4 197 531.2 202 524 205 516 208.1 500 209.3 490 209.1 482 207.4 470ZM427.8 470 488.2 470 489.1 484 488.6 494 487 500 482.9 508 480.3 511.1 476.3 514 467 518 454.3 524.6 448.4 525.7 444.4 524.6 442.4 523.2 439.9 520 436.4 511.1 431.3 492 427.8 470Z"/>
<path fill="#33c6ff" fill-rule="evenodd" d="M208.6 470 264.8 470 268.5 494 270.8 502.5 272.8 506.6 276.3 512 286.7 525 295.6 534 304.7 540.4 314.7 544.7 331 550 340.1 554 346.9 558 351.1 562 353.7 566 354.2 568 353.9 570 352.6 572 348.6 574.5 340.6 577 310.1 582 268.8 586.2 244.8 586.5 224.9 584.8 211.7 582 201 577.7 183 567.8 183 546.8 187 544.6 191 541.5 199 533.5 203 527.3 206.5 518 209 504 210.5 490 210.2 482 208.6 470ZM431.2 470 486.6 470 487.3 482 487 490 485.7 496 483 502 478.3 507.6 474.3 510.3 470.3 512.1 462.3 514.8 456.3 516.2 452.3 516.4 448.4 515.3 444.4 512 442.4 509.4 439.3 504 436.7 498 433.4 486 431.2 470Z"/>
<path fill="#2cdfff" fill-rule="evenodd" d="M209.7 470 264.1 470 267.7 494 269.5 502 273.6 510 284.8 524.9 293 534 302.7 541.5 312.7 546.3 329 552 339.3 558 341.7 560 344.3 564 344.5 566 343.8 568 341.8 570 336.6 572.3 314.7 577.3 286.7 581.4 260.8 583.4 240.9 583.2 220.9 580.8 208.9 577 192.6 568 186 562 183.5 558 183.3 556 185.4 552 197 540.1 201 535.2 204.9 528 207.2 522 209.9 508 211.6 492 211.3 482 209.7 470ZM433.9 470 485.1 470 485.7 480 485.5 488 484.2 494 481.4 500 476.3 505.5 468.3 509.4 462.3 510.9 458.3 511.3 454.3 510.9 450.3 509.4 444.4 504.1 439.5 496 435.8 484 433.9 470Z"/>
<path fill="#25f4f8" fill-rule="evenodd" d="M210.7 470 263.5 470 266.8 494 268.5 502 271.1 508 276.8 516.5 288.7 532.1 298.7 541.2 308.7 547.1 325.5 554 331.2 558 333.7 562 333.6 564 332.3 566 328.6 568.3 318.7 571.8 299.7 576 274.8 579.3 254.8 580.1 234.9 579.4 220.9 577.2 214.9 575.4 208.9 572.8 197 565.7 193.1 562 191.8 560 190.7 556 191 554 192.7 550 201 539.4 204.3 534 207 528 209.4 520 211.6 506 212.7 492 212.4 484 210.7 470ZM436.3 470 483.6 470 484.3 480 483.9 488 482.3 494 480.3 497.9 478.3 500.5 474.3 503.8 466.3 507.1 458.3 507.7 454.3 506.8 450.3 504.7 444.4 498.5 440.8 492 437.9 482 436.3 470Z"/>
<path fill="#1efee7" fill-rule="evenodd" d="M211.6 470 262.9 470 266.9 500 268.8 505.8 271 510 284.8 529.9 292.7 538.9 300.7 545.3 318.9 556 321.5 558 322.6 560 322.4 562 320.8 564 317.9 566 313.4 568 294.7 573.1 274.8 575.9 254.8 576.8 234.9 576 222.9 574.2 211.3 570 201 563.6 197 559 195.9 556 195.9 554 197.1 550 203.5 540 206.9 533.1 209.4 526 211.3 518 213.2 504 213.7 492 213.4 484 211.6 470ZM438.5 470 482.2 470 482.9 480 482.6 486 481.3 492 479.3 496 474.3 501.3 470.3 503.4 466.3 504.6 462.3 505.1 458.3 504.7 452.3 502.3 449.5 500 446.4 496.5 442.7 490 439.8 480 438.5 470Z"/>
<path fill="#0bffc6" fill-rule="evenodd" d="M212.6 470 262.3 470 266 500 268.8 508.3 280.8 527.1 286.7 535.3 294.7 543.6 305.5 552 309.7 556 310.8 558 311 560 310 562 307.6 564 303.9 566 298.7 568 290.7 570.1 274.8 572.6 252.8 573.4 232.9 572.5 222.9 570.7 216.9 568.8 211.1 566 206.9 563.4 203 560 200.6 556 200.4 552 201.8 548 206.9 538.2 209.3 532 212 522 213.9 510 214.7 490 212.6 470ZM440.6 470 480.8 470 481.4 484 480.3 490 478.3 494.5 474.3 498.8 470.3 501.1 466.3 502.3 460.3 502.5 456.3 501.4 453.8 500 448.4 495 444.4 488 441.9 480 440.6 470Z"/>
<path fill="#00ffad" fill-rule="evenodd" d="M213.4 470 261.7 470 265 500 266.8 506.6 269.5 512 283.3 534 288.7 540.8 301.1 554 302.1 556 302.3 558 301.5 560 299.6 562 296.3 564 291.2 566 276.8 569.1 256.8 570.3 238.9 569.8 228.9 568.8 220.9 566.7 212.9 563.1 206.9 558.4 205.2 556 204.5 554 204.7 550 209.2 538 212.2 528 214.2 518 215.4 508 215.6 490 213.4 470ZM442.7 470 479.5 470 480.1 484 478.8 490 476.6 494 472.3 498 466.3 500.2 460.3 500.1 454.3 497.5 450.3 493.8 446.4 487 444.1 480 442.7 470Z"/>
<path fill="#00ff95" fill-rule="evenodd" d="M214.3 470 261.1 470 264.1 500 265.4 506 268.2 512 280.8 533.7 294.1 552 295.1 556 294.5 558 292.9 560 289.9 562 284.8 564 274.8 566.1 256.8 567.3 240.9 566.9 230.9 566 222.9 564 214.9 560.2 210.9 556.8 209.1 554 208.4 550 214.7 524 216.7 506 216.6 490 214.3 470ZM444.8 470 478.1 470 478.8 478 478.7 484 477.9 488 476 492 472.3 495.9 466.3 498.2 460.3 497.9 456.1 496 451.7 492 448.2 486 445.7 478 444.8 470Z"/>
<path fill="#00ff79" fill-rule="evenodd" d="M215.1 470 260.6 470 263.2 500 264.2 506 266.8 512 278.8 534.4 288.5 550 289.3 554 288.8 556 287.3 558 284.2 560 280.8 561.3 272.8 563.1 256.8 564.5 244.8 564.4 234.9 563.7 226.9 562 218.9 558.6 214.9 555.3 212.8 552 212.1 546 216.5 522 218 504 217.3 488 215.1 470ZM446.9 470 476.6 470 477.4 478 477.3 484 476.3 488 474.3 491.7 470.3 495 466.3 496.2 460.3 495.7 456.3 493.5 452.9 490 449.6 484 447.8 478 446.9 470Z"/>
<path fill="#00ff5e" fill-rule="evenodd" d="M215.9 470 260 470 263.1 506 265.3 512 270.7 522 276 534 283.1 548 283.9 552 283.3 554 281.7 556 276.8 558.5 268.8 560.5 256.8 561.6 242.9 561.6 234.9 560.7 226.9 558.7 220.9 555.6 217.2 552 215.5 548 215.2 542 218.5 518 219.1 504 218.4 490 215.9 470ZM449.1 470 475 470 476 478 475.8 484 474.7 488 472.3 491.4 468.3 493.8 464.3 494.4 460.3 493.4 456.3 490.7 452.8 486 451.1 482 449.6 476 449.1 470Z"/>
<path fill="#00ff3c" fill-rule="evenodd" d="M216.7 470 259.5 470 261 486 261.9 506 263.8 512 269.7 524 277.9 546 278.2 550 277.4 552 275.5 554 270.8 556.3 263.5 558 252.8 558.9 242.9 558.8 234.9 557.7 228.9 556 224.8 554 220.4 550 218.5 546 217.8 542 218 536 220 518 220.4 508 219.4 492 216.7 470ZM451.6 470 473.3 470 474.5 482 473.7 486 471.1 490 468.3 491.8 464.3 492.3 460.3 491 456.7 488 454.2 484 452.7 480 451.9 476 451.6 470Z"/>
<path fill="#00ff1d" fill-rule="evenodd" d="M217.5 470 258.9 470 260.3 486 260.4 502 261.1 508 262.2 512 267.6 524 272.8 544 272.5 548 271.5 550 269.3 552 264.8 554 260.8 554.8 250.8 555.8 242.9 555.7 236.9 554.8 230.9 553 225.6 550 222.9 547.2 221.3 544 220.4 540 221.7 508 220.3 492 217.5 470ZM454.3 470 471.3 470 472.6 478 472.7 482 471.6 486 470.3 488 468.3 489.4 464.3 490 460.3 488.2 458.3 486.3 455.2 480 454.4 476 454.3 470Z"/>
<path fill="#00ff01" fill-rule="evenodd" d="M218.3 470 258.4 470 259.7 486 259.7 508 261.2 514 265.1 524 267.4 540 267.2 544 266.4 546 264.9 548 262.8 549.4 258.8 550.8 251.1 552 240.9 551.8 234.9 550.3 230.9 548.7 227.1 546 224.9 543.2 223.6 540 223 536 223.4 516 222.8 506 218.3 470ZM457.9 470 468.6 470 470.6 480 469.9 484 468.3 486.3 466.3 487.2 464.3 487.1 462.3 486.3 460 484 458.3 480.8 457.6 478 457.9 470Z"/>
<path fill="#00ff00" fill-rule="evenodd" d="M219 470 257.9 470 259.1 488 258.5 510 262 524 262.4 530 261.8 536 260.8 540 258.8 542.9 256.8 544.4 252.8 545.9 248.8 546.6 244.8 546.8 238.9 546.1 234.9 544.9 230.9 542.7 228.9 540.8 227.3 538 226.3 534 224.6 510 219 470ZM462.3 476 464.3 474.5 465.7 476 466.6 478 466.3 481.3 464.3 482 462.7 480 462.1 478 462.3 476Z"/>
<path fill="#00ff00" fill-rule="evenodd" d="M219.8 470 257.3 470 258.4 488 256.9 508 257 522 256.7 524 255.1 528 252.8 530.4 238.9 534.9 234.9 534.5 232.3 532 230.9 529.3 228.9 523 227.3 516 221.3 482 219.8 470Z"/>
<path fill="#00ff00" fill-rule="evenodd" d="M220.5 470 256.8 470 257.8 486 257.2 496 254.5 512 252.8 516.6 250.8 518.9 244.8 521.1 236.9 522.4 234.9 521.9 232.9 520.5 230.9 517.8 228.9 513.1 225.4 500 221.7 480 220.5 470Z"/>
<path fill="#06ff00" fill-rule="evenodd" d="M221.2 470 256.3 470 257.1 486 256.3 496 254.8 503.7 252.8 510.2 250.8 513.5 248.8 515.2 242.9 517.2 236.9 517.3 232.9 514.9 230.9 512.1 228.3 506 225.6 496 222.4 480 221.2 470Z"/>
<path fill="#25fe00" fill-rule="evenodd" d="M222 470 255.7 470 256.5 486 255 498 251.7 508 248.8 511.7 246.8 513 240.9 514.4 236.9 513.8 232.9 510.9 230.9 507.9 228.4 502 226.1 494 223.1 480 222 470Z"/>
<path fill="#50fd00" fill-rule="evenodd" d="M222.7 470 255.2 470 255.9 484 254.8 494.6 252.8 501.9 250.9 506 248.8 508.8 246.8 510.3 244.8 511.2 240.9 511.8 236.9 510.9 233.2 508 230.9 504.5 228.2 498 226 490 223.5 478 222.7 470Z"/>
<path fill="#63ff00" fill-rule="evenodd" d="M223.4 470 254.7 470 255.3 484 254.1 494 250.8 503.2 248.8 506.1 246.8 507.8 242.9 509.4 238.9 509.2 234.9 507 232.4 504 229.4 498 226.9 490.2 224.2 478 223.4 470Z"/>
<path fill="#78ff00" fill-rule="evenodd" d="M224.1 470 254.1 470 254.6 484 253.7 492 250.8 500.4 248.8 503.6 246.8 505.5 242.9 507.2 238.9 507 234.9 504.5 232.9 502.1 229.7 496 227.2 488 224.9 478 224.1 470Z"/>
<path fill="#9cff00" fill-rule="evenodd" d="M224.8 470 253.6 470 254 484 252.8 492.1 250.8 497.8 248.8 501.2 244.8 504.6 242.9 505.2 238.9 504.8 234.9 502.2 232.9 499.7 230 494 227.5 486 225.7 478 224.8 470Z"/>
<path fill="#b9ff00" fill-rule="evenodd" d="M225.5 470 253 470 253.4 482 252.5 490 250.8 495.2 248.8 498.9 244.8 502.5 242.9 503.2 238.9 502.8 234.9 500 232.9 497.3 230.3 492 227.7 484 226.1 476 225.5 470Z"/>
<path fill="#d6fc00" fill-rule="evenodd" d="M226.2 470 252.5 470 252.8 482 251.6 490 248.8 496.6 246.8 499.1 244.8 500.6 242.9 501.3 238.9 500.9 235 498 232.9 495.1 230.9 491 228.5 484 226.9 476.8 226.2 470Z"/>
<path fill="#f5f500" fill-rule="evenodd" d="M226.9 470 251.9 470 252.2 480 251.3 488 248.8 494.5 246.8 497.1 244.8 498.7 242.9 499.4 238.9 499 235 496 232.9 492.9 228.7 482 226.9 470Z"/>
<path fill="#f0d500" fill-rule="evenodd" d="M227.7 470 251.3 470 251.5 480 250.8 486.4 248.8 492.2 246.8 495.1 244.8 496.8 242.9 497.6 238.9 497.2 236.9 495.9 233.7 492 231.6 488 229.6 482 228.2 476 227.7 470Z"/>
<path fill="#f0b500" fill-rule="evenodd" d="M228.4 470 250.7 470 250.8 480 250.1 486 247.7 492 244.8 495 242.9 495.9 238.9 495.4 234.9 491.9 232.6 488 230.4 482 229 476 228.4 470Z"/>
<path fill="#f49c00" fill-rule="evenodd" d="M229.2 470 250 470 250.1 480 249.2 486 246.8 491.2 244.8 493.2 242.9 494.1 240.9 494.3 238.9 493.6 234.9 489.9 232.9 486.3 230.9 480.9 229.7 476 229.2 470Z"/>
<path fill="#f28200" fill-rule="evenodd" d="M229.9 470 249.4 470 249.5 478 248.8 483.7 246.8 489.1 244.8 491.4 242.9 492.4 240.9 492.6 238.9 491.9 236.9 490.4 234.9 487.8 232.9 484 230.9 478 229.9 470Z"/>
<path fill="#f16900" fill-rule="evenodd" d="M230.7 470 248.7 470 248.8 476.2 248.2 482 246.8 486.7 244.8 489.5 242.9 490.6 240.9 490.8 238.9 490.1 236.5 488 234.9 485.7 232.4 480 231.4 476 230.7 470Z"/>
<path fill="#f65600" fill-rule="evenodd" d="M231.6 470 248 470 247.9 478 246.8 483.7 244.8 487.4 242.9 488.8 240.9 489 238.9 488.3 236.9 486.5 234.9 483.5 232.7 478 231.6 470Z"/>
<path fill="#f94200" fill-rule="evenodd" d="M232.4 470 247.2 470 246.7 480 244.8 485 242.9 486.8 240.9 487.1 238.9 486.3 236.6 484 233.7 478 232.4 470Z"/>
<path fill="#f01d00" fill-rule="evenodd" d="M233.4 470 246.4 470 246.3 476 245.5 480 244.8 482.1 242.9 484.5 240.9 485 238.9 484.2 236.9 482.1 234.2 476 233.4 470Z"/>
<path fill="#f50200" fill-rule="evenodd" d="M234.4 470 245.5 470 244.9 478 242.9 481.9 240.9 482.7 238.9 481.8 236.9 479.5 234.9 474.3 234.4 470Z"/>
<path fill="#f50000" fill-rule="evenodd" d="M235.6 470 244.4 470 244.2 474 243.1 478 240.9 479.9 238.9 479.1 236.9 476.3 235.6 470Z"/>
<path fill="#f50000" fill-rule="evenodd" d="M237.1 470 243 470 242.5 474 240.9 476.4 238.9 475.6 237.1 470Z"/>
<path fill="none" stroke="#000" stroke-width="0.8" d="M291.4 470 289.3 476 289 480 290.7 485 292.7 487 294.7 487.4 296.8 486 298.7 482.4 299.3 480 299.4 476 298 470M284.4 470 283.5 478 284 482 285.1 486 286.7 489.9 288.7 493.1 291.9 496 294.7 497.1 296.7 497 298.7 496 301.2 492 304.3 480 304.7 476 304.3 470M279.2 470 279 476 279.8 482 282.2 490 284.8 495.5 286.7 498.4 290.7 502 294.7 503.9 298.7 504.5 302.7 503.5 304.7 502 307 498 309.4 478 309.1 470M274.9 470 275.5 478 277.8 488 280.7 496 284.5 502 288.7 506.2 294.7 510 302.7 513.2 308.7 514.3 313.1 514 318 512 320 510 321.1 508 322.1 504 322.2 500 321.7 496 316.7 484.1 314.2 470M271.4 470 272 476 273.6 484 275.7 492 277.9 498 280.1 502 282.8 505.7 290.7 513.1 302.7 521.3 310.7 525 336.6 532.6 346.6 536.2 354.6 538.1 362.6 539.2 366.6 539 369.5 538 372.9 536 377.4 532 388.5 520 391.8 514 393.5 508 393.4 502 391.1 496 386.5 490 377.5 482 374.5 476.7 372.4 470M349 470 346.2 474 342.6 477 338.6 479 332.6 479.8 328.6 479.2 324.7 477.2 322 474 320.6 470M592 614.5 396.5 614.7 244.8 613.3 183 614.4M190.4 470 188.3 478 188.2 482 189 489.2 191 496.9 193 499.7 195 500.5 197 499.8 199 497.7 201 494.4 203 488 202.8 480 199.9 470M268.5 470 269.6 478 272.6 492 274.5 498 276.3 502 278.8 506 282.8 511 296.7 523.9 304.7 529.5 314.7 534 358.6 547.8 366.6 549.3 370.5 548.9 374.5 547.5 401.8 532 404.5 529.5 406.8 526 409.3 520 411.1 514 412.3 508 412.4 502 411.1 496 409.2 492 404.2 486 389.8 474 386.9 470M503 470 502.1 476 503 480 504.2 482.5 507.4 486 514.2 491.4 524.2 500.5 530.2 504.7 536.1 507.3 542.1 508.5 554.1 508.8 558.1 510.3 561.7 514 567.5 522 578.5 530 586.9 540 590 541.7 592 542.3M448.4 569.9 445.7 572 446.4 572.8 448.4 573.7 450.3 573.5 452.4 572 450.6 570 448.4 569.9M592 597.1 500.2 597.1 448.4 597.8 410.4 597.3 394.5 596.6 360.6 598.8 254.8 600.7 208.9 599.9 183 597.7M266.2 470 266.9 476 269.9 492 272.8 502 274.9 506 278.8 511.5 290.7 524.9 298.7 532.1 306.7 537.1 316.7 541.1 332.8 546 346.6 550.9 372.3 564 373.9 566 374.4 570 373.3 574 372.2 576 368.5 579.7 364.6 581.9 360.6 583.2 354.6 584.4 332.6 587.1 310.7 589.1 262.8 592.2 238.9 591.9 222.9 590.9 212.9 589.6 201 586.9 183 579.2M490.1 470 491.3 486 491.3 496 487.5 512 485 518 482.3 520.7 473.7 524 470.3 526 466.8 530 460 542 455.9 546 450.3 549 444.4 549.8 432.4 548.5 430.4 547.8 429 546 429.1 544 431 538 431.6 534 429.6 506 424.5 478 422.4 472.5 420.9 470M183 536.1 189 532.8 197 526 201 520.3 202.6 516 206.9 498 208 490 207.9 482 206.1 470M264.1 470 267.7 494 269.5 502 272.8 508.7 280.8 519.8 290.7 531.8 295.2 536 300.7 540.2 306.7 543.6 312.7 546.3 329 552 339.3 558 341.7 560 344.3 564 344.5 566 343.8 568 341.8 570 337.7 572 330.5 574 314.7 577.3 298.7 579.9 266.8 583.3 246.8 583.4 228.9 582.1 216.9 579.8 206.8 576 192.6 568 186 562 183.5 558 183.3 556 184 554 185.4 552 197 540.1 201 535.2 204.9 528 207.2 522 209.9 508 211.6 492 211.3 482 209.7 470M485.1 470 485.7 480 485.5 488 484.2 494 481.4 500 478 504 472.3 507.8 464.3 510.5 458.3 511.3 454.3 510.9 450.3 509.4 446.4 506.4 441.5 500 438.6 494 436.7 488 435.1 480 433.9 470M262.3 470 266 500 267.7 506 269.7 510 280.8 527.1 286.7 535.3 294.7 543.6 307.9 554 310.8 558 311 560 310 562 307.6 564 303.9 566 292.7 569.6 276.8 572.4 256.8 573.4 236.9 572.8 226.9 571.6 216.9 568.8 208.9 564.7 202.9 560 200.6 556 200.4 552 201.8 548 206.9 538.2 209.3 532 212 522 213.9 510 214.6 500 214.7 490 212.6 470M480.8 470 481.4 484 480.3 490 478.6 494 476.3 497.1 472.3 500.1 468.3 501.8 462.3 502.6 458.3 502 454.3 500.4 450.3 497.3 447.6 494 445.3 490 443 484 441.5 478 440.6 470M260.6 470 262.3 486 263.2 500 264.8 507.7 278.8 534.4 287.5 548 289.2 552 289.3 554 288.8 556 286.7 558.4 284.2 560 278.8 561.9 268.8 563.6 252.8 564.5 236.9 563.9 226.9 562 221.6 560 218 558 214.9 555.3 212.8 552 212.2 550 212.1 546 216.5 522 217.9 506 217.5 490 215.1 470M476.6 470 477.5 482 476.3 488.2 474.3 491.7 471.9 494 468.3 495.8 464.3 496.4 461.5 496 458.3 494.8 454.6 492 452.3 489.2 450.3 485.7 448.3 480 446.9 470M258.9 470 260.3 486 260.4 502 261.1 508 262.2 512 266.8 521.9 268.2 526 272 540 272.8 546 272.5 548 271.5 550 269.3 552 266.8 553.3 258.8 555.1 246.8 555.9 236.9 554.8 228.9 552.1 225.6 550 223.5 548 221.3 544 220.4 540 220.3 536 221.6 518 221.7 508 220.3 492 217.5 470M471.3 470 472.6 478 472.4 484 470.3 488 468.3 489.4 466.3 490 464.3 490 460.3 488.2 456.8 484 454.7 478 454.3 470M257.3 470 258.4 488 256.9 508 256.7 524 254.8 528.5 252.8 530.4 250.8 531.4 240.9 534.3 236.9 535 234.9 534.5 232.9 533 230.9 529.3 228.9 523 223.6 496 219.8 470M255.7 470 256.4 488 255.4 496 253.4 504 250.8 509.6 248.8 511.7 244.8 513.7 240.9 514.4 236.9 513.8 234.9 512.8 232.2 510 229.1 504 226.9 497.3 224.9 488.8 222.8 478 222 470M254.1 470 254.5 486 252.6 496 250.8 500.4 248.4 504 244.8 506.6 240.9 507.3 236.9 506.1 234.9 504.5 232.9 502.1 230.9 498.7 228.9 493.8 226.2 484 224.6 476 224.1 470M252.5 470 252.6 484 250.8 492.6 248.8 496.6 246.8 499.1 244.8 500.6 242.9 501.3 240.9 501.4 236.9 499.8 234.9 497.9 231.3 492 229.1 486 227.5 480 226.2 470M250.7 470 250.7 482 248.8 489.9 246.8 493.2 244.8 495 242.9 495.9 240.9 496 238.9 495.4 236.9 494.1 234.9 491.9 232.9 488.5 229.8 480 228.4 470M248.7 470 248.6 480 247.1 486 244.8 489.5 242.9 490.6 240.9 490.8 238.9 490.1 236.9 488.5 234 484 231.8 478 230.7 470M246.4 470 246.3 476 244.9 482 242.9 484.5 240.9 485 238.9 484.2 236.9 482.1 235.7 480 234.2 476 233.4 470M243 470 242.5 474 240.9 476.4 238.9 475.6 237.1 470"/>
</g>
<clipPath id="coic"><path d="M183 566 200 573 220 581 255 592 290 603 313 611 356 623 390 630 412 636 452 636 467 634 507 628 547 620 592 610 L592 636 L183 636 Z"/></clipPath><path d="M183 -513.6L592 -104.6M183 -459L592 -868M183 -486.8L592 -77.8M183 -432.2L592 -841.2M183 -460L592 -51M183 -405.4L592 -814.4M183 -433.2L592 -24.2M183 -378.6L592 -787.6M183 -406.4L592 2.6M183 -351.8L592 -760.8M183 -379.6L592 29.4M183 -325L592 -734M183 -352.8L592 56.2M183 -298.2L592 -707.2M183 -326L592 83M183 -271.4L592 -680.4M183 -299.2L592 109.8M183 -244.6L592 -653.6M183 -272.4L592 136.6M183 -217.8L592 -626.8M183 -245.6L592 163.4M183 -191L592 -600M183 -218.8L592 190.2M183 -164.2L592 -573.2M183 -192L592 217M183 -137.4L592 -546.4M183 -165.2L592 243.8M183 -110.6L592 -519.6M183 -138.4L592 270.6M183 -83.8L592 -492.8M183 -111.6L592 297.4M183 -57L592 -466M183 -84.8L592 324.2M183 -30.2L592 -439.2M183 -58L592 351M183 -3.4L592 -412.4M183 -31.2L592 377.8M183 23.4L592 -385.6M183 -4.4L592 404.6M183 50.2L592 -358.8M183 22.4L592 431.4M183 77L592 -332M183 49.2L592 458.2M183 103.8L592 -305.2M183 76L592 485M183 130.6L592 -278.4M183 102.8L592 511.8M183 157.4L592 -251.6M183 129.6L592 538.6M183 184.2L592 -224.8M183 156.4L592 565.4M183 211L592 -198M183 183.2L592 592.2M183 237.8L592 -171.2M183 210L592 619M183 264.6L592 -144.4M183 236.8L592 645.8M183 291.4L592 -117.6M183 263.6L592 672.6M183 318.2L592 -90.8M183 290.4L592 699.4M183 345L592 -64M183 317.2L592 726.2M183 371.8L592 -37.2M183 344L592 753M183 398.6L592 -10.4M183 370.8L592 779.8M183 425.4L592 16.4M183 397.6L592 806.6M183 452.2L592 43.2M183 424.4L592 833.4M183 479L592 70M183 451.2L592 860.2M183 505.8L592 96.8M183 478L592 887M183 532.6L592 123.6M183 504.8L592 913.8M183 559.4L592 150.4M183 531.6L592 940.6M183 586.2L592 177.2M183 558.4L592 967.4M183 613L592 204M183 585.2L592 994.2M183 639.8L592 230.8M183 612L592 1021M183 666.6L592 257.6M183 638.8L592 1047.8M183 693.4L592 284.4M183 665.6L592 1074.6M183 720.2L592 311.2M183 692.4L592 1101.4M183 747L592 338M183 719.2L592 1128.2M183 773.8L592 364.8M183 746L592 1155M183 800.6L592 391.6M183 772.8L592 1181.8M183 827.4L592 418.4M183 799.6L592 1208.6M183 854.2L592 445.2M183 826.4L592 1235.4M183 881L592 472M183 853.2L592 1262.2M183 907.8L592 498.8M183 880L592 1289M183 934.6L592 525.6M183 906.8L592 1315.8M183 961.4L592 552.4M183 933.6L592 1342.6M183 988.2L592 579.2M183 960.4L592 1369.4M183 1015L592 606M183 987.2L592 1396.2M183 1041.8L592 632.8M183 1014L592 1423M183 1068.6L592 659.6M183 1040.8L592 1449.8M183 1095.4L592 686.4M183 1067.6L592 1476.6M183 1122.2L592 713.2M183 1094.4L592 1503.4M183 1149L592 740M183 1121.2L592 1530.2M183 1175.8L592 766.8M183 1148L592 1557M183 1202.6L592 793.6M183 1174.8L592 1583.8M183 1229.4L592 820.4M183 1201.6L592 1610.6M183 1256.2L592 847.2M183 1228.4L592 1637.4M183 1283L592 874M183 1255.2L592 1664.2M183 1309.8L592 900.8M183 1282L592 1691M183 1336.6L592 927.6M183 1308.8L592 1717.8M183 1363.4L592 954.4M183 1335.6L592 1744.6M183 1390.2L592 981.2M183 1362.4L592 1771.4M183 1417L592 1008M183 1389.2L592 1798.2M183 1443.8L592 1034.8M183 1416L592 1825M183 1470.6L592 1061.6M183 1442.8L592 1851.8M183 1497.4L592 1088.4M183 1469.6L592 1878.6M183 1524.2L592 1115.2M183 1496.4L592 1905.4M183 1551L592 1142M183 1523.2L592 1932.2M183 1577.8L592 1168.8M183 1550L592 1959M183 1604.6L592 1195.6M183 1576.8L592 1985.8M183 1631.4L592 1222.4M183 1603.6L592 2012.6M183 1658.2L592 1249.2M183 1630.4L592 2039.4M183 1685L592 1276" stroke="#111" stroke-width="0.9" fill="none" clip-path="url(#coic)"/><path d="M183 566 200 573 220 581 255 592 290 603 313 611 356 623 390 630 412 637.5 452 637.5 467 634 507 628 547 620 592 610" stroke="#111" stroke-width="0.9" fill="none" clip-path="url(#pcc)"/>
<rect x="183" y="470" width="409" height="166" fill="none" stroke="#111" stroke-width="1"/>
<path d="M358.3 636v-9.5M358.3 470v9.5" stroke="#333" stroke-width="1"/><path d="M534 636v-9.5M534 470v9.5" stroke="#333" stroke-width="1"/><path d="M242 636v-4.7M242 470v4.7" stroke="#333" stroke-width="1"/><path d="M300.5 636v-4.7M300.5 470v4.7" stroke="#333" stroke-width="1"/><path d="M417 636v-4.7M417 470v4.7" stroke="#333" stroke-width="1"/><path d="M475.5 636v-4.7M475.5 470v4.7" stroke="#333" stroke-width="1"/>
<line x1="315.5" y1="470" x2="315.5" y2="636" stroke="#111" stroke-width="1.2" stroke-dasharray="7 8.4" stroke-dashoffset="7.7"/><line x1="456.5" y1="470" x2="456.5" y2="636" stroke="#111" stroke-width="1.2" stroke-dasharray="7 8.4" stroke-dashoffset="7.7"/>
<text x="179.2" y="477.4" font-size="10.3" text-anchor="end" textLength="5.8" lengthAdjust="spacingAndGlyphs" fill="#333" font-family='"Liberation Sans", sans-serif'>4</text><path d="M183 506.5h8M592 506.5h-8" stroke="#333" stroke-width="1"/><text x="179.2" y="510.1" font-size="10.3" text-anchor="end" textLength="5.8" lengthAdjust="spacingAndGlyphs" fill="#333" font-family='"Liberation Sans", sans-serif'>8</text><path d="M183 543.6h8M592 543.6h-8" stroke="#333" stroke-width="1"/><text x="179.2" y="548" font-size="10.3" text-anchor="end" textLength="12" lengthAdjust="spacingAndGlyphs" fill="#333" font-family='"Liberation Sans", sans-serif'>16</text><path d="M183 580.7h8M592 580.7h-8" stroke="#333" stroke-width="1"/><text x="179.2" y="585.1" font-size="10.3" text-anchor="end" textLength="12" lengthAdjust="spacingAndGlyphs" fill="#333" font-family='"Liberation Sans", sans-serif'>32</text><path d="M183 617.8h8M592 617.8h-8" stroke="#333" stroke-width="1"/><text x="179.2" y="621.4" font-size="10.3" text-anchor="end" textLength="12" lengthAdjust="spacingAndGlyphs" fill="#333" font-family='"Liberation Sans", sans-serif'>64</text><text transform="translate(157.3 553) rotate(-90)" x="0" y="0" font-size="10" text-anchor="middle" textLength="48" lengthAdjust="spacingAndGlyphs" fill="#222" font-family='"Liberation Sans", sans-serif'>Scale (h)</text>
<text x="358.3" y="652" font-size="10.5" text-anchor="middle" textLength="47.3" lengthAdjust="spacingAndGlyphs" fill="#444" font-family='"Liberation Sans", sans-serif'>08 12:00</text><text x="533.5" y="652" font-size="10.5" text-anchor="middle" textLength="48.7" lengthAdjust="spacingAndGlyphs" fill="#444" font-family='"Liberation Sans", sans-serif'>09 12:00</text><text x="387" y="665.7" font-size="10.5" text-anchor="middle" textLength="192" lengthAdjust="spacingAndGlyphs" fill="#444" font-family='"Liberation Sans", sans-serif'>Time (dd hh:mm on February 1995)</text>
<text x="325" y="463.6" font-size="16.5" textLength="18" lengthAdjust="spacingAndGlyphs" fill="#333" font-family='"Liberation Serif", serif'>(c)</text>
<text x="351.7" y="463.4" font-size="12.5" textLength="91" lengthAdjust="spacingAndGlyphs" fill="#444" font-family='"Liberation Sans", sans-serif'>Cross−helicity</text>
<rect x="89" y="633.2" width="32" height="3.4" fill="#030003" shape-rendering="crispEdges"/><rect x="89" y="630.5" width="32" height="3.4" fill="#0d000d" shape-rendering="crispEdges"/><rect x="89" y="627.7" width="32" height="3.4" fill="#1b001e" shape-rendering="crispEdges"/><rect x="89" y="624.9" width="32" height="3.4" fill="#290033" shape-rendering="crispEdges"/><rect x="89" y="622.2" width="32" height="3.4" fill="#3a0048" shape-rendering="crispEdges"/><rect x="89" y="619.4" width="32" height="3.4" fill="#47005d" shape-rendering="crispEdges"/><rect x="89" y="616.6" width="32" height="3.4" fill="#510072" shape-rendering="crispEdges"/><rect x="89" y="613.9" width="32" height="3.4" fill="#58008e" shape-rendering="crispEdges"/><rect x="89" y="611.1" width="32" height="3.4" fill="#5a00a9" shape-rendering="crispEdges"/><rect x="89" y="608.3" width="32" height="3.4" fill="#5900c5" shape-rendering="crispEdges"/><rect x="89" y="605.6" width="32" height="3.4" fill="#5600e1" shape-rendering="crispEdges"/><rect x="89" y="602.8" width="32" height="3.4" fill="#5300f1" shape-rendering="crispEdges"/><rect x="89" y="600" width="32" height="3.4" fill="#5000ff" shape-rendering="crispEdges"/><rect x="89" y="597.3" width="32" height="3.4" fill="#4f00ff" shape-rendering="crispEdges"/><rect x="89" y="594.5" width="32" height="3.4" fill="#4c0fff" shape-rendering="crispEdges"/><rect x="89" y="591.7" width="32" height="3.4" fill="#4f32ff" shape-rendering="crispEdges"/><rect x="89" y="589" width="32" height="3.4" fill="#5049ff" shape-rendering="crispEdges"/><rect x="89" y="586.2" width="32" height="3.4" fill="#4e5dff" shape-rendering="crispEdges"/><rect x="89" y="583.4" width="32" height="3.4" fill="#4a73ff" shape-rendering="crispEdges"/><rect x="89" y="580.7" width="32" height="3.4" fill="#478fff" shape-rendering="crispEdges"/><rect x="89" y="577.9" width="32" height="3.4" fill="#41a5ff" shape-rendering="crispEdges"/><rect x="89" y="575.1" width="32" height="3.4" fill="#3ab8ff" shape-rendering="crispEdges"/><rect x="89" y="572.4" width="32" height="3.4" fill="#33c6ff" shape-rendering="crispEdges"/><rect x="89" y="569.6" width="32" height="3.4" fill="#2cdfff" shape-rendering="crispEdges"/><rect x="89" y="566.8" width="32" height="3.4" fill="#25f4f8" shape-rendering="crispEdges"/><rect x="89" y="564.1" width="32" height="3.4" fill="#1efee7" shape-rendering="crispEdges"/><rect x="89" y="561.3" width="32" height="3.4" fill="#0bffc6" shape-rendering="crispEdges"/><rect x="89" y="558.5" width="32" height="3.4" fill="#00ffad" shape-rendering="crispEdges"/><rect x="89" y="555.8" width="32" height="3.4" fill="#00ff95" shape-rendering="crispEdges"/><rect x="89" y="553" width="32" height="3.4" fill="#00ff79" shape-rendering="crispEdges"/><rect x="89" y="550.2" width="32" height="3.4" fill="#00ff5e" shape-rendering="crispEdges"/><rect x="89" y="547.5" width="32" height="3.4" fill="#00ff3c" shape-rendering="crispEdges"/><rect x="89" y="544.7" width="32" height="3.4" fill="#00ff1d" shape-rendering="crispEdges"/><rect x="89" y="541.9" width="32" height="3.4" fill="#00ff01" shape-rendering="crispEdges"/><rect x="89" y="539.2" width="32" height="3.4" fill="#00ff00" shape-rendering="crispEdges"/><rect x="89" y="536.4" width="32" height="3.4" fill="#00ff00" shape-rendering="crispEdges"/><rect x="89" y="533.6" width="32" height="3.4" fill="#00ff00" shape-rendering="crispEdges"/><rect x="89" y="530.9" width="32" height="3.4" fill="#06ff00" shape-rendering="crispEdges"/><rect x="89" y="528.1" width="32" height="3.4" fill="#25fe00" shape-rendering="crispEdges"/><rect x="89" y="525.3" width="32" height="3.4" fill="#50fd00" shape-rendering="crispEdges"/><rect x="89" y="522.6" width="32" height="3.4" fill="#63ff00" shape-rendering="crispEdges"/><rect x="89" y="519.8" width="32" height="3.4" fill="#78ff00" shape-rendering="crispEdges"/><rect x="89" y="517" width="32" height="3.4" fill="#9cff00" shape-rendering="crispEdges"/><rect x="89" y="514.3" width="32" height="3.4" fill="#b9ff00" shape-rendering="crispEdges"/><rect x="89" y="511.5" width="32" height="3.4" fill="#d6fc00" shape-rendering="crispEdges"/><rect x="89" y="508.7" width="32" height="3.4" fill="#f5f500" shape-rendering="crispEdges"/><rect x="89" y="506" width="32" height="3.4" fill="#f0d500" shape-rendering="crispEdges"/><rect x="89" y="503.2" width="32" height="3.4" fill="#f0b500" shape-rendering="crispEdges"/><rect x="89" y="500.4" width="32" height="3.4" fill="#f49c00" shape-rendering="crispEdges"/><rect x="89" y="497.7" width="32" height="3.4" fill="#f28200" shape-rendering="crispEdges"/><rect x="89" y="494.9" width="32" height="3.4" fill="#f16900" shape-rendering="crispEdges"/><rect x="89" y="492.1" width="32" height="3.4" fill="#f65600" shape-rendering="crispEdges"/><rect x="89" y="489.4" width="32" height="3.4" fill="#f94200" shape-rendering="crispEdges"/><rect x="89" y="486.6" width="32" height="3.4" fill="#f01d00" shape-rendering="crispEdges"/><rect x="89" y="483.8" width="32" height="3.4" fill="#f50200" shape-rendering="crispEdges"/><rect x="89" y="481.1" width="32" height="3.4" fill="#f50000" shape-rendering="crispEdges"/><rect x="89" y="478.3" width="32" height="3.4" fill="#f50000" shape-rendering="crispEdges"/><rect x="89" y="475.5" width="32" height="3.4" fill="#f50000" shape-rendering="crispEdges"/><rect x="89" y="472.8" width="32" height="3.4" fill="#f50000" shape-rendering="crispEdges"/><rect x="89" y="470" width="32" height="3.4" fill="#f50000" shape-rendering="crispEdges"/><rect x="89" y="470" width="32" height="166" fill="none" stroke="#111" stroke-width="0.8"/><text x="75.3" y="476.8" font-size="9.6" text-anchor="end" textLength="42.8" lengthAdjust="spacingAndGlyphs" fill="#333" font-family='"Liberation Sans", sans-serif'>5.87×10</text><text x="75.9" y="471.9" font-size="6.6" textLength="9.4" lengthAdjust="spacingAndGlyphs" fill="#333" font-family='"Liberation Sans", sans-serif'>−6</text><text x="75.3" y="489.9" font-size="9.6" text-anchor="end" textLength="42.8" lengthAdjust="spacingAndGlyphs" fill="#333" font-family='"Liberation Sans", sans-serif'>5.06×10</text><text x="75.9" y="485" font-size="6.6" textLength="9.4" lengthAdjust="spacingAndGlyphs" fill="#333" font-family='"Liberation Sans", sans-serif'>−6</text><text x="75.3" y="506.5" font-size="9.6" text-anchor="end" textLength="42.8" lengthAdjust="spacingAndGlyphs" fill="#333" font-family='"Liberation Sans", sans-serif'>4.24×10</text><text x="75.9" y="501.6" font-size="6.6" textLength="9.4" lengthAdjust="spacingAndGlyphs" fill="#333" font-family='"Liberation Sans", sans-serif'>−6</text><text x="75.3" y="523.1" font-size="9.6" text-anchor="end" textLength="42.8" lengthAdjust="spacingAndGlyphs" fill="#333" font-family='"Liberation Sans", sans-serif'>3.43×10</text><text x="75.9" y="518.2" font-size="6.6" textLength="9.4" lengthAdjust="spacingAndGlyphs" fill="#333" font-family='"Liberation Sans", sans-serif'>−6</text><text x="75.3" y="539.7" font-size="9.6" text-anchor="end" textLength="42.8" lengthAdjust="spacingAndGlyphs" fill="#333" font-family='"Liberation Sans", sans-serif'>2.61×10</text><text x="75.9" y="534.8" font-size="6.6" textLength="9.4" lengthAdjust="spacingAndGlyphs" fill="#333" font-family='"Liberation Sans", sans-serif'>−6</text><text x="75.3" y="556.3" font-size="9.6" text-anchor="end" textLength="42.8" lengthAdjust="spacingAndGlyphs" fill="#333" font-family='"Liberation Sans", sans-serif'>1.80×10</text><text x="75.9" y="551.4" font-size="6.6" textLength="9.4" lengthAdjust="spacingAndGlyphs" fill="#333" font-family='"Liberation Sans", sans-serif'>−6</text><text x="75.3" y="572.9" font-size="9.6" text-anchor="end" textLength="42.8" lengthAdjust="spacingAndGlyphs" fill="#333" font-family='"Liberation Sans", sans-serif'>9.81×10</text><text x="75.9" y="568" font-size="6.6" textLength="9.4" lengthAdjust="spacingAndGlyphs" fill="#333" font-family='"Liberation Sans", sans-serif'>−7</text><text x="75.3" y="589.5" font-size="9.6" text-anchor="end" textLength="42.8" lengthAdjust="spacingAndGlyphs" fill="#333" font-family='"Liberation Sans", sans-serif'>1.66×10</text><text x="75.9" y="584.6" font-size="6.6" textLength="9.4" lengthAdjust="spacingAndGlyphs" fill="#333" font-family='"Liberation Sans", sans-serif'>−7</text><text x="75.3" y="606.1" font-size="9.6" text-anchor="end" textLength="50" lengthAdjust="spacingAndGlyphs" fill="#333" font-family='"Liberation Sans", sans-serif'>−6.49×10</text><text x="75.9" y="601.2" font-size="6.6" textLength="9.4" lengthAdjust="spacingAndGlyphs" fill="#333" font-family='"Liberation Sans", sans-serif'>−7</text><text x="75.3" y="622.7" font-size="9.6" text-anchor="end" textLength="50" lengthAdjust="spacingAndGlyphs" fill="#333" font-family='"Liberation Sans", sans-serif'>−1.46×10</text><text x="75.9" y="617.8" font-size="6.6" textLength="9.4" lengthAdjust="spacingAndGlyphs" fill="#333" font-family='"Liberation Sans", sans-serif'>−6</text><text x="75.3" y="635" font-size="9.6" text-anchor="end" textLength="50" lengthAdjust="spacingAndGlyphs" fill="#333" font-family='"Liberation Sans", sans-serif'>−2.28×10</text><text x="75.9" y="630.1" font-size="6.6" textLength="9.4" lengthAdjust="spacingAndGlyphs" fill="#333" font-family='"Liberation Sans", sans-serif'>−6</text>
<text transform="translate(14.3 553.5) rotate(-90)" x="0" y="0" font-size="9" text-anchor="middle" textLength="164" lengthAdjust="spacingAndGlyphs" fill="#222" font-family='"Liberation Sans", sans-serif'>Cross−helicity (km<tspan font-size="6" dy="-3.5">2</tspan><tspan dy="3.5"> s</tspan><tspan font-size="6" dy="-3.5">−2</tspan><tspan dy="3.5"> Hz</tspan><tspan font-size="6" dy="-3.5">1.46</tspan><tspan dy="3.5">)</tspan></text>
<g clip-path="url(#pcd)">
<rect x="183" y="691" width="409" height="166" fill="#030003"/>
<path fill="#0d000d" fill-rule="evenodd" d="M183 691 592 691 592 857 183 857 183 691ZM308.7 706.4 307.7 709 307.9 711 308.7 713.2 310.7 714.6 312.4 713 312.4 711 310.7 707.1 308.7 706.4Z"/>
<path fill="#1b001e" fill-rule="evenodd" d="M183 691 592 691 592 857 183 857 183 691ZM306.7 702.5 305.2 707 306.1 713 308.7 717.1 310.7 718 312.7 718 314.4 717 315.2 715 314.5 709 312.7 705.1 310.7 702.6 308.7 701.6 306.7 702.5Z"/>
<path fill="#290033" fill-rule="evenodd" d="M183 691 592 691 592 857 183 857 183 691ZM306.7 698.5 304.7 701.4 303.8 705 303.7 709 304.7 713.6 306.5 717 308.7 719.2 312.7 720.3 314.7 719.9 315.9 719 317.1 717 317.2 713 316.2 709 314.6 705 310.7 699.4 308.7 698.2 306.7 698.5Z"/>
<path fill="#3a0048" fill-rule="evenodd" d="M183 691 592 691 592 857 183 857 183 691ZM306.7 695.2 304.7 697.3 302.7 703 302.5 709 303.3 713 305 717 306.7 719.3 308.7 720.8 310.7 721.6 314.7 721.8 316.9 721 318.5 719 319.1 715 318.3 711 316.1 705 312.7 699 310.7 696.6 308.7 695.1 306.7 695.2Z"/>
<path fill="#47005d" fill-rule="evenodd" d="M183 691 592 691 592 857 183 857 183 691ZM306.7 691.5 304.7 693.8 303.2 697 301.6 703 301.5 709 302.7 714.5 305.1 719 308.7 722.1 312.7 723.3 316.7 723.1 319.6 721 320.5 719 320.6 715 319.7 711 316.7 703.4 312.7 696.4 308.7 691.8 306.7 691.5Z"/>
<path fill="#510072" fill-rule="evenodd" d="M183 691 304.1 691 301.9 697 300.5 703 300.5 709 301.3 713 304 719 306.7 722 310.7 724 314.7 724.7 318.7 724.1 320.5 723 321.7 721 322.2 717 320.9 711 318.7 705.1 311 691 592 691 592 857 183 857 183 691Z"/>
<path fill="#58008e" fill-rule="evenodd" d="M183 691 302.5 691 300.3 699 299.5 705 300 711 301.1 715 303 719 306.7 723.1 310.7 725 316.7 725.9 320.7 725.2 322.7 723.3 323.5 721 323.6 717 320.6 707 312.8 691 592 691 592 857 183 857 183 691Z"/>
<path fill="#5a00a9" fill-rule="evenodd" d="M183 691 301.3 691 299.3 699 298.6 705 299.1 711 301.1 717 303.4 721 306.7 724 312.7 726.5 318.7 727.2 320.7 727 323.8 725 325.1 721 324.9 717 321.7 707 314.1 691 592 691 592 857 183 857 183 691Z"/>
<path fill="#5900c5" fill-rule="evenodd" d="M183 691 300.2 691 298.1 701 297.8 707 298.8 713 301.3 719 304.7 723.4 308.7 725.9 314.7 727.9 320.7 728.6 322.7 728.2 324.7 727 325.9 725 326.5 723 326.5 719 323.6 709 315.4 691 592 691 592 857 183 857 183 691Z"/>
<path fill="#5600e1" fill-rule="evenodd" d="M183 691 299.3 691 297.3 701 297.1 707 298.1 713 300.7 719.4 304.7 724.3 308.7 726.7 316.7 729.3 322.7 730 325.4 729 327.1 727 328 723 327.8 719 325.5 711 316.5 691 592 691 592 857 183 857 183 691Z"/>
<path fill="#5300f1" fill-rule="evenodd" d="M183 691 298.4 691 296.5 701 296.3 707 298 715 300.7 720.7 304.5 725 307.7 727 314.7 729.7 322.7 731.7 326.3 731 328.2 729 329.4 725 329.4 721 328.6 717 326.6 711 317.5 691 592 691 592 857 183 857 183 691Z"/>
<path fill="#5000ff" fill-rule="evenodd" d="M183 691 297.5 691 295.8 701 295.6 707 297.3 715 300.2 721 302.7 724.2 306.7 727.2 318.7 732 324.7 733.5 327.3 733 329.4 731 330.7 727 330.6 721 327.7 711 318.5 691 592 691 592 857 183 857 183 691Z"/>
<path fill="#4f00ff" fill-rule="evenodd" d="M183 691 296.7 691 295.1 701 294.9 707 296.6 715 299.5 721 302.7 725 306.7 727.9 322.7 734.8 326.6 735.6 328.8 735 330.6 733.2 331.6 731 332.3 727 331.9 721 329.6 713 319.5 691 592 691 592 857 183 857 183 691Z"/>
<path fill="#4c0fff" fill-rule="evenodd" d="M183 691 296 691 294.3 701 294.4 709 296.7 717 300.1 723 302.7 725.8 306.7 728.5 324.7 737.1 328.6 737.7 330.6 736.9 333 733 333.7 727 333.1 721 330.7 713 320.4 691 592 691 592 857 183 857 183 691Z"/>
<path fill="#4f32ff" fill-rule="evenodd" d="M183 691 295.2 691 293.6 701 293.5 707 295.3 715 298.7 722 302.7 726.5 306.4 729 316.7 734.1 324.7 738.8 328.6 740 330.6 739.8 332.6 738.5 334.5 735 335.2 729 334.7 723 331.8 713 322.9 695 321.4 691 592 691 592 857 183 857 183 691Z"/>
<path fill="#5049ff" fill-rule="evenodd" d="M183 691 294.5 691 292.8 703 293.1 709 295.4 717 298.7 723 302.4 727 305.3 729 316.6 735 324.7 740.4 328.6 742.1 330.6 742.2 333.6 741 335.2 739 336 737 336.7 731 335.9 723 333 713 323.8 695 322.3 691 592 691 592 857 183 857 183 691Z"/>
<path fill="#4e5dff" fill-rule="evenodd" d="M183 691 293.7 691 292.1 703 292.4 709 294.8 717 298 723 300.7 726.2 304.3 729 315.2 735 326.6 743.2 330.6 744.4 334.6 743.6 336.9 741 338.3 735 337.8 727 336.2 719 334.1 713 324.8 695 323.3 691 592 691 592 857 183 857 183 691Z"/>
<path fill="#4a73ff" fill-rule="evenodd" d="M183 691 293 691 291.4 703 291.8 709 294.2 717 297.4 723 302.7 728.6 314.7 735.5 324.7 743.6 328.6 745.9 332.6 746.7 336.6 745.6 338.8 743 340 737 339.5 729 337.9 721 336.1 715 333.4 709 325.8 695 324.2 691 592 691 592 857 183 857 183 691Z"/>
<path fill="#478fff" fill-rule="evenodd" d="M183 691 292.3 691 290.7 703 291.1 709 293.5 717 296.7 723 302.4 729 315.6 737 326.6 746.6 330.6 748.5 334.6 749.1 338.6 748.1 341.1 745 342 739 341.3 731 339.2 721 337.3 715 333.5 707 326.8 695 325.2 691 592 691 592 857 183 857 183 691Z"/>
<path fill="#41a5ff" fill-rule="evenodd" d="M183 691 291.6 691 290 703 290.4 709 292.9 717 297.5 725 302.7 729.8 314.4 737 326.6 748.2 330.6 750.4 336.6 751.8 340.9 751 343.2 749 344.1 747 344.4 743 343.6 735 340.9 723 338.5 715 335.8 709 327.8 695 326.2 691 592 691 592 857 183 857 183 691Z"/>
<path fill="#3ab8ff" fill-rule="evenodd" d="M183 691 290.9 691 289.3 703 289.8 709 292.3 717 296.8 725 300.7 729 314.7 738.1 326.6 749.9 332.6 753.2 340.6 754.7 344.6 754 346.2 753 347.5 751 347.9 747 347.3 743 344.9 733 339.8 715 335.9 707 328.9 695 327.2 691 592 691 592 857 183 857 183 691Z"/>
<path fill="#33c6ff" fill-rule="evenodd" d="M183 691 290.1 691 288.6 703 289.1 709 291.7 717 296.7 725.7 300.7 729.7 310.7 735.9 314.6 739 322.7 748 328.6 753.1 336.6 756.7 344.6 758 348.6 757.3 351.5 755 352.4 753 352.3 749 341.1 715 338.3 709 330 695 328.3 691 592 691 592 857 183 857 183 691Z"/>
<path fill="#2cdfff" fill-rule="evenodd" d="M183 691 289.4 691 287.9 703 288.4 709 292 719 296.7 726.5 300.7 730.3 313.7 739 322.7 749.6 328.6 754.9 336.6 758.9 342.6 760.8 346.6 761.4 350.6 761 354.6 759 356.3 757 357 755 356.9 751 355.5 747 348.6 732.7 341.6 713 331.2 695 329.5 691 592 691 592 857 183 857 183 691Z"/>
<path fill="#25f4f8" fill-rule="evenodd" d="M183 691 288.6 691 287.3 701 287.7 709 291.4 719 296.4 727 300.7 731 312.7 739 322.7 751.3 328.6 756.7 334.6 760.1 340.6 762.7 348.6 764.5 354.6 763.6 359 761 360.6 759 361.3 757 361.3 753 359.1 747 349.9 731 342 711 332.4 695 330.6 691 592 691 592 857 183 857 183 691Z"/>
<path fill="#1efee7" fill-rule="evenodd" d="M183 691 287.8 691 286.5 701 287.1 709 290.7 719 295.7 727 299.9 731 311.7 739 315.4 743 322.7 753 328.6 758.5 340.6 765 346.6 767 350.6 767.4 356.6 766.6 360.3 765 362.8 763 365.1 759 365.4 757 364.9 753 362.3 747 352.6 731.9 343.5 711 333.8 695 331.9 691 592 691 592 857 183 857 183 691Z"/>
<path fill="#0bffc6" fill-rule="evenodd" d="M183 691 287 691 285.7 701 286.4 709 290.1 719 295 727 299.1 731 310.8 739 314.4 743 322.7 754.8 328.6 760.3 342.6 768.2 348.6 770 352.6 770.3 356.6 769.9 360.6 768.7 363.8 767 366.3 765 368.6 761 369 759 368.6 755 365.2 747 353.3 729 345.1 711 335.1 695 333.2 691 592 691 592 857 183 857 183 691Z"/>
<path fill="#00ffad" fill-rule="evenodd" d="M183 691 286.1 691 284.9 701 285.7 709 289.5 719 294.4 727 298.7 731.4 307.3 737 311.9 741 320.7 754.2 326.6 760.6 334.6 766.1 342.6 770.6 346.6 772.1 352.6 773.1 360.6 772.1 364.6 770.5 368.5 767.9 371.1 765 372 763 372.4 761 372.1 757 370.7 753 367.7 747 355.6 729 347.9 713 336.5 695 334.6 691 592 691 592 857 183 857 183 691Z"/>
<path fill="#00ff95" fill-rule="evenodd" d="M183 691 285.1 691 284.1 701 284.9 709 288.8 719 294.7 728.3 298.7 732.1 306.7 737.3 311 741 314 745 320.7 756.2 326.6 762.4 342.6 773.1 348.6 775.3 354.6 775.9 362.6 774.8 366.6 773.3 370.6 771 372.9 769 375.5 765 376 763 375.8 759 374.3 755 371.1 749 357.9 729 349.8 713 338.6 696 336.1 691 592 691 592 857 183 857 183 691ZM472.3 705.8 471.1 707 470.4 709 472.3 710.2 472.8 707 472.3 705.8Z"/>
<path fill="#00ff79" fill-rule="evenodd" d="M183 691 284.1 691 283.2 701 284.2 709 288.2 719 291.6 725 294.6 729 298.7 732.8 306.7 738.1 310.1 741 313.1 745 320.7 758.2 326.6 764.3 342.6 775.7 348.6 777.9 356.6 778.8 362.6 778.1 366.6 777 374.3 773 376.6 771 379.3 767 379.9 765 379.9 761 377.2 755 360.2 729 352 713 340.6 696.7 337.6 691 592 691 592 857 183 857 183 691ZM472.3 696.2 470.3 697.8 468.3 701.3 466.1 707 465.5 711 466.3 715.5 468.3 717.9 470.3 718.8 472.3 718.7 474.3 717.7 476.3 715.4 477.2 713 477.8 709 477.6 705 476.3 699.6 474.3 696.7 472.3 696.2Z"/>
<path fill="#00ff5e" fill-rule="evenodd" d="M183 691 283 691 282.4 701 283.5 709 287.5 719 293.9 729 298.1 733 306.7 738.8 309.2 741 312.2 745 319.7 759 322.7 762.6 326.6 766.3 338.6 776 342.6 778.5 348.6 780.7 356.6 781.8 366.6 780.7 372.5 778.6 376.5 776.4 380.5 773.1 382.5 770.6 384.2 767 384.5 763 383.9 761 381.7 757 374.5 747.5 363.6 731 354.4 713 342.6 697.2 339.2 691 470.9 691 464.3 705 462.4 713 463 717 464.3 719.7 466.3 721.7 470.3 723.1 472.3 722.9 476.3 721 479.2 717 480.3 713 480.4 707 479.5 701 478.3 696.8 475.1 691 592 691 592 857 183 857 183 691Z"/>
<path fill="#00ff3c" fill-rule="evenodd" d="M183 691 281.6 691 281.4 701 282.7 709 286.8 719 293.1 729 297.2 733 308.2 741 311.3 745 316.7 756.4 320.7 762.5 336.6 777.6 340.6 780.5 346.6 783.2 352.6 784.7 358.6 785.2 364.6 784.9 370.5 783.6 376.5 781.4 380.7 779 385.3 775 388.1 771 389.4 767 389.1 763 387.1 759 378.5 749.8 372.5 741.7 364.4 729 357.1 713 344.6 697.6 340.8 691 468 691 460.7 709 459.6 715 460.3 719 462.7 723 466.3 725.6 470.3 726.3 474.3 725.5 478.3 723.2 480.3 721 482.1 717 482.7 711 482.3 704.5 481.2 699 478.6 691 592 691 592 857 183 857 183 691Z"/>
<path fill="#00ff1d" fill-rule="evenodd" d="M183 691 280.1 691 280.4 701 281.4 707 283.3 713 287.2 721 290.9 727 294.7 731.6 304.9 739 309 743 311.4 747 316.7 759 320.7 764.9 336.6 781.4 340.6 784.3 350.6 787.9 360.6 789.3 368.5 788.6 374.5 787.3 380.5 784.9 386.5 781.3 391.1 777 393.6 773 394.9 769 394.8 765 393.2 761 391.6 759 380.5 749.3 374.5 742 366.3 729 359.7 713 356.8 709 346.6 697.8 342.5 691 466.3 691 463.4 699 457.7 711 456.9 717 457.9 721 460.3 725.2 464.3 728.1 468.3 729 474.3 728.2 478.3 726.3 482 723 484 719 484.7 713 484.3 705.6 483.1 699 480.9 691 592 691 592 857 183 857 183 691Z"/>
<path fill="#00ff01" fill-rule="evenodd" d="M183 691 278.2 691 279.6 703 281.1 709 283.4 715 287.7 723 291.6 729 294.7 732.5 304.7 739.7 308.1 743 310.5 747 314.7 757.8 317.4 763 320.7 767.5 327.7 775 334.6 785 338.6 788.2 342.6 790.1 354.6 793.9 362.6 794.7 370.5 794 378.5 792.1 386.5 788.8 392.5 785.4 396.5 781.9 399.6 777 401.5 771 401.7 767 400.5 763 397.3 759 382.5 748.7 376.5 742.3 368.1 729 361.1 711 348.6 697.8 344.3 691 464.9 691 462 699 455.3 711 453.9 717 455.3 723 458.3 727.9 462.3 730.5 468.3 731.6 472.7 731 478.3 728.9 483.2 725 485.7 721 486.6 717 486.4 709 485.3 701 482.9 691 592 691 592 857 183 857 183 691Z"/>
<path fill="#00ff00" fill-rule="evenodd" d="M183 691 275.9 691 280.2 709 284.7 719 289.4 727 292.7 731.3 296.7 735 305.2 741 308.5 745 315.6 763 318.7 767.9 324.2 775 326.4 779 328.9 789 330.6 792.5 334.6 795.8 348.6 802.5 352.6 804.2 358.6 805.2 366.6 804.3 376.5 801.8 396.5 794.2 402.5 791 406.1 787 407.5 783 409.4 771 409.7 765 408.3 761 406.4 759 403.1 757 386.5 749.4 382.5 746.5 378.5 742.5 373.2 735 369.7 729 367.3 723 364.4 713 362.6 709.4 350.6 697.7 346.2 691 463.7 691 460.3 699.6 451.3 713 450.6 715 450.4 719 453 727 456.1 731 460.3 733.1 466.3 734 472.3 733.3 478.6 731 484.3 727 487.1 723 488.3 719 488.5 713 487 701 484.7 691 592 691 592 857 183 857 183 691Z"/>
<path fill="#00ff00" fill-rule="evenodd" d="M183 691 272.8 691 275.7 697 280.1 711 285.1 721 288.7 727.1 292.7 732.2 296.7 735.8 304.1 741 307.5 745 309.3 749 313.9 763 321.3 777 321.9 779 321.8 783 320.7 786.3 317.2 793 316.4 797 317.3 801 322.7 814.7 324.9 817 329.2 819 340.6 821.3 348.6 822.1 368.5 821.7 391.5 817 397.7 815 400.5 813.4 406.5 807 414.4 802.9 416.4 801 417.6 799 418.4 795 416.7 777 418.8 759 418.4 757 417 755 414.4 753.6 400.5 752 392.5 750 386.5 747.3 381 743 376.1 737 371.3 729 368.9 723 366.4 713 364.6 709 362.6 706.4 352.1 697 348.1 691 462.5 691 461.3 695 458.3 700.6 454.3 705.8 445.4 715 443.8 719 444.6 723 447 729 450 733 453.7 735 456.3 735.7 464.3 736.4 472.3 735.4 478.3 733.3 484.3 729.5 488.3 725 489.8 721 490.3 715 489 703 486.5 691 592 691 592 857 183 857 183 691Z"/>
<path fill="#00ff00" fill-rule="evenodd" d="M183 691 206.4 691 214.9 692.1 223.5 691 268.8 691.3 273.8 697 281.1 715 289.3 729 294.7 735 303 741 306.5 745 308.3 749 311.6 761 316.6 775 316.9 779 315.3 783 305.5 793 303.5 797 303.4 801 304.5 807 303.4 815 303.8 819 305.1 821 307.9 823 315.4 825 326.6 826.8 348.6 827.9 366.6 827.8 380.5 827.1 408.4 827.4 434.4 822 437.6 821 440.4 819.1 441.4 817 441.5 815 440.5 811 437.4 805 426.4 788 424.2 783 422.9 777 423.5 769 428.3 755 430.9 745 432.9 743 438.4 741.5 450.3 739.8 466.3 738.6 472.3 737.4 480.3 734.3 486.3 730.2 490.4 725 491.7 721 492.1 717 490.9 705 488.2 691 592 691 592 857 183 857 183 691ZM350.1 691 461.4 691 459.2 697 456.3 701.4 452.3 705.5 448.4 708.3 442.4 710.7 438.4 710.8 432.4 709.9 430.6 711 429.6 717 429.5 737 428.4 741.2 425.4 743 414.4 746.1 406.5 748.1 400.5 748.8 394.5 748.3 388.5 746.4 384.5 744 380.5 740.4 376.4 735 372 727 366.6 708.8 363.6 705 354.4 697 350.1 691Z"/>
<path fill="#06ff00" fill-rule="evenodd" d="M183 691 201.9 691 206.9 693.3 214.9 693.9 222.9 693.2 228.2 691 263.9 691 271.5 697 274.8 702.2 281.3 717 288.5 729 292.7 734.1 301.7 741 305.4 745 307.8 751 312.7 771 312.8 777 311 781 296 795 294.5 797 292.8 801 291.9 817 293.4 821 297.3 825 300.7 827 306.7 829.1 324.7 831.6 344.6 832.3 382.5 832.2 404.5 833.3 412.4 832.9 442.4 829.2 448.3 827 450.4 825 451.4 823 451.6 819 450.6 815 448.4 809.6 442.4 799.6 432.1 787 428.9 781 427.7 775 427.9 771 428.8 767 431.2 761 434.4 754.9 437.3 751 440.4 748.4 444.4 746.2 452.3 743.4 470.3 739.9 476.3 738.1 484.3 734 489.9 729 493 723 493.8 717 492.6 705 489.9 691 592 691 592 857 183 857 183 691ZM352.2 691 460.3 691 458.3 696.3 455 701 450.3 704.9 446.4 706.7 442.4 707.3 438.4 706.6 428.4 700.8 426.4 701.1 425.3 707 425.3 717 424.5 725 423.2 731 421.2 735 417.3 739 410.1 743 402.5 745.7 396.5 746.2 390.5 745.2 386.5 743.4 382.5 740.3 379.5 737 376.5 732.7 373.5 727 371.5 721 369.2 711 367.4 707 364.6 703.7 354.8 695 352.2 691Z"/>
<path fill="#25fe00" fill-rule="evenodd" d="M183 691 198.9 691 201.2 693 204.9 694.4 214.9 695.3 224.9 694.2 228.5 693 231.8 691 260 691 271 699 273.7 703 281.6 719 288.7 730.5 292.7 735.1 302.7 743 304.7 745.7 306.7 751 309.9 769 309.8 775 308.7 777.9 306.7 780.7 300.7 786 287.9 795 286.1 797 284.1 801 281.7 813 281.5 817 282.5 821 283.6 823 288 827 294.7 830.3 300.7 832.3 320.7 835.7 334.6 836.5 368.5 836.4 406.5 838.4 414.4 838.1 444.4 835.1 452.3 832.9 455.3 831 457.1 829 458 827 458.5 823 456.3 815 452.3 807 446.4 797.1 437.2 787 434.4 783 432 777 431.6 773 432.1 769 434.3 763 437.8 757 440.4 753.9 444.4 750.6 454.3 745.8 472.3 741.3 478.3 739.2 486.3 734.7 492 729 494.8 723 495.5 717 494.5 707 491.7 691 592 691 592 857 183 857 183 691ZM354.3 691 421 691 420.8 695 422.1 707 422.3 717 421.1 725 418.4 731.6 415.8 735 412.4 737.8 407 741 402.5 742.9 398.5 743.8 394.5 744 390.5 743.2 386.5 741.5 380.5 736 376 729 373.5 723 370.5 710.4 368.5 706.1 366.1 703 357 695 354.3 691ZM428 691 459.3 691 457.9 695 454.3 700 450.3 703.1 444.4 704.9 440.4 704.5 438.4 703.7 434.5 701 431.1 697 428 691Z"/>
<path fill="#50fd00" fill-rule="evenodd" d="M183 691 196.3 691 198.1 693 201.5 695 206.9 696.3 212.9 696.6 220.9 696.2 226.9 695.1 232.4 693 235.4 691 256.2 691 266.8 697.7 270.8 701.1 272.8 703.8 281.9 721 288.2 731 292.7 736.1 300.7 742.5 303.1 745 305.5 751 307.5 765 307.7 771 306.7 775.1 304.3 779 300 783 294.7 786.6 286.5 791 281 795 274.4 803 272.2 807 270.8 811 270.4 817 271.6 821 274.2 825 278.5 829 284.8 832.4 294.7 835.9 318.7 840.1 332.6 841 366.6 841 406.5 844 438.4 842.2 452.3 840.2 460.3 837.8 464.1 835 465.3 833 465.9 831 465.8 827 463.2 819 459.1 811 450.3 796.5 446.4 791.5 440 785 437.2 781 435.3 775 435.6 769 437.8 763 440.3 759 444 755 448.4 751.8 458.3 747.1 472.3 743.2 480.3 740.2 488.3 735.3 492.7 731 495.9 725 497.2 717 496.3 707 493.5 691 592 691 592 857 183 857 183 691ZM356.4 691 416.8 691 419.7 707 420 715 418.8 723 417.3 727 415 731 412.4 734 408.6 737 400.5 741 396.5 741.8 392.5 741.7 386.5 739.5 380.5 733.7 376.6 727 374.4 721 371.6 709 369.6 705 366.6 701.4 359.3 695 356.4 691ZM431.2 691 458.3 691 456.3 695.7 452.3 700.2 448.4 702.4 444.4 703 440.4 702.2 436.4 699.7 432.8 695 431.2 691Z"/>
<path fill="#63ff00" fill-rule="evenodd" d="M183 691 193.9 691 197 694.4 201 696.4 206.9 697.6 212.9 697.8 220.9 697.4 228.9 696 234.9 693.7 239.8 691 251.6 691 266.8 699.6 270.5 703 287.3 731 290.7 735.2 299.9 743 302.7 746.5 304.7 753 305.7 767 304.7 773 302.7 776.7 300.7 779.1 295.8 783 280.4 791 266.1 801 259.6 807 254.4 815 253.4 819 253.9 821 257.5 825 262.7 829 272.8 835 286.7 839.9 294.7 842 316.7 845.4 330.6 846.3 348.6 846.3 376.5 849 408.4 850.7 442.4 849.6 456.3 847.9 468.3 844.8 472.3 842.8 476.2 839 477.2 835 475.1 829 452.3 794.1 440.8 781 439 777 438.4 771 439.3 767 442.4 761.2 446.1 757 450.3 753.7 459.5 749 476.3 743.7 482.3 741.1 490.2 736 494.8 731 497.7 725 498.9 717 498.1 707 495.4 691 592 691 592 857 183 857 183 691ZM358.6 691 413.8 691 417.3 705 417.9 713 416.8 721 415.4 725 413.2 729 410.4 732.2 407.1 735 402.5 737.8 399.3 739 396.5 739.6 392.5 739.7 388.5 738.5 386.5 737.4 381.9 733 378.1 727 375.9 721 373 709 371.2 705 368.1 701 361.6 695 358.6 691ZM433.3 691 457.2 691 455.5 695 452.3 698.6 448.4 700.8 444.4 701.3 440.4 700.2 438.4 698.9 435.1 695 433.3 691Z"/>
<path fill="#78ff00" fill-rule="evenodd" d="M183 691 191.6 691 193 693.3 197 696.4 201 697.9 206.9 698.9 214.9 699 224.9 698.1 230.9 696.8 244.8 692.4 250.8 693.7 262.8 699.1 266.8 701.5 270.8 705.4 286.7 731.6 290.7 736.4 300.3 745 302.7 749.8 303.8 759 303.5 769 301 775 297.4 779 290.7 783.4 272.8 791.7 222.7 813 218.9 816.3 217.6 819 217.6 823 219.8 827 222.9 829.4 226.9 831.2 246.8 836.3 264.8 842.9 288.7 850.8 320.7 853.5 344.6 853.7 352.3 855 356.9 857 183 857 183 691ZM360.8 691 411.1 691 415.3 705 416 713 414.5 721 412.8 725 410.4 728.7 404.5 734.1 398.5 737 392.5 737.6 388.5 736.5 386.5 735.3 382.2 731 378.7 725 374.5 709 372.5 704.5 370.1 701 363.9 695 360.8 691ZM435.2 691 456.1 691 454.3 694.9 452.3 697.1 450.3 698.5 446.4 699.7 442.4 699.2 440.4 698.2 437.2 695 435.2 691ZM497.4 691 592 691 592 857 461.9 857 466.2 855 480.3 850 486.5 847 490.9 843 491.8 841 491.8 839 490.4 835 487.5 831 472.3 816.4 464.3 806.2 453.4 791 444.3 781 441.5 775 441.7 769 443.3 765 446.1 761 453 755 462.3 750.1 476.3 745.6 484.3 742.1 490.2 738.3 495.6 733 498 729 499.5 725 500.6 717 499.9 707 497.4 691Z"/>
<path fill="#9cff00" fill-rule="evenodd" d="M183 691 189.1 691 191.7 695 194.2 697 199 699 203 699.8 212.9 700.3 222.9 699.5 244.8 695.1 250.8 696 262.8 700.8 266.8 703.3 270.8 707.4 286.7 732.9 290.7 737.6 298.8 745 301.1 749 302 753 302.3 759 302.1 765 301.3 769 298.2 775 292.7 779.8 284.8 783.8 266.8 790.4 256.8 792.8 242.2 795 210.9 803.7 204.5 807 201.3 811 200.5 815 201.9 821 204.8 827 208.9 832.6 214.7 837 223.4 841 230.1 845 237.5 851 243.3 857 183 857 183 691ZM363 691 408.7 691 413.4 705 414.2 711 413 719 411.4 723 408.9 727 406.5 729.7 402.5 732.8 396.5 735.3 390.5 735.1 386.5 733 382.7 729 380.3 725 378.5 719.8 375.9 709 373.3 703 363 691ZM437 691 455 691 452.3 695.5 450.3 697 446.4 698.2 442.4 697.4 440.4 696.1 438.4 693.8 437 691ZM499.4 691 592 691 592 857 494.3 857 504.2 851.3 507.3 849 508.9 847 509.7 845 509.7 843 508.8 841 504.9 837 493.2 827 480.3 818 474.3 812.6 466.3 803.6 455.1 789 446.2 779 444.5 775 444.2 773 444.7 769 448 763 451.9 759 457.4 755 462.3 752.4 478.3 746.9 486.3 743.2 494.2 737.4 498.2 732.5 501.4 725 502.5 717 502.1 709 499.4 691Z"/>
<path fill="#b9ff00" fill-rule="evenodd" d="M183 691 186.3 691 188.6 695 191 697.4 195 699.6 199 700.6 206.9 701.4 216.9 701.3 228.9 699.9 242.9 697.4 246.8 697.4 256.8 700 264.8 703.6 268.8 707 270.8 709.4 286.7 734.4 297.1 745 299.6 749 300.7 755 300.5 763 299.2 769 297 773 292.7 777.4 286.7 780.9 274.8 785.2 264.8 787.7 256.8 788.9 242.9 789.7 220.9 792.4 195 793 183 794.5 183 691ZM365.3 691 406.4 691 411.6 705 412.3 711 410.8 719 408.9 723 406.5 726.5 402.5 730.1 396.5 733 392.5 733.3 390.5 732.9 386.5 730.7 383.3 727 381.2 723 377.4 709 375 703 372.5 699.4 365.3 691ZM438.8 691 453.8 691 452.3 693.6 450.3 695.5 446.4 696.7 444.4 696.4 441.7 695 438.8 691ZM501.7 691 592 691 592 857 524.9 857 530 851 530.8 849 530.7 847 527.8 843 519.5 837 504.2 828.5 480.3 812.8 468.3 801.1 448.4 777 447.3 773 447.9 769 450.3 764.6 455.9 759 464.3 753.8 480.3 748.2 488.3 744.4 495.5 739 500.2 733 503.4 725 504.5 717 504.1 709 501.7 691ZM183 837 183 835.4 187 837.6 197 846.7 206.9 853.1 210.4 857 183 857 183 837Z"/>
<path fill="#d6fc00" fill-rule="evenodd" d="M183 693 183 692.4 186.4 697 189 699.3 193 701.3 197 702.1 206.9 702.8 214.9 702.6 244.8 699.4 254.8 701.1 260.8 703.2 264.8 705.4 270.8 711.3 286.1 735 295.4 745 298 749 299 753 299 761 297.8 767 295.9 771 290.7 776.4 284.8 779.7 270.8 783.8 258.8 785.6 226.9 786.7 214.9 786.4 201 784.1 183 779.2 183 693ZM367.8 691 404.2 691 405.4 695 409.6 705 410.5 711 409.9 715 408.6 719 404.5 725.4 400 729 394.5 731 390.5 730.6 386.5 728.1 384.5 725.8 382.5 722.1 378.9 709 376.7 703 374.2 699 367.8 691ZM440.7 691 452.4 691 450.3 693.7 448.4 694.8 446.4 695.1 444.4 694.6 442.4 693.4 440.7 691ZM504.1 691 592 691 592 847.1 578 847.8 572 846.7 556.1 841 536.1 835.9 508.2 824.8 488.3 813.6 480.3 807.8 466.3 794.3 452.1 777 450.7 773 451.4 769 453.8 765 457.7 761 462.3 757.5 466.9 755 482.3 749.8 490.2 745.9 496.7 741 501.6 735 505.1 727 506.7 717 506.4 709 504.1 691Z"/>
<path fill="#f5f500" fill-rule="evenodd" d="M370.3 691 402 691 403.1 695 407.6 705 408.5 709 408.3 713 407.1 717 405 721 402.5 724.1 398.5 727.2 394.5 728.5 390.5 728 386.5 725.2 383.2 719 378.5 703 376.3 699 370.3 691ZM443 691 450.6 691 448.4 692.9 446.4 693.2 444.4 692.4 443 691ZM506.8 691 592 691 592 836.4 570.1 835.7 548.1 832.6 538.1 830 512.2 821.1 492.2 811.1 485.8 807 468.3 791.8 456.3 777 454.9 773 455.6 769 458.1 765 462.1 761 468.3 757 484.3 751.5 492.2 747.7 498.2 743.2 503.3 737 506.9 729 509.2 717 509.1 709 506.8 691ZM183 701 189 703.6 195 704.2 212.9 704 238.9 701.6 246.8 701.6 254.8 702.9 262.8 705.9 266.8 708.7 270.8 713.2 284.9 735 293.7 745 296.3 749 297.4 753 297.5 759 296.4 765 294.7 769 292.7 771.8 289.3 775 282.8 778.4 268.8 781.8 254.8 782.8 226.9 782.4 214.9 781 203 777.7 189 771.1 183 769.1 183 701Z"/>
<path fill="#f0d500" fill-rule="evenodd" d="M373.2 691 399.7 691 400.8 695 405.4 705 406.3 709 406 713 404.6 717 400.5 722.6 396.8 725 394.5 725.7 390.5 725.2 387.7 723 384.6 717 381.8 707 379.6 701 373.2 691ZM510.2 691 592 691 592 830.3 558.1 828.5 550.1 827.6 542.1 825.5 512.2 815.2 496.2 807.7 490.2 804.1 470.6 789 465.3 783 461.1 777 459.7 773 459.8 771 461.3 767 464.6 763 470.5 759 486.3 753.7 494.2 750.2 500.2 745.8 505.5 739 509.9 729 512.3 717 512.3 709 510.2 691ZM216.5 705 234.9 703.6 248.8 703.7 258.8 705.8 262.8 707.6 266.8 710.5 272.8 717.8 284.8 736.6 291.8 745 294.5 749 295.9 755 295.4 761 293.4 767 290.7 771 286.7 774.3 282.8 776.3 276.8 778.1 268.8 779.5 254.8 780.2 226.9 778.5 216.9 776.8 208.9 774 191 763.5 183 760 183 710.9 191 708 197 706.6 216.5 705Z"/>
<path fill="#f0b500" fill-rule="evenodd" d="M376.3 691 397.1 691 398.9 697 402.7 705 403.7 709 402.6 715 400.5 718.4 398.5 720.4 394.5 722.4 392.5 722.4 390.5 721.6 388.5 719.7 386.5 715.8 381.9 701 376.3 691ZM515.6 691 592 691 592 824 574 822.3 556.1 822.4 550.1 821.8 518.2 810.8 508.8 807 500.7 803 488.3 794 476.3 787.7 470.8 783 466.6 777 465.3 773 465.8 769 468.3 765.1 470.3 763.3 474.4 761 490.2 756 498.2 752.8 503.4 749 507.7 743 513.3 731 517.2 717 517.5 707 515.6 691ZM210.6 707 228.9 705.2 248.8 705.7 258.8 707.5 264.8 710.6 270.8 716.9 282.8 735.8 292.6 749 293.8 753 293.8 759 292.1 765 289.6 769 286.7 771.8 282.8 774.1 276.8 776 268.8 777.3 254.8 777.6 230.9 775.4 220.9 773.6 212.9 770.6 206.9 767 193.9 757 187.9 751 184.1 743 183 739 183 726.5 183.5 725 187.9 717 191.4 713 194 711 201 708.2 210.6 707Z"/>
<path fill="#f49c00" fill-rule="evenodd" d="M380 691 393.8 691 395.5 697 399.4 705 400.3 709 399.6 713 398.5 715.1 396.5 717 394.5 717.8 392.5 717.7 389.7 715 388.5 712.9 384.1 699 380 691ZM539.3 691 592 691 592 815 572 813.8 556.1 814.5 552.1 814.2 547.2 813 510.2 798.6 504.2 795.1 494.2 788.1 482.3 783.8 478.3 781.6 475.3 779 472.9 775 472.5 771 473.2 769 474.7 767 477.4 765 482.1 763 488.3 761.3 506.2 758.2 509.1 757 511.1 755 515.8 741 520.2 732.7 524.2 727.7 532.9 721 536.7 715 538.3 711 539.5 705 539.8 699 539.3 691ZM222.7 707 234.9 706.8 254.8 708.2 260.8 710 266.8 714.2 272.8 721.6 282.1 737 289.4 747 291.3 751 292 755 291.3 761 289.6 765 286.7 768.8 282.8 771.7 278.8 773.3 266.8 775.2 252.8 774.9 230.9 772 222.9 770.2 214.9 766.9 208.9 762.8 198 753 194.7 749 192.5 745 190.6 737 190.9 727 192.5 721 194.3 717 197.6 713 203 710.2 222.7 707Z"/>
<path fill="#f28200" fill-rule="evenodd" d="M557.4 691 580.5 691 584.4 707 584.4 711 582.8 719 582.9 721 583.8 723 585.5 725 588.3 727 592 728.5 592 756 584 758.6 582 758.9 578 758.2 566.1 752.8 562.1 749.5 560.4 747 559 743 558.6 737 560.8 723 557.6 707 557.4 691ZM219.2 709 228.9 708.2 252.8 709.7 258.8 711 264.8 714.3 268.8 718.2 272.3 723 280.5 737 288.4 749 289.7 753 289.8 757 288.9 761 286.7 765.1 282.8 768.9 276.8 771.4 266.8 772.9 256.8 772.7 243.7 771 226.9 767.7 218.9 764.7 210.9 759.4 202.2 751 198 745 196.5 741 195.7 737 196.3 727 198.5 719 201 715.2 203 713.5 208.9 711 219.2 709ZM578.5 765 582 764.3 592 766.8 592 801.7 580 803 568.1 801.9 564.1 800.9 560.4 799 558.1 795.2 557.6 789 558.3 783 559.6 779 562 775 564.1 772.7 568.1 769.6 578.5 765ZM487.4 771 490.2 770.1 494.2 770.6 496.7 773 496.2 774.7 494.2 775.8 492.2 776 488.3 775.2 486.4 773 487.4 771Z"/>
<path fill="#f16900" fill-rule="evenodd" d="M218 711 228.9 709.9 252.8 711.6 258.8 712.9 264.8 716.2 270.8 723 286 749 287.3 753 287.3 757 286.1 761 284.8 763.4 280.8 767.1 274.8 769.4 266.8 770.5 256.8 770.2 246.8 768.7 228.9 764.7 220.9 761.7 213.5 757 207.1 751 202.6 745 200.4 739 200.2 731 201.8 723 204.6 717 208.9 713.8 218 711Z"/>
<path fill="#f65600" fill-rule="evenodd" d="M218.3 713 222.9 712.1 228.9 711.8 252.8 713.5 258.8 714.7 263.2 717 266.8 720.1 270.8 725.4 283.5 749 284.7 755 283.9 759 282.8 761.1 278.8 764.9 273.6 767 266.8 768 258.8 767.8 248.8 766.2 228.9 761.3 222.9 759 216.2 755 210.9 750.3 206.9 745 204.4 739 203.9 733 205.3 725 207.9 719 209.7 717 212.9 715 218.3 713Z"/>
<path fill="#f94200" fill-rule="evenodd" d="M219.8 715 224.9 714 228.9 713.8 252.8 715.4 258.8 716.7 262.8 718.8 266.8 722.4 270 727 279.9 747 281.5 753 281.1 757 280.1 759 276.8 762.3 272.8 764.2 266.8 765.3 258.8 765.2 250.8 763.8 230.9 758.5 224.9 756.3 218.8 753 214.1 749 209.7 743 208.1 739 207.6 733 208.5 727 210.9 721 214.9 717.2 219.8 715Z"/>
<path fill="#f01d00" fill-rule="evenodd" d="M222.4 717 228.9 716.2 252.8 717.5 258.8 718.8 262.8 721 266.7 725 269.2 729 276.8 747 277.9 753 276.6 757 274.9 759 272.8 760.4 268.8 761.9 262.8 762.5 256.8 762.1 228.9 754.4 222.9 751.8 218.9 749.1 214.9 745 212.6 741 211.4 737 211.3 731 212.9 725 214.9 721.7 217.9 719 222.4 717Z"/>
<path fill="#f50200" fill-rule="evenodd" d="M228.3 719 252.8 719.7 258.8 721.1 262.8 723.6 265.8 727 267.9 731 272.6 745 273.6 751 272.3 755 270.2 757 266.8 758.6 262.8 759.2 256.8 759 250.8 757.6 228.9 750.8 224.9 749.1 220.9 746.5 217.7 743 215.6 739 214.8 735 215.4 729 217.2 725 220.9 721.2 224.9 719.6 228.3 719Z"/>
<path fill="#f50000" fill-rule="evenodd" d="M226.6 723 232.9 722.2 250.8 722.1 256.8 723 260.8 725 262.9 727 264.8 729.9 267.2 737 268.7 747 268.1 751 266.8 753 262.8 755.1 258.8 755.6 254.8 755.2 229.5 747 224.9 744.8 222.6 743 219.9 739 218.9 733 219.9 729 221 727 222.9 724.9 226.6 723Z"/>
<path fill="#f50000" fill-rule="evenodd" d="M230.7 727 250.8 725.1 254.8 725.6 258.8 727.3 262.1 731 263.6 735 264.2 743 262.8 748.4 260.8 750.3 258.8 751.1 252.8 751 247.3 749 240.9 745.8 228.2 741 226 739 224.8 737 224.6 733 225.3 731 226.9 729 230.7 727Z"/>
<path fill="#f50000" fill-rule="evenodd" d="M243.6 731 250.8 729.2 254.8 729.8 257 731 258.8 733 260.1 737 260.1 741 258.4 745 256.8 746.2 252.8 746.5 248.8 744.8 244.3 741 240.7 737 239.8 735 240.7 733 243.6 731Z"/>
<path fill="none" stroke="#000" stroke-width="0.8" d="M306.7 702.5 305.2 707 305.2 709 306.1 713 308.7 717.1 310.7 718 312.7 718 314.4 717 315.2 715 315.3 713 314.5 709 312.7 705.1 310.7 702.6 308.7 701.6 306.7 702.5M306.7 691.5 304.7 693.8 303.2 697 301.6 703 301.5 709 302.7 714.5 305.1 719 306.7 720.8 308.7 722.1 312.7 723.3 316.7 723.1 319.6 721 320.5 719 320.6 715 319.7 711 316.7 703.4 312.7 696.4 308.7 691.8 306.7 691.5M301.3 691 299 701 298.6 707 299.6 713 302.1 719 304.7 722.4 308.7 725.1 314.7 726.9 320.7 727 322.7 726.1 324.7 723.4 325.1 721 324.9 717 321.7 707 314.1 691M298.4 691 296.5 701 296.3 707 298 715 300.9 721 304.5 725 308.7 727.5 318.7 730.9 322.7 731.7 324.7 731.6 326.6 730.8 328.6 728.1 329.5 723 329.1 719 326.6 711 317.5 691M296 691 294.3 701 294.4 709 296.7 717 300.1 723 302.7 725.8 306.7 728.5 324.7 737.1 328.6 737.7 330.6 736.9 332.2 735 333 733 333.7 727 333.1 721 330.7 713 321.9 695 320.4 691M293.7 691 292.1 703 292.4 709 294.8 717 298 723 302.7 727.9 315.2 735 324.7 742 328.6 744 332.6 744.3 335.4 743 336.6 741.5 337.7 739 338.3 733 337.5 725 336.2 719 334.1 713 324.8 695 323.3 691M291.6 691 290 703 290.4 709 292.9 717 297.5 725 302.7 729.8 314.4 737 326.6 748.2 332.6 751.1 338.6 751.6 340.9 751 342.6 749.8 344.1 747 344.3 741 343.2 733 340.4 721 338.5 715 335.8 709 327.8 695 326.2 691M289.4 691 287.9 703 288.4 709 289.5 713 292 719 294.2 723 297.1 727 300.7 730.3 310.7 736.6 313.7 739 322.7 749.6 328.6 754.9 334.6 758.1 340.6 760.3 346.6 761.4 350.6 761 354.6 759 356.3 757 357.2 753 356.3 749 348.6 732.7 341.6 713 338.5 707 331.2 695 329.5 691M287 691 285.7 701 286.4 709 287.5 713 290.1 719 293.6 725 296.7 728.9 300.7 732.2 310.8 739 314.4 743 322.7 754.8 326.6 758.8 330.6 761.7 340.6 767.3 346.6 769.6 352.6 770.3 359.8 769 364.6 766.5 367.8 763 369 759 367.9 753 364 745 353.3 729 345.1 711 335.1 695 333.2 691M284.1 691 283.2 701 283.8 707 285.5 713 289.2 721 293 727 296.6 731 306.7 738.1 310.1 741 313.1 745 318.7 755.2 322.7 760.6 326.6 764.3 336.6 771.9 344.6 776.6 348.6 777.9 354.6 778.8 360.6 778.4 366.6 777 370.5 775.3 374.3 773 378.2 769 379.9 765 380.1 763 379.3 759 376 753 360.2 729 352 713 340.6 696.7 337.6 691M472.3 696.2 470.3 697.8 468.3 701.3 466.1 707 465.5 711 466.3 715.5 468.3 717.9 470.3 718.8 472.3 718.7 474.3 717.7 476.3 715.4 477.2 713 477.8 709 477.6 705 476.3 699.6 474.3 696.7 472.3 696.2M280.1 691 280.4 701 281.9 709 285.1 717 289.6 725 294.7 731.6 298.7 734.9 304.9 739 308.7 742.6 311.4 747 315.7 757 318.7 762.3 322.7 767 329 773 336.6 781.4 340.6 784.3 344.6 786.1 350.6 787.9 356.6 789 360.6 789.3 366.6 788.9 376.5 786.6 384.5 782.7 388.5 779.7 391.1 777 393.6 773 394.9 769 394.8 765 394.2 763 391.6 759 380.5 749.3 374.5 742 366.3 729 359.7 713 356.8 709 346.6 697.8 342.5 691M466.3 691 463.4 699 457.7 711 456.9 715 456.9 717 457.9 721 460.3 725.2 464.3 728.1 468.3 729 474.3 728.2 478.3 726.3 482 723 484 719 484.7 713 484.3 705.6 483.1 699 480.9 691M272.8 691 275.7 697 280.1 711 285.1 721 288.7 727.1 292.7 732.2 296.7 735.8 304.1 741 307.5 745 309.3 749 313.9 763 321.3 777 321.9 779 321.8 783 320.7 786.3 317.2 793 316.4 797 317.3 801 321.8 813 322.9 815 324.7 816.8 329.2 819 342.6 821.6 348.6 822.1 364.6 822 370.5 821.4 386.5 818.2 397.7 815 401.1 813 406.5 807 414.4 802.9 416.4 801 417.6 799 418.2 797 418.4 793 416.7 777 417.1 771 418.8 761 418.4 757 416.4 754.5 412.4 753 400.5 752 392.5 750 386.5 747.3 382.5 744.4 376.5 737.6 371.3 729 368.9 723 366.4 713 364.6 709 362.6 706.4 352.1 697 349.1 693 348.1 691M462.5 691 461.3 695 458.3 700.6 454.3 705.8 445.4 715 443.8 719 444.6 723 447 729 450 733 453.7 735 456.3 735.7 464.3 736.4 472.3 735.4 478.3 733.3 484.3 729.5 488.3 725 489.8 721 490.3 715 489 703 486.5 691M198.9 691 201.2 693 204.9 694.4 208.9 695.1 214.9 695.3 220.9 695 224.9 694.2 228.5 693 231.8 691M260 691 268.8 697 272.5 701 280.5 717 287.7 729 292.7 735.1 302.7 743 305.4 747 307.1 753 309.9 769 309.8 775 308 779 304.7 782.7 287.9 795 284.9 799 283.1 805 281.7 813 281.5 817 282.5 821 285.4 825 291.7 829 298.7 831.8 306.7 833.7 318.7 835.5 334.6 836.5 370.5 836.4 406.5 838.4 414.4 838.1 444.4 835.1 452.3 832.9 455.3 831 457.1 829 458 827 458.5 823 457.8 819 456.3 815 452.3 807 446.4 797.1 437.2 787 434.4 783 432 777 431.6 773 432.1 769 434.3 763 437.8 757 440.4 753.9 444.4 750.6 448.4 748.3 454.3 745.8 472.3 741.3 478.3 739.2 486.3 734.7 490.2 731.2 492 729 494.8 723 495.5 717 494.5 707 491.7 691M421 691 420.8 695 422.1 707 422.4 715 421.5 723 419.7 729 417.5 733 415.8 735 410.6 739 402.5 742.9 396.5 744 392.5 743.7 388.5 742.5 384.5 740 380.5 736 377.1 731 374.2 725 370.7 711 369.1 707 366.1 703 357 695 354.3 691M459.3 691 457.9 695 454.3 700 450.3 703.1 448.4 704 444.4 704.9 440.4 704.5 438.4 703.7 434.5 701 431.1 697 428 691M191.6 691 193 693.3 197 696.4 201 697.9 204.9 698.7 214.9 699 224.9 698.1 230.9 696.8 244.8 692.4 246.8 692.5 250.8 693.7 264.8 700.2 268.6 703 270.8 705.4 286.7 731.6 290.7 736.4 300.3 745 301.6 747 303 751 303.9 761 303.5 769 302.2 773 301 775 297.4 779 290.7 783.4 272.8 791.7 250.1 801 240.9 805.5 230.9 809.2 222.7 813 218.9 816.3 217.6 819 217.6 823 219.8 827 222.9 829.4 226.9 831.2 246.8 836.3 264.8 842.9 288.7 850.8 294.7 851.6 320.7 853.5 344.6 853.7 352.3 855 356.9 857M411.1 691 414.8 703 415.9 709 415.8 715 414.5 721 411.7 727 406.5 732.6 400.5 736.3 394.5 737.7 390.5 737.2 388.5 736.5 384.5 733.6 382.2 731 379.7 727 378 723 374.5 709.2 372.8 705 370.1 701 363.9 695 360.8 691M456.1 691 454.3 694.9 452.3 697.1 450.3 698.5 446.4 699.7 442.4 699.2 440.4 698.2 437.2 695 435.2 691M461.9 857 466.2 855 480.3 850 486.5 847 489.2 845 490.9 843 491.8 841 491.8 839 490.4 835 487.5 831 476.3 820.6 472.3 816.4 464.3 806.2 453.4 791 444.3 781 442.4 777.6 441.5 775 441.3 773 441.7 769 443.3 765 446.1 761 453 755 462.3 750.1 476.3 745.6 484.3 742.1 490.2 738.3 495.6 733 498 729 499.5 725 500.6 717 499.9 707 497.4 691M183 692.4 186.4 697 189 699.3 193 701.3 197 702.1 206.9 702.8 214.9 702.6 244.8 699.4 252.8 700.6 262.8 704.2 266.8 706.9 270.8 711.3 286.1 735 297 747 298.7 751 299.2 757 298.7 763 297.8 767 295.9 771 292.5 775 288.7 777.7 284.8 779.7 276.8 782.3 268.8 784.2 256.8 785.7 226.9 786.7 216.9 786.5 203 784.5 183 779.2M404.2 691 405.4 695 409 703 410.1 707 410.5 711 409.4 717 406.5 722.9 402.5 727.3 400 729 396.5 730.6 392.5 731 388.5 729.6 386.5 728.1 384 725 382.1 721 378.9 709 376.7 703 374.2 699 367.8 691M452.4 691 450.3 693.7 448.4 694.8 446.4 695.1 444.4 694.6 442.4 693.4 440.7 691M592 847.1 578 847.8 572 846.7 556.1 841 536.1 835.9 516.2 828.3 508.2 824.8 488.3 813.6 480.3 807.8 466.3 794.3 452.1 777 450.7 773 451.4 769 453.8 765 457.7 761 462.3 757.5 466.9 755 482.3 749.8 490.2 745.9 496.7 741 501.6 735 505.1 727 506.7 717 506.4 709 504.1 691M397.1 691 398.9 697 402.7 705 403.7 709 403.6 711 402.6 715 400 719 396.5 721.7 394.5 722.4 392.5 722.4 390.5 721.6 388.1 719 386.5 715.8 381.9 701 376.3 691M183 726.5 186.6 719 191.4 713 195 710.4 201 708.2 222.9 705.6 230.9 705.2 248.8 705.7 254.8 706.5 258.8 707.5 264.8 710.6 268.8 714.4 274.8 722.6 283.6 737 291.4 747 292.7 749.4 293.8 753 294 757 293.4 761 291 767 287.7 771 282.8 774.1 274.8 776.4 266.8 777.5 256.8 777.7 236.9 776.1 224.9 774.5 216.9 772.3 210 769 191.5 755 189.5 753 186.6 749 184.1 743 183 739M592 824 574 822.3 556.1 822.4 550.1 821.8 546.1 820.7 518.2 810.8 508.8 807 500.7 803 496.2 800.1 488.3 794 476.3 787.7 470.8 783 466.6 777 465.3 773 465.8 769 468.3 765.1 470.3 763.3 474.4 761 490.2 756 498.2 752.8 503.4 749 507.7 743 513.3 731 517.2 717 517.5 707 515.6 691M218 711 222.9 710.2 228.9 709.9 252.8 711.6 258.8 712.9 264.8 716.2 270.8 723 286 749 287.3 753 287.3 757 286.1 761 284.8 763.4 280.8 767.1 274.8 769.4 266.8 770.5 256.8 770.2 246.8 768.7 228.9 764.7 220.9 761.7 213.5 757 207.1 751 202.6 745 200.4 739 200 735 200.2 731 201.8 723 203.3 719 204.6 717 206.7 715 208.9 713.8 218 711M222.4 717 228.9 716.2 252.8 717.5 258.8 718.8 262.8 721 266.7 725 269.2 729 276.8 747 277.9 753 276.6 757 274.9 759 272.8 760.4 268.8 761.9 262.8 762.5 256.8 762.1 250.8 760.8 228.9 754.4 222.9 751.8 218.9 749.1 214.9 745 212.6 741 211.4 737 211.3 731 212.9 725 214.9 721.7 217.9 719 222.4 717M230.7 727 234.9 726.3 250.8 725.1 254.8 725.6 258.8 727.3 260.8 729 262.1 731 263.6 735 264.2 743 263.5 747 262.8 748.4 260.8 750.3 258.8 751.1 256.8 751.4 252.8 751 247.3 749 240.9 745.8 228.2 741 226 739 224.8 737 224.6 733 225.3 731 226.9 729 230.7 727"/>
</g>
<clipPath id="coid"><path d="M183 787 200 794 220 802 255 813 290 824 313 832 356 844 390 851 412 857 452 857 467 855 507 849 547 841 592 831 L592 857 L183 857 Z"/></clipPath><path d="M183 -286.9L592 122.1M183 -232.3L592 -641.3M183 -260.1L592 148.9M183 -205.5L592 -614.5M183 -233.3L592 175.7M183 -178.7L592 -587.7M183 -206.5L592 202.5M183 -151.9L592 -560.9M183 -179.7L592 229.3M183 -125.1L592 -534.1M183 -152.9L592 256.1M183 -98.3L592 -507.3M183 -126.1L592 282.9M183 -71.5L592 -480.5M183 -99.3L592 309.7M183 -44.7L592 -453.7M183 -72.5L592 336.5M183 -17.9L592 -426.9M183 -45.7L592 363.3M183 8.9L592 -400.1M183 -18.9L592 390.1M183 35.7L592 -373.3M183 7.9L592 416.9M183 62.5L592 -346.5M183 34.7L592 443.7M183 89.3L592 -319.7M183 61.5L592 470.5M183 116.1L592 -292.9M183 88.3L592 497.3M183 142.9L592 -266.1M183 115.1L592 524.1M183 169.7L592 -239.3M183 141.9L592 550.9M183 196.5L592 -212.5M183 168.7L592 577.7M183 223.3L592 -185.7M183 195.5L592 604.5M183 250.1L592 -158.9M183 222.3L592 631.3M183 276.9L592 -132.1M183 249.1L592 658.1M183 303.7L592 -105.3M183 275.9L592 684.9M183 330.5L592 -78.5M183 302.7L592 711.7M183 357.3L592 -51.7M183 329.5L592 738.5M183 384.1L592 -24.9M183 356.3L592 765.3M183 410.9L592 1.9M183 383.1L592 792.1M183 437.7L592 28.7M183 409.9L592 818.9M183 464.5L592 55.5M183 436.7L592 845.7M183 491.3L592 82.3M183 463.5L592 872.5M183 518.1L592 109.1M183 490.3L592 899.3M183 544.9L592 135.9M183 517.1L592 926.1M183 571.7L592 162.7M183 543.9L592 952.9M183 598.5L592 189.5M183 570.7L592 979.7M183 625.3L592 216.3M183 597.5L592 1006.5M183 652.1L592 243.1M183 624.3L592 1033.3M183 678.9L592 269.9M183 651.1L592 1060.1M183 705.7L592 296.7M183 677.9L592 1086.9M183 732.5L592 323.5M183 704.7L592 1113.7M183 759.3L592 350.3M183 731.5L592 1140.5M183 786.1L592 377.1M183 758.3L592 1167.3M183 812.9L592 403.9M183 785.1L592 1194.1M183 839.7L592 430.7M183 811.9L592 1220.9M183 866.5L592 457.5M183 838.7L592 1247.7M183 893.3L592 484.3M183 865.5L592 1274.5M183 920.1L592 511.1M183 892.3L592 1301.3M183 946.9L592 537.9M183 919.1L592 1328.1M183 973.7L592 564.7M183 945.9L592 1354.9M183 1000.5L592 591.5M183 972.7L592 1381.7M183 1027.3L592 618.3M183 999.5L592 1408.5M183 1054.1L592 645.1M183 1026.3L592 1435.3M183 1080.9L592 671.9M183 1053.1L592 1462.1M183 1107.7L592 698.7M183 1079.9L592 1488.9M183 1134.5L592 725.5M183 1106.7L592 1515.7M183 1161.3L592 752.3M183 1133.5L592 1542.5M183 1188.1L592 779.1M183 1160.3L592 1569.3M183 1214.9L592 805.9M183 1187.1L592 1596.1M183 1241.7L592 832.7M183 1213.9L592 1622.9M183 1268.5L592 859.5M183 1240.7L592 1649.7M183 1295.3L592 886.3M183 1267.5L592 1676.5M183 1322.1L592 913.1M183 1294.3L592 1703.3M183 1348.9L592 939.9M183 1321.1L592 1730.1M183 1375.7L592 966.7M183 1347.9L592 1756.9M183 1402.5L592 993.5M183 1374.7L592 1783.7M183 1429.3L592 1020.3M183 1401.5L592 1810.5M183 1456.1L592 1047.1M183 1428.3L592 1837.3M183 1482.9L592 1073.9M183 1455.1L592 1864.1M183 1509.7L592 1100.7M183 1481.9L592 1890.9M183 1536.5L592 1127.5M183 1508.7L592 1917.7M183 1563.3L592 1154.3M183 1535.5L592 1944.5M183 1590.1L592 1181.1M183 1562.3L592 1971.3M183 1616.9L592 1207.9M183 1589.1L592 1998.1M183 1643.7L592 1234.7M183 1615.9L592 2024.9M183 1670.5L592 1261.5M183 1642.7L592 2051.7M183 1697.3L592 1288.3M183 1669.5L592 2078.5M183 1724.1L592 1315.1M183 1696.3L592 2105.3M183 1750.9L592 1341.9M183 1723.1L592 2132.1M183 1777.7L592 1368.7M183 1749.9L592 2158.9M183 1804.5L592 1395.5M183 1776.7L592 2185.7M183 1831.3L592 1422.3M183 1803.5L592 2212.5M183 1858.1L592 1449.1M183 1830.3L592 2239.3M183 1884.9L592 1475.9M183 1857.1L592 2266.1M183 1911.7L592 1502.7" stroke="#111" stroke-width="0.9" fill="none" clip-path="url(#coid)"/><path d="M183 787 200 794 220 802 255 813 290 824 313 832 356 844 390 851 412 858.5 452 858.5 467 855 507 849 547 841 592 831" stroke="#111" stroke-width="0.9" fill="none" clip-path="url(#pcd)"/>
<rect x="183" y="691" width="409" height="166" fill="none" stroke="#111" stroke-width="1"/>
<path d="M358.3 857v-9.5M358.3 691v9.5" stroke="#333" stroke-width="1"/><path d="M534 857v-9.5M534 691v9.5" stroke="#333" stroke-width="1"/><path d="M242 857v-4.7M242 691v4.7" stroke="#333" stroke-width="1"/><path d="M300.5 857v-4.7M300.5 691v4.7" stroke="#333" stroke-width="1"/><path d="M417 857v-4.7M417 691v4.7" stroke="#333" stroke-width="1"/><path d="M475.5 857v-4.7M475.5 691v4.7" stroke="#333" stroke-width="1"/>
<line x1="315.5" y1="691" x2="315.5" y2="857" stroke="#111" stroke-width="1.2" stroke-dasharray="7 8.4" stroke-dashoffset="8.5"/><line x1="456.5" y1="691" x2="456.5" y2="857" stroke="#111" stroke-width="1.2" stroke-dasharray="7 8.4" stroke-dashoffset="8.5"/>
<text x="179.2" y="698.4" font-size="10.3" text-anchor="end" textLength="5.8" lengthAdjust="spacingAndGlyphs" fill="#333" font-family='"Liberation Sans", sans-serif'>4</text><path d="M183 727.5h8M592 727.5h-8" stroke="#333" stroke-width="1"/><text x="179.2" y="731.1" font-size="10.3" text-anchor="end" textLength="5.8" lengthAdjust="spacingAndGlyphs" fill="#333" font-family='"Liberation Sans", sans-serif'>8</text><path d="M183 764.6h8M592 764.6h-8" stroke="#333" stroke-width="1"/><text x="179.2" y="769" font-size="10.3" text-anchor="end" textLength="12" lengthAdjust="spacingAndGlyphs" fill="#333" font-family='"Liberation Sans", sans-serif'>16</text><path d="M183 801.7h8M592 801.7h-8" stroke="#333" stroke-width="1"/><text x="179.2" y="806.1" font-size="10.3" text-anchor="end" textLength="12" lengthAdjust="spacingAndGlyphs" fill="#333" font-family='"Liberation Sans", sans-serif'>32</text><path d="M183 838.8h8M592 838.8h-8" stroke="#333" stroke-width="1"/><text x="179.2" y="842.4" font-size="10.3" text-anchor="end" textLength="12" lengthAdjust="spacingAndGlyphs" fill="#333" font-family='"Liberation Sans", sans-serif'>64</text><text transform="translate(157.3 774) rotate(-90)" x="0" y="0" font-size="10" text-anchor="middle" textLength="48" lengthAdjust="spacingAndGlyphs" fill="#222" font-family='"Liberation Sans", sans-serif'>Scale (h)</text>
<text x="358.3" y="873" font-size="10.5" text-anchor="middle" textLength="47.3" lengthAdjust="spacingAndGlyphs" fill="#444" font-family='"Liberation Sans", sans-serif'>08 12:00</text><text x="533.5" y="873" font-size="10.5" text-anchor="middle" textLength="48.7" lengthAdjust="spacingAndGlyphs" fill="#444" font-family='"Liberation Sans", sans-serif'>09 12:00</text><text x="387" y="886.7" font-size="10.5" text-anchor="middle" textLength="192" lengthAdjust="spacingAndGlyphs" fill="#444" font-family='"Liberation Sans", sans-serif'>Time (dd hh:mm on February 1995)</text>
<text x="324.3" y="684.6" font-size="16.5" textLength="18" lengthAdjust="spacingAndGlyphs" fill="#333" font-family='"Liberation Serif", serif'>(d)</text>
<text x="346.7" y="684.4" font-size="12.5" textLength="102.6" lengthAdjust="spacingAndGlyphs" fill="#444" font-family='"Liberation Sans", sans-serif'>Residual energy</text>
<rect x="89" y="854.2" width="32" height="3.4" fill="#030003" shape-rendering="crispEdges"/><rect x="89" y="851.5" width="32" height="3.4" fill="#0d000d" shape-rendering="crispEdges"/><rect x="89" y="848.7" width="32" height="3.4" fill="#1b001e" shape-rendering="crispEdges"/><rect x="89" y="845.9" width="32" height="3.4" fill="#290033" shape-rendering="crispEdges"/><rect x="89" y="843.2" width="32" height="3.4" fill="#3a0048" shape-rendering="crispEdges"/><rect x="89" y="840.4" width="32" height="3.4" fill="#47005d" shape-rendering="crispEdges"/><rect x="89" y="837.6" width="32" height="3.4" fill="#510072" shape-rendering="crispEdges"/><rect x="89" y="834.9" width="32" height="3.4" fill="#58008e" shape-rendering="crispEdges"/><rect x="89" y="832.1" width="32" height="3.4" fill="#5a00a9" shape-rendering="crispEdges"/><rect x="89" y="829.3" width="32" height="3.4" fill="#5900c5" shape-rendering="crispEdges"/><rect x="89" y="826.6" width="32" height="3.4" fill="#5600e1" shape-rendering="crispEdges"/><rect x="89" y="823.8" width="32" height="3.4" fill="#5300f1" shape-rendering="crispEdges"/><rect x="89" y="821" width="32" height="3.4" fill="#5000ff" shape-rendering="crispEdges"/><rect x="89" y="818.3" width="32" height="3.4" fill="#4f00ff" shape-rendering="crispEdges"/><rect x="89" y="815.5" width="32" height="3.4" fill="#4c0fff" shape-rendering="crispEdges"/><rect x="89" y="812.7" width="32" height="3.4" fill="#4f32ff" shape-rendering="crispEdges"/><rect x="89" y="810" width="32" height="3.4" fill="#5049ff" shape-rendering="crispEdges"/><rect x="89" y="807.2" width="32" height="3.4" fill="#4e5dff" shape-rendering="crispEdges"/><rect x="89" y="804.4" width="32" height="3.4" fill="#4a73ff" shape-rendering="crispEdges"/><rect x="89" y="801.7" width="32" height="3.4" fill="#478fff" shape-rendering="crispEdges"/><rect x="89" y="798.9" width="32" height="3.4" fill="#41a5ff" shape-rendering="crispEdges"/><rect x="89" y="796.1" width="32" height="3.4" fill="#3ab8ff" shape-rendering="crispEdges"/><rect x="89" y="793.4" width="32" height="3.4" fill="#33c6ff" shape-rendering="crispEdges"/><rect x="89" y="790.6" width="32" height="3.4" fill="#2cdfff" shape-rendering="crispEdges"/><rect x="89" y="787.8" width="32" height="3.4" fill="#25f4f8" shape-rendering="crispEdges"/><rect x="89" y="785.1" width="32" height="3.4" fill="#1efee7" shape-rendering="crispEdges"/><rect x="89" y="782.3" width="32" height="3.4" fill="#0bffc6" shape-rendering="crispEdges"/><rect x="89" y="779.5" width="32" height="3.4" fill="#00ffad" shape-rendering="crispEdges"/><rect x="89" y="776.8" width="32" height="3.4" fill="#00ff95" shape-rendering="crispEdges"/><rect x="89" y="774" width="32" height="3.4" fill="#00ff79" shape-rendering="crispEdges"/><rect x="89" y="771.2" width="32" height="3.4" fill="#00ff5e" shape-rendering="crispEdges"/><rect x="89" y="768.5" width="32" height="3.4" fill="#00ff3c" shape-rendering="crispEdges"/><rect x="89" y="765.7" width="32" height="3.4" fill="#00ff1d" shape-rendering="crispEdges"/><rect x="89" y="762.9" width="32" height="3.4" fill="#00ff01" shape-rendering="crispEdges"/><rect x="89" y="760.2" width="32" height="3.4" fill="#00ff00" shape-rendering="crispEdges"/><rect x="89" y="757.4" width="32" height="3.4" fill="#00ff00" shape-rendering="crispEdges"/><rect x="89" y="754.6" width="32" height="3.4" fill="#00ff00" shape-rendering="crispEdges"/><rect x="89" y="751.9" width="32" height="3.4" fill="#06ff00" shape-rendering="crispEdges"/><rect x="89" y="749.1" width="32" height="3.4" fill="#25fe00" shape-rendering="crispEdges"/><rect x="89" y="746.3" width="32" height="3.4" fill="#50fd00" shape-rendering="crispEdges"/><rect x="89" y="743.6" width="32" height="3.4" fill="#63ff00" shape-rendering="crispEdges"/><rect x="89" y="740.8" width="32" height="3.4" fill="#78ff00" shape-rendering="crispEdges"/><rect x="89" y="738" width="32" height="3.4" fill="#9cff00" shape-rendering="crispEdges"/><rect x="89" y="735.3" width="32" height="3.4" fill="#b9ff00" shape-rendering="crispEdges"/><rect x="89" y="732.5" width="32" height="3.4" fill="#d6fc00" shape-rendering="crispEdges"/><rect x="89" y="729.7" width="32" height="3.4" fill="#f5f500" shape-rendering="crispEdges"/><rect x="89" y="727" width="32" height="3.4" fill="#f0d500" shape-rendering="crispEdges"/><rect x="89" y="724.2" width="32" height="3.4" fill="#f0b500" shape-rendering="crispEdges"/><rect x="89" y="721.4" width="32" height="3.4" fill="#f49c00" shape-rendering="crispEdges"/><rect x="89" y="718.7" width="32" height="3.4" fill="#f28200" shape-rendering="crispEdges"/><rect x="89" y="715.9" width="32" height="3.4" fill="#f16900" shape-rendering="crispEdges"/><rect x="89" y="713.1" width="32" height="3.4" fill="#f65600" shape-rendering="crispEdges"/><rect x="89" y="710.4" width="32" height="3.4" fill="#f94200" shape-rendering="crispEdges"/><rect x="89" y="707.6" width="32" height="3.4" fill="#f01d00" shape-rendering="crispEdges"/><rect x="89" y="704.8" width="32" height="3.4" fill="#f50200" shape-rendering="crispEdges"/><rect x="89" y="702.1" width="32" height="3.4" fill="#f50000" shape-rendering="crispEdges"/><rect x="89" y="699.3" width="32" height="3.4" fill="#f50000" shape-rendering="crispEdges"/><rect x="89" y="696.5" width="32" height="3.4" fill="#f50000" shape-rendering="crispEdges"/><rect x="89" y="693.8" width="32" height="3.4" fill="#f50000" shape-rendering="crispEdges"/><rect x="89" y="691" width="32" height="3.4" fill="#f50000" shape-rendering="crispEdges"/><rect x="89" y="691" width="32" height="166" fill="none" stroke="#111" stroke-width="0.8"/><text x="75.3" y="697.8" font-size="9.6" text-anchor="end" textLength="42.8" lengthAdjust="spacingAndGlyphs" fill="#333" font-family='"Liberation Sans", sans-serif'>6.42×10</text><text x="75.9" y="692.9" font-size="6.6" textLength="9.4" lengthAdjust="spacingAndGlyphs" fill="#333" font-family='"Liberation Sans", sans-serif'>−6</text><text x="75.3" y="710.9" font-size="9.6" text-anchor="end" textLength="42.8" lengthAdjust="spacingAndGlyphs" fill="#333" font-family='"Liberation Sans", sans-serif'>2.95×10</text><text x="75.9" y="706" font-size="6.6" textLength="9.4" lengthAdjust="spacingAndGlyphs" fill="#333" font-family='"Liberation Sans", sans-serif'>−6</text><text x="75.3" y="727.5" font-size="9.6" text-anchor="end" textLength="50" lengthAdjust="spacingAndGlyphs" fill="#333" font-family='"Liberation Sans", sans-serif'>−5.18×10</text><text x="75.9" y="722.6" font-size="6.6" textLength="9.4" lengthAdjust="spacingAndGlyphs" fill="#333" font-family='"Liberation Sans", sans-serif'>−7</text><text x="75.3" y="744.1" font-size="9.6" text-anchor="end" textLength="50" lengthAdjust="spacingAndGlyphs" fill="#333" font-family='"Liberation Sans", sans-serif'>−3.99×10</text><text x="75.9" y="739.2" font-size="6.6" textLength="9.4" lengthAdjust="spacingAndGlyphs" fill="#333" font-family='"Liberation Sans", sans-serif'>−6</text><text x="75.3" y="760.7" font-size="9.6" text-anchor="end" textLength="50" lengthAdjust="spacingAndGlyphs" fill="#333" font-family='"Liberation Sans", sans-serif'>−7.46×10</text><text x="75.9" y="755.8" font-size="6.6" textLength="9.4" lengthAdjust="spacingAndGlyphs" fill="#333" font-family='"Liberation Sans", sans-serif'>−6</text><text x="75.3" y="777.3" font-size="9.6" text-anchor="end" textLength="50" lengthAdjust="spacingAndGlyphs" fill="#333" font-family='"Liberation Sans", sans-serif'>−1.09×10</text><text x="75.9" y="772.4" font-size="6.6" textLength="9.4" lengthAdjust="spacingAndGlyphs" fill="#333" font-family='"Liberation Sans", sans-serif'>−5</text><text x="75.3" y="793.9" font-size="9.6" text-anchor="end" textLength="50" lengthAdjust="spacingAndGlyphs" fill="#333" font-family='"Liberation Sans", sans-serif'>−1.44×10</text><text x="75.9" y="789" font-size="6.6" textLength="9.4" lengthAdjust="spacingAndGlyphs" fill="#333" font-family='"Liberation Sans", sans-serif'>−5</text><text x="75.3" y="810.5" font-size="9.6" text-anchor="end" textLength="50" lengthAdjust="spacingAndGlyphs" fill="#333" font-family='"Liberation Sans", sans-serif'>−1.79×10</text><text x="75.9" y="805.6" font-size="6.6" textLength="9.4" lengthAdjust="spacingAndGlyphs" fill="#333" font-family='"Liberation Sans", sans-serif'>−5</text><text x="75.3" y="827.1" font-size="9.6" text-anchor="end" textLength="50" lengthAdjust="spacingAndGlyphs" fill="#333" font-family='"Liberation Sans", sans-serif'>−2.13×10</text><text x="75.9" y="822.2" font-size="6.6" textLength="9.4" lengthAdjust="spacingAndGlyphs" fill="#333" font-family='"Liberation Sans", sans-serif'>−5</text><text x="75.3" y="843.7" font-size="9.6" text-anchor="end" textLength="50" lengthAdjust="spacingAndGlyphs" fill="#333" font-family='"Liberation Sans", sans-serif'>−2.48×10</text><text x="75.9" y="838.8" font-size="6.6" textLength="9.4" lengthAdjust="spacingAndGlyphs" fill="#333" font-family='"Liberation Sans", sans-serif'>−5</text><text x="75.3" y="856" font-size="9.6" text-anchor="end" textLength="50" lengthAdjust="spacingAndGlyphs" fill="#333" font-family='"Liberation Sans", sans-serif'>−2.83×10</text><text x="75.9" y="851.1" font-size="6.6" textLength="9.4" lengthAdjust="spacingAndGlyphs" fill="#333" font-family='"Liberation Sans", sans-serif'>−5</text>
<text transform="translate(14.3 774.5) rotate(-90)" x="0" y="0" font-size="9" text-anchor="middle" textLength="164" lengthAdjust="spacingAndGlyphs" fill="#222" font-family='"Liberation Sans", sans-serif'>Residual energy (km<tspan font-size="6" dy="-3.5">2</tspan><tspan dy="3.5"> s</tspan><tspan font-size="6" dy="-3.5">−2</tspan><tspan dy="3.5"> Hz</tspan><tspan font-size="6" dy="-3.5">1.43</tspan><tspan dy="3.5">)</tspan></text>
</svg>
</body></html>
